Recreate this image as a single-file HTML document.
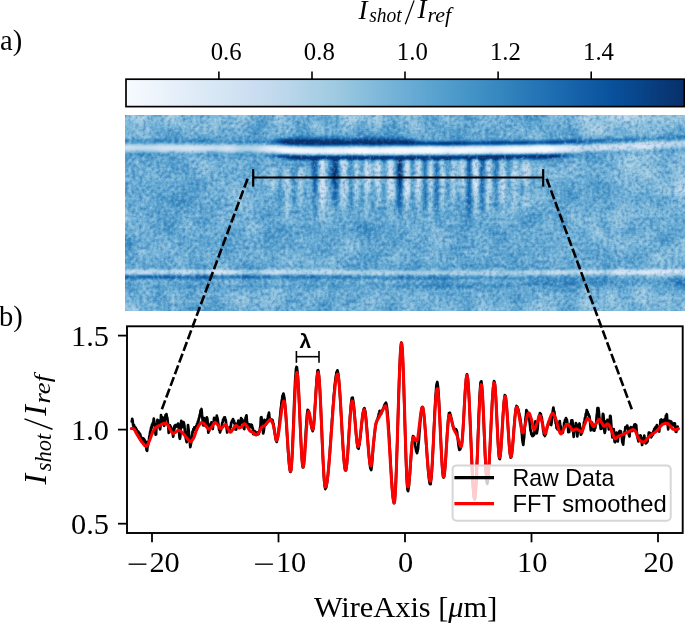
<!DOCTYPE html><html><head><meta charset="utf-8"><style>
html,body{margin:0;padding:0;background:#fff;width:685px;height:624px;overflow:hidden}
body{position:relative}
#hm{position:absolute;left:125px;top:0;width:560px;height:624px}
#hm div{position:absolute;left:0;width:560px}
#cb{position:absolute;left:125.8px;top:79.2px;width:558.5px;height:27.4px;background:linear-gradient(90deg,#f7fbff 0.0%,#eff6fc 4.2%,#e7f0fa 8.3%,#deebf7 12.5%,#d6e6f4 16.7%,#cee0f2 20.8%,#c7dbef 25.0%,#b9d6ea 29.2%,#abd0e6 33.3%,#9fcae1 37.5%,#8dc1dd 41.7%,#7cb7da 45.8%,#6caed6 50.0%,#5da5d1 54.2%,#4f9bcb 58.3%,#4292c6 62.5%,#3787c0 66.7%,#2c7cba 70.8%,#2171b5 75.0%,#1966ad 79.2%,#105ba4 83.3%,#08509b 87.5%,#08468b 91.7%,#083a7a 95.8%,#08306b 100.0%)}
</style></head><body>
<div id="hm"><div style="top:115px;height:3px;background:linear-gradient(90deg,#8abfdd 0.5px,#95c5df 6.5px,#add1e6 14.5px,#a0cbe2 19.5px,#7ab6d9 26.5px,#79b5d9 32.5px,#8dc1dd 38.5px,#a1cbe2 43.5px,#9dc9e1 48.5px,#79b6d9 57.5px,#7bb7d9 63.5px,#79b6d9 69.5px,#6baed6 76.5px,#7fb9da 88.5px,#81badb 96.5px,#6eb0d7 104.5px,#80badb 109.5px,#95c5df 114.5px,#95c5df 119.5px,#78b5d9 127.5px,#539dcd 134.5px,#519ccc 139.5px,#76b4d8 147.5px,#96c6df 153.5px,#98c6e0 157.5px,#71b1d7 165.5px,#68acd5 192.5px,#56a0ce 200.5px,#6fb0d7 213.5px,#96c6df 219.5px,#b0d2e7 224.5px,#abd0e6 228.5px,#84bcdb 236.5px,#81badb 242.5px,#a1cbe2 252.5px,#9ac8e0 256.5px,#6dafd6 263.5px,#68acd5 267.5px,#86bddc 281.5px,#84bcdb 290.5px,#6baed6 296.5px,#559fcd 302.5px,#5ba3d0 308.5px,#7eb9da 317.5px,#78b5d9 328.5px,#68acd5 335.5px,#4b98ca 342.5px,#4f9bcb 346.5px,#74b3d8 354.5px,#78b5d9 363.5px,#74b3d8 372.5px,#75b4d8 378.5px,#5fa6d1 386.5px,#56a0ce 397.5px,#4494c7 405.5px,#559fcd 414.5px,#85bcdc 430.5px,#79b6d9 437.5px,#71b1d7 445.5px,#83bbdb 452.5px,#a8cee5 459.5px,#aacfe5 463.5px,#85bcdc 471.5px,#8bbfdd 476.5px,#acd0e6 487.5px,#bfd8ec 499.5px,#b5d4e9 505.5px,#a1cbe2 512.5px,#a6cde4 520.5px,#90c2de 529.5px,#95c5df 544.5px,#9fcae1 551.5px,#8ec1de 559.5px)"></div><div style="top:118px;height:2px;background:linear-gradient(90deg,#82bbdb 0.5px,#8fc2de 6.5px,#a5cde3 12.5px,#a3cce3 17.5px,#79b5d9 26.5px,#76b4d8 32.5px,#90c2de 39.5px,#9dcae1 44.5px,#8ec1de 51.5px,#79b6d9 59.5px,#7eb9da 68.5px,#71b1d7 76.5px,#87bddc 91.5px,#81badb 97.5px,#71b2d7 103.5px,#7db8da 108.5px,#93c4df 114.5px,#8dc0dd 120.5px,#4d9aca 135.5px,#519ccc 139.5px,#7db8da 148.5px,#97c6df 154.5px,#95c5df 157.5px,#6eb0d7 165.5px,#6aadd5 180.5px,#73b2d8 191.5px,#5ba3d0 200.5px,#6eb0d7 213.5px,#a4cde3 222.5px,#a9cfe5 226.5px,#96c6df 231.5px,#81badb 236.5px,#80b9da 242.5px,#9ecae1 251.5px,#9ac8e0 255.5px,#69add5 263.5px,#65aad3 267.5px,#83bbdb 282.5px,#88bedc 291.5px,#72b2d8 296.5px,#58a1ce 302.5px,#59a2cf 307.5px,#7db8da 318.5px,#78b5d9 330.5px,#4f9bcb 343.5px,#57a0ce 347.5px,#77b5d9 356.5px,#79b5d9 364.5px,#72b2d8 371.5px,#77b5d9 377.5px,#61a7d2 386.5px,#5fa6d1 395.5px,#4896c8 405.5px,#58a1cf 414.5px,#81badb 429.5px,#79b5d9 435.5px,#6eb0d7 442.5px,#7db8da 451.5px,#a3cce3 459.5px,#a5cde3 463.5px,#88bedc 471.5px,#93c4df 478.5px,#aacfe5 490.5px,#b4d3e9 501.5px,#9dcae1 513.5px,#9fcbe2 520.5px,#8ec1de 527.5px,#96c6df 548.5px,#92c4de 557.5px,#91c3de 559.5px)"></div><div style="top:120px;height:1px;background:linear-gradient(90deg,#7cb7da 0.5px,#8abfdd 6.5px,#a1cbe2 13.5px,#9ac8e0 18.5px,#77b5d9 26.5px,#74b3d8 32.5px,#87bddc 38.5px,#99c7e0 44.5px,#7db8da 58.5px,#81badb 68.5px,#74b3d8 76.5px,#8cc0dd 91.5px,#7db8da 98.5px,#74b3d8 104.5px,#91c3de 114.5px,#82bbdb 121.5px,#4d99ca 134.5px,#519ccc 139.5px,#92c4de 153.5px,#92c4de 157.5px,#6dafd7 165.5px,#64a9d3 178.5px,#7ab6d9 190.5px,#71b1d7 194.5px,#5fa6d1 200.5px,#6dafd7 213.5px,#a0cbe2 222.5px,#a1cbe2 227.5px,#7db8da 236.5px,#7db8da 242.5px,#9ac8e0 251.5px,#95c5df 255.5px,#65aad4 263.5px,#61a7d2 267.5px,#8cc0dd 288.5px,#87bddc 293.5px,#5da5d1 301.5px,#58a1cf 306.5px,#79b5d9 318.5px,#79b5d9 330.5px,#549fcd 343.5px,#5da5d1 348.5px,#79b5d9 357.5px,#79b5d9 364.5px,#71b1d7 370.5px,#77b5d9 377.5px,#61a7d2 386.5px,#63a8d3 395.5px,#4b98ca 405.5px,#5da5d1 415.5px,#7fb9da 429.5px,#6aaed6 440.5px,#7cb7da 451.5px,#a1cbe2 460.5px,#9cc9e1 465.5px,#8abfdd 471.5px,#a1cbe2 489.5px,#abd0e6 502.5px,#99c7e0 514.5px,#99c7e0 520.5px,#8abfdd 527.5px,#94c4df 539.5px,#8fc2de 551.5px,#91c3de 559.5px)"></div><div style="top:121px;height:1px;background:linear-gradient(90deg,#79b5d9 0.5px,#85bcdc 6.5px,#9cc9e1 12.5px,#9cc9e1 16.5px,#72b2d8 28.5px,#75b4d8 34.5px,#92c4de 43.5px,#8abfdd 50.5px,#7fb9da 60.5px,#7fb9da 70.5px,#79b5d9 77.5px,#8dc1dd 90.5px,#84bcdb 96.5px,#74b3d8 103.5px,#82bbdb 109.5px,#8dc1dd 114.5px,#82bbdb 120.5px,#4d99ca 133.5px,#4e9acb 138.5px,#8dc1dd 152.5px,#91c3de 156.5px,#7ab6d9 162.5px,#69add5 167.5px,#61a7d2 178.5px,#7ab6d9 187.5px,#7fb9da 191.5px,#61a7d2 200.5px,#6aaed6 212.5px,#8abfdd 218.5px,#9dcae1 222.5px,#9dcae1 226.5px,#7ab6d9 236.5px,#7cb7da 242.5px,#99c7e0 251.5px,#92c4de 255.5px,#61a7d2 263.5px,#60a7d2 268.5px,#8fc2de 290.5px,#7fb9da 295.5px,#5fa6d1 301.5px,#58a1cf 306.5px,#75b4d8 318.5px,#7ab6d9 329.5px,#58a1cf 342.5px,#5fa6d1 348.5px,#7ab6d9 358.5px,#7ab6d9 363.5px,#71b1d7 370.5px,#77b5d9 377.5px,#63a8d3 385.5px,#66abd4 394.5px,#4e9acb 405.5px,#64a9d3 417.5px,#7cb7da 429.5px,#69add5 439.5px,#71b1d7 447.5px,#8fc2de 456.5px,#9fcae1 461.5px,#97c6df 466.5px,#8dc1dd 472.5px,#9ac8e0 483.5px,#a4cce3 504.5px,#95c5df 514.5px,#94c4df 520.5px,#89bedc 527.5px,#94c4df 539.5px,#8abfdd 551.5px,#8fc2de 559.5px)"></div><div style="top:122px;height:1px;background:linear-gradient(90deg,#75b4d8 0.5px,#7fb9da 5.5px,#99c7e0 13.5px,#8fc2de 19.5px,#71b1d7 29.5px,#72b2d8 34.5px,#8dc1dd 43.5px,#7fb9da 60.5px,#82bbdb 69.5px,#7ab6d9 77.5px,#91c3de 90.5px,#84bcdb 96.5px,#74b3d8 102.5px,#82bbdb 109.5px,#8abfdd 114.5px,#81badb 119.5px,#4b98ca 133.5px,#4b98ca 137.5px,#7fb9da 149.5px,#8dc1dd 154.5px,#87bddc 159.5px,#6caed6 166.5px,#5da5d1 177.5px,#6aaed6 183.5px,#84bcdb 190.5px,#7cb7da 194.5px,#64a9d3 200.5px,#6aaed6 212.5px,#9ac8e0 222.5px,#99c7e0 226.5px,#75b4d8 237.5px,#7cb7da 243.5px,#95c5df 250.5px,#92c4de 254.5px,#63a8d3 262.5px,#5ba3d0 267.5px,#91c3de 290.5px,#87bddc 294.5px,#60a7d2 301.5px,#5aa2cf 306.5px,#72b2d8 319.5px,#7ab6d9 328.5px,#5ba3d0 342.5px,#61a7d2 348.5px,#7cb7da 359.5px,#75b4d8 365.5px,#6fb0d7 370.5px,#75b4d8 377.5px,#63a8d3 385.5px,#6aaed6 394.5px,#529dcc 404.5px,#5ca4d0 413.5px,#79b5d9 429.5px,#66abd4 439.5px,#6dafd7 447.5px,#9dcae1 461.5px,#91c3de 471.5px,#99c7e0 481.5px,#95c5df 491.5px,#9dcae1 505.5px,#92c4de 515.5px,#8abfdd 522.5px,#8abfdd 529.5px,#92c4de 539.5px,#82bbdb 551.5px,#8cc0dd 559.5px)"></div><div style="top:123px;height:1px;background:linear-gradient(90deg,#74b3d8 0.5px,#81badb 6.5px,#94c4df 13.5px,#87bddc 21.5px,#6dafd7 30.5px,#79b5d9 37.5px,#87bddc 44.5px,#82bbdb 63.5px,#7fb9da 73.5px,#82bbdb 80.5px,#92c4de 89.5px,#85bcdc 95.5px,#74b3d8 102.5px,#89bedc 114.5px,#6caed6 123.5px,#4a98c9 133.5px,#4f9bcb 138.5px,#85bcdc 152.5px,#89bedc 157.5px,#64a9d3 170.5px,#5aa2cf 177.5px,#69add5 183.5px,#85bcdc 189.5px,#84bcdb 193.5px,#66abd4 200.5px,#6aaed6 212.5px,#94c4df 221.5px,#94c4df 225.5px,#74b3d8 236.5px,#74b3d8 241.5px,#94c4df 251.5px,#84bcdb 256.5px,#5fa6d1 262.5px,#57a0ce 267.5px,#7fb9da 283.5px,#92c4de 290.5px,#89bedc 294.5px,#63a8d3 301.5px,#5ba3d0 306.5px,#6dafd7 319.5px,#77b5d9 329.5px,#5da5d1 341.5px,#63a8d3 348.5px,#7cb7da 360.5px,#6dafd7 370.5px,#74b3d8 377.5px,#63a8d3 384.5px,#6fb0d7 393.5px,#56a0ce 404.5px,#61a7d2 415.5px,#75b4d8 429.5px,#64a9d3 441.5px,#71b1d7 449.5px,#9cc9e1 461.5px,#97c6df 473.5px,#97c6df 481.5px,#8dc1dd 491.5px,#97c6df 506.5px,#85bcdc 526.5px,#92c4de 538.5px,#81badb 547.5px,#7db8da 553.5px,#89bedc 559.5px)"></div><div style="top:124px;height:1px;background:linear-gradient(90deg,#72b2d8 0.5px,#85bcdc 8.5px,#91c3de 15.5px,#7ab6d9 25.5px,#6caed6 32.5px,#81badb 45.5px,#81badb 73.5px,#84bcdb 80.5px,#92c4de 89.5px,#84bcdb 95.5px,#74b3d8 101.5px,#7ab6d9 107.5px,#85bcdc 114.5px,#6fb0d7 121.5px,#4a98c9 132.5px,#4d99ca 137.5px,#82bbdb 152.5px,#82bbdb 159.5px,#57a0ce 176.5px,#5fa6d1 181.5px,#87bddc 189.5px,#87bddc 193.5px,#69add5 200.5px,#6aaed6 212.5px,#8fc2de 220.5px,#8fc2de 225.5px,#6fb0d7 236.5px,#6fb0d7 241.5px,#8dc1dd 249.5px,#8dc1dd 253.5px,#57a0ce 263.5px,#56a0ce 268.5px,#77b5d9 281.5px,#92c4de 290.5px,#8abfdd 294.5px,#64a9d3 301.5px,#5ba3d0 306.5px,#74b3d8 329.5px,#60a7d2 340.5px,#66abd4 349.5px,#7ab6d9 360.5px,#6aaed6 369.5px,#72b2d8 376.5px,#63a8d3 384.5px,#72b2d8 393.5px,#5aa2cf 404.5px,#64a9d3 416.5px,#72b2d8 430.5px,#61a7d2 441.5px,#6aaed6 448.5px,#9ac8e0 461.5px,#9ac8e0 479.5px,#87bddc 491.5px,#8cc0dd 501.5px,#92c4de 508.5px,#85bcdc 526.5px,#8fc2de 540.5px,#75b4d8 550.5px,#82bbdb 559.5px)"></div><div style="top:125px;height:2px;background:linear-gradient(90deg,#74b3d8 0.5px,#8cc0dd 15.5px,#7db8da 24.5px,#6aadd5 32.5px,#77b5d9 46.5px,#84bcdb 70.5px,#84bcdb 79.5px,#91c3de 89.5px,#71b2d7 100.5px,#7cb7da 109.5px,#80b9da 115.5px,#4f9bcb 129.5px,#4b98c9 135.5px,#7cb7da 152.5px,#7fb9da 161.5px,#539ecd 176.5px,#5ca3d0 181.5px,#89bedc 189.5px,#8cc0dd 192.5px,#6baed6 201.5px,#6aaed6 212.5px,#8abfdd 220.5px,#86bddc 225.5px,#6aadd5 235.5px,#6baed6 242.5px,#89bedc 249.5px,#86bddc 253.5px,#529dcc 263.5px,#519ccc 268.5px,#6dafd7 279.5px,#8fc2de 288.5px,#8dc0dd 293.5px,#63a9d3 302.5px,#5da4d0 307.5px,#6baed6 325.5px,#6dafd6 330.5px,#5fa6d1 339.5px,#75b3d8 361.5px,#68acd5 369.5px,#6fb0d7 376.5px,#61a7d2 384.5px,#75b3d8 393.5px,#5fa6d1 404.5px,#6eb0d7 431.5px,#5da5d1 443.5px,#6dafd7 450.5px,#9ac8e0 461.5px,#a1cbe2 476.5px,#80b9da 490.5px,#7db8da 498.5px,#8ec1de 508.5px,#85bcdc 525.5px,#8abfdd 539.5px,#7db8da 545.5px,#6dafd6 550.5px,#72b2d8 555.5px,#7ab6d9 559.5px)"></div><div style="top:127px;height:2px;background:linear-gradient(90deg,#76b4d8 0.5px,#88bedc 17.5px,#7fb9da 24.5px,#68acd5 32.5px,#6fb0d7 51.5px,#83bbdb 68.5px,#80b9da 78.5px,#8dc1dd 88.5px,#6dafd7 99.5px,#7bb7d9 115.5px,#4f9bcb 127.5px,#4d9aca 134.5px,#75b3d8 151.5px,#81badb 162.5px,#71b2d7 167.5px,#519ccc 175.5px,#549ecd 180.5px,#7db8da 187.5px,#8bc0dd 191.5px,#81badb 196.5px,#6dafd6 202.5px,#6aadd5 212.5px,#84bcdb 220.5px,#80b9da 224.5px,#64a9d3 233.5px,#5fa6d1 240.5px,#75b3d8 246.5px,#81badb 250.5px,#78b5d9 254.5px,#4f9bcb 262.5px,#4a98c9 267.5px,#5da5d1 276.5px,#8abfdd 287.5px,#89bedc 293.5px,#63a8d3 303.5px,#5ea5d1 313.5px,#62a8d2 324.5px,#60a7d2 332.5px,#5da4d0 339.5px,#6aaed6 350.5px,#6baed6 362.5px,#65aad3 370.5px,#6baed6 376.5px,#61a7d2 384.5px,#77b5d9 392.5px,#65aad4 403.5px,#66abd4 426.5px,#66abd4 435.5px,#58a1cf 444.5px,#6aadd5 451.5px,#9dc9e1 462.5px,#a6cde4 472.5px,#99c7e0 479.5px,#7bb7d9 489.5px,#71b2d7 497.5px,#8bc0dd 509.5px,#84bcdb 523.5px,#87bddc 532.5px,#7cb7da 543.5px,#65aad4 551.5px,#6dafd6 559.5px)"></div><div style="top:129px;height:2px;background:linear-gradient(90deg,#77b5d9 0.5px,#86bddc 20.5px,#79b5d9 26.5px,#66abd4 32.5px,#61a7d2 49.5px,#81badb 67.5px,#79b5d9 77.5px,#87bddc 87.5px,#75b4d8 93.5px,#6aadd5 98.5px,#78b5d9 113.5px,#73b2d8 117.5px,#509ccb 125.5px,#4f9bcb 132.5px,#71b1d7 149.5px,#82bbdb 161.5px,#7eb9da 165.5px,#509ccb 174.5px,#4f9bcb 179.5px,#71b2d7 186.5px,#85bcdc 190.5px,#85bcdc 194.5px,#6dafd7 203.5px,#67abd4 212.5px,#7db8da 220.5px,#79b5d9 224.5px,#5ca3d0 233.5px,#58a1ce 240.5px,#76b4d8 250.5px,#6eb0d7 254.5px,#4997c9 263.5px,#4a98c9 269.5px,#61a7d2 278.5px,#84bcdb 286.5px,#80b9da 293.5px,#5fa6d1 306.5px,#56a0ce 333.5px,#5aa2cf 339.5px,#69add5 347.5px,#63a8d3 363.5px,#61a7d2 370.5px,#69add5 377.5px,#63a9d3 384.5px,#76b4d8 393.5px,#68acd5 402.5px,#6dafd6 411.5px,#61a7d2 423.5px,#66abd4 435.5px,#529dcc 445.5px,#66aad4 452.5px,#9bc8e0 462.5px,#a7cee4 471.5px,#99c7e0 478.5px,#74b3d8 491.5px,#6dafd7 498.5px,#89bedc 510.5px,#82bbdb 522.5px,#89bedc 529.5px,#76b4d8 540.5px,#61a7d2 553.5px,#65aad4 559.5px)"></div><div style="top:131px;height:2px;background:linear-gradient(90deg,#77b5d9 0.5px,#84bcdb 16.5px,#85bcdc 22.5px,#66aad4 31.5px,#58a1ce 47.5px,#69add5 58.5px,#7db8da 65.5px,#6dafd6 76.5px,#7eb9da 87.5px,#67abd4 96.5px,#70b1d7 111.5px,#75b3d8 116.5px,#4f9bcb 125.5px,#519ccc 131.5px,#70b1d7 146.5px,#79b6d9 158.5px,#81badb 163.5px,#71b1d7 167.5px,#4c99ca 174.5px,#4c99ca 179.5px,#7ab6d9 190.5px,#7bb7d9 195.5px,#61a7d2 210.5px,#6caed6 216.5px,#78b5d9 221.5px,#66abd4 227.5px,#519ccc 235.5px,#549ecd 242.5px,#6baed6 250.5px,#62a8d2 255.5px,#4896c8 263.5px,#519ccc 273.5px,#65aad4 280.5px,#7cb7da 286.5px,#74b3d8 295.5px,#5fa6d1 309.5px,#549fcd 327.5px,#4e9acb 335.5px,#69add5 347.5px,#5ca4d0 369.5px,#68acd5 378.5px,#67abd4 386.5px,#71b1d7 393.5px,#6baed6 402.5px,#79b5d9 410.5px,#5fa6d1 421.5px,#65aad3 436.5px,#4d99ca 446.5px,#58a1cf 451.5px,#95c5df 462.5px,#a2cce2 469.5px,#9ac8e0 475.5px,#81badb 484.5px,#6eb0d7 497.5px,#86bddc 512.5px,#80b9da 521.5px,#87bddc 529.5px,#6dafd6 539.5px,#5fa6d1 555.5px,#5fa6d1 559.5px)"></div><div style="top:133px;height:1px;background:linear-gradient(90deg,#77b5d9 0.5px,#7db8da 13.5px,#89bedc 20.5px,#7cb7da 25.5px,#66abd4 30.5px,#539ecd 47.5px,#60a7d2 56.5px,#79b5d9 64.5px,#6fb0d7 70.5px,#65aad4 76.5px,#77b5d9 87.5px,#66abd4 96.5px,#6caed6 105.5px,#6caed6 111.5px,#72b2d8 116.5px,#519ccc 125.5px,#56a0ce 132.5px,#72b2d8 146.5px,#74b3d8 158.5px,#79b5d9 163.5px,#64a9d3 168.5px,#4a98c9 173.5px,#4695c8 177.5px,#5fa6d1 185.5px,#71b1d7 192.5px,#63a8d3 205.5px,#5ca4d0 212.5px,#71b1d7 221.5px,#5fa6d1 228.5px,#4b98ca 235.5px,#4d99ca 242.5px,#63a8d3 251.5px,#4f9bcb 259.5px,#4695c8 265.5px,#5ba3d0 278.5px,#75b4d8 286.5px,#65aad4 303.5px,#5aa2cf 322.5px,#4997c9 334.5px,#57a0ce 340.5px,#69add5 347.5px,#58a1cf 368.5px,#69add5 379.5px,#6aaed6 389.5px,#6aaed6 396.5px,#6caed6 401.5px,#81badb 408.5px,#7db8da 412.5px,#60a7d2 420.5px,#61a7d2 431.5px,#60a7d2 438.5px,#4997c9 446.5px,#529dcc 451.5px,#81badb 459.5px,#92c4de 463.5px,#9ac8e0 471.5px,#7db8da 483.5px,#71b1d7 498.5px,#84bcdb 513.5px,#7db8da 522.5px,#85bcdc 528.5px,#66abd4 538.5px,#56a0ce 559.5px)"></div><div style="top:134px;height:1px;background:linear-gradient(90deg,#77b5d9 0.5px,#7fb9da 14.5px,#89bedc 20.5px,#75b4d8 26.5px,#63a8d3 31.5px,#58a1cf 40.5px,#519ccc 47.5px,#60a7d2 57.5px,#77b5d9 64.5px,#6fb0d7 69.5px,#60a7d2 75.5px,#74b3d8 87.5px,#68acd5 96.5px,#6dafd7 104.5px,#6aaed6 111.5px,#6fb0d7 116.5px,#529dcc 125.5px,#5ca4d0 134.5px,#74b3d8 146.5px,#6caed6 158.5px,#6caed6 164.5px,#4292c6 174.5px,#4594c7 179.5px,#63a8d3 190.5px,#64a9d3 199.5px,#549fcd 211.5px,#6aaed6 222.5px,#529dcc 230.5px,#4493c7 237.5px,#4d99ca 245.5px,#5aa2cf 251.5px,#4896c8 260.5px,#4493c7 266.5px,#5aa2cf 279.5px,#71b1d7 287.5px,#63a8d3 310.5px,#5da5d1 320.5px,#4896c8 333.5px,#529dcc 339.5px,#68acd5 346.5px,#5da5d1 361.5px,#57a0ce 369.5px,#69add5 379.5px,#6aaed6 400.5px,#87bddc 409.5px,#7fb9da 413.5px,#64a9d3 419.5px,#5da5d1 427.5px,#63a8d3 437.5px,#4896c8 446.5px,#4e9acb 451.5px,#6fb0d7 457.5px,#87bddc 461.5px,#92c4de 468.5px,#8dc1dd 474.5px,#7ab6d9 482.5px,#75b4d8 493.5px,#75b4d8 507.5px,#7fb9da 514.5px,#79b5d9 522.5px,#7db8da 528.5px,#6dafd7 533.5px,#5ba3d0 539.5px,#4997c9 559.5px)"></div><div style="top:135px;height:1px;background:linear-gradient(90deg,#77b5d9 0.5px,#7db8da 14.5px,#87bddc 20.5px,#79b5d9 25.5px,#63a8d3 30.5px,#57a0ce 40.5px,#519ccc 47.5px,#5ba3d0 56.5px,#75b4d8 64.5px,#6aaed6 69.5px,#5ba3d0 75.5px,#69add5 83.5px,#6fb0d7 88.5px,#68acd5 96.5px,#6fb0d7 103.5px,#66abd4 110.5px,#6caed6 117.5px,#539ecd 126.5px,#63a8d3 137.5px,#72b2d8 145.5px,#60a7d2 159.5px,#5ba3d0 165.5px,#3d8dc4 172.5px,#3d8dc4 179.5px,#56a0ce 191.5px,#549fcd 202.5px,#4a98c9 211.5px,#60a7d2 222.5px,#4a98c9 230.5px,#3d8dc4 237.5px,#4191c6 245.5px,#4e9acb 252.5px,#3d8dc4 263.5px,#4f9bcb 278.5px,#6aaed6 287.5px,#69add5 301.5px,#65aad4 312.5px,#56a0ce 325.5px,#4695c8 333.5px,#529dcc 339.5px,#68acd5 346.5px,#5da5d1 361.5px,#56a0ce 369.5px,#69add5 379.5px,#69add5 399.5px,#8abfdd 409.5px,#82bbdb 413.5px,#63a8d3 420.5px,#5ca4d0 429.5px,#60a7d2 438.5px,#4594c7 447.5px,#4e9acb 452.5px,#82bbdb 461.5px,#8abfdd 471.5px,#74b3d8 483.5px,#74b3d8 492.5px,#6aaed6 507.5px,#74b3d8 515.5px,#6caed6 522.5px,#71b1d7 528.5px,#4b98ca 539.5px,#3b8bc2 559.5px)"></div><div style="top:136px;height:1px;background:linear-gradient(90deg,#74b3d8 0.5px,#79b5d9 14.5px,#82bbdb 21.5px,#60a7d2 30.5px,#4f9bcb 47.5px,#58a1cf 56.5px,#72b2d8 64.5px,#66abd4 69.5px,#56a0ce 75.5px,#5fa6d1 81.5px,#6aaed6 88.5px,#69add5 97.5px,#6fb0d7 102.5px,#64a9d3 111.5px,#68acd5 117.5px,#549fcd 126.5px,#60a7d2 136.5px,#71b1d7 145.5px,#56a0ce 155.5px,#3d8dc4 168.5px,#2f7fbc 174.5px,#4695c8 196.5px,#3b8bc2 211.5px,#519ccc 222.5px,#3282be 237.5px,#3686c0 246.5px,#3e8ec4 253.5px,#3383be 264.5px,#4695c8 279.5px,#64a9d3 288.5px,#6caed6 299.5px,#66abd4 311.5px,#5ca4d0 323.5px,#4695c8 333.5px,#4e9acb 338.5px,#69add5 346.5px,#5ca4d0 362.5px,#549fcd 369.5px,#68acd5 380.5px,#66abd4 398.5px,#7ab6d9 404.5px,#8cc0dd 409.5px,#85bcdc 413.5px,#64a9d3 420.5px,#5aa2cf 429.5px,#5fa6d1 438.5px,#4292c6 448.5px,#4a98c9 452.5px,#79b5d9 461.5px,#7db8da 468.5px,#7ab6d9 474.5px,#69add5 482.5px,#69add5 493.5px,#5ba3d0 508.5px,#63a8d3 515.5px,#5ba3d0 523.5px,#5ca4d0 529.5px,#3b8bc2 539.5px,#3282be 559.5px)"></div><div style="top:137px;height:1px;background:linear-gradient(90deg,#6dafd7 0.5px,#6fb0d7 14.5px,#7ab6d9 20.5px,#66abd4 26.5px,#58a1cf 32.5px,#529dcc 40.5px,#4b98ca 48.5px,#549fcd 56.5px,#6caed6 64.5px,#60a7d2 69.5px,#4e9acb 75.5px,#5ba3d0 82.5px,#64a9d3 89.5px,#68acd5 97.5px,#6aaed6 103.5px,#5fa6d1 111.5px,#60a7d2 119.5px,#539ecd 128.5px,#63a8d3 139.5px,#69add5 145.5px,#56a0ce 151.5px,#3888c1 158.5px,#206fb4 174.5px,#3282be 200.5px,#2a7ab9 211.5px,#3d8dc4 222.5px,#2272b6 238.5px,#2575b7 247.5px,#2c7cba 254.5px,#2474b7 264.5px,#3a8ac2 280.5px,#61a7d2 291.5px,#6caed6 299.5px,#66abd4 311.5px,#5ba3d0 324.5px,#4695c8 333.5px,#4d99ca 338.5px,#69add5 346.5px,#5da5d1 361.5px,#529dcc 369.5px,#64a9d3 379.5px,#63a8d3 398.5px,#7cb7da 405.5px,#8abfdd 410.5px,#7fb9da 414.5px,#63a8d3 420.5px,#549fcd 430.5px,#58a1cf 438.5px,#3d8dc4 448.5px,#4292c6 452.5px,#68acd5 460.5px,#6caed6 465.5px,#65aad4 475.5px,#58a1cf 482.5px,#549fcd 496.5px,#4493c7 507.5px,#4f9bcb 515.5px,#4a98c9 523.5px,#4b98ca 530.5px,#3282be 539.5px,#3585bf 559.5px)"></div><div style="top:138px;height:1px;background:linear-gradient(90deg,#64a9d3 0.5px,#63a8d3 14.5px,#69add5 21.5px,#4e9acb 31.5px,#4a98c9 40.5px,#4594c7 48.5px,#4b98ca 56.5px,#63a8d3 64.5px,#529dcc 70.5px,#4493c7 75.5px,#4a98c9 80.5px,#5aa2cf 87.5px,#63a8d3 102.5px,#549fcd 111.5px,#56a0ce 120.5px,#4d99ca 131.5px,#5fa6d1 143.5px,#529dcc 148.5px,#2373b6 157.5px,#1562a9 167.5px,#115ca5 175.5px,#1b69af 202.5px,#1663aa 211.5px,#2676b8 222.5px,#115ca5 243.5px,#1865ac 255.5px,#1562a9 264.5px,#2575b7 280.5px,#539ecd 291.5px,#66abd4 298.5px,#5fa6d1 319.5px,#4b98ca 329.5px,#4292c6 335.5px,#65aad4 346.5px,#5aa2cf 361.5px,#4b98ca 369.5px,#5ca4d0 381.5px,#5aa2cf 398.5px,#71b1d7 405.5px,#7db8da 409.5px,#77b5d9 413.5px,#56a0ce 422.5px,#4896c8 430.5px,#4a98c9 439.5px,#3181bd 449.5px,#3c8cc3 454.5px,#56a0ce 461.5px,#4d99ca 475.5px,#3f8fc5 483.5px,#3d8dc4 498.5px,#3282be 507.5px,#4191c6 516.5px,#4292c6 524.5px,#4896c8 530.5px,#3585bf 540.5px,#4594c7 559.5px)"></div><div style="top:139px;height:1px;background:linear-gradient(90deg,#57a0ce 0.5px,#549fcd 9.5px,#56a0ce 16.5px,#57a0ce 22.5px,#4292c6 30.5px,#3e8ec4 42.5px,#3e8ec4 55.5px,#56a0ce 64.5px,#4594c7 70.5px,#3888c1 76.5px,#4d99ca 88.5px,#57a0ce 102.5px,#4695c8 111.5px,#4896c8 121.5px,#4292c6 134.5px,#4f9bcb 142.5px,#4292c6 147.5px,#135fa7 156.5px,#08509b 161.5px,#084488 173.5px,#084b93 186.5px,#08509b 198.5px,#084e98 205.5px,#084b93 211.5px,#125ea6 221.5px,#09529d 233.5px,#08468b 244.5px,#084e98 255.5px,#084c95 263.5px,#0e58a2 272.5px,#1460a8 281.5px,#4695c8 293.5px,#5ba3d0 299.5px,#529dcc 321.5px,#3a8ac2 334.5px,#4695c8 340.5px,#5aa2cf 346.5px,#4e9acb 360.5px,#3d8dc4 369.5px,#4997c9 381.5px,#4594c7 393.5px,#4997c9 400.5px,#63a8d3 409.5px,#5ca4d0 414.5px,#3a8ac2 425.5px,#3282be 432.5px,#3383be 440.5px,#1e6db2 449.5px,#2979b9 454.5px,#3b8bc2 461.5px,#3383be 476.5px,#2c7cba 485.5px,#3181bd 500.5px,#2c7cba 507.5px,#4493c7 516.5px,#4997c9 523.5px,#56a0ce 530.5px,#4695c8 540.5px,#61a7d2 559.5px)"></div><div style="top:140px;height:1px;background:linear-gradient(90deg,#4f9bcb 0.5px,#4a98c9 9.5px,#4997c9 16.5px,#4a98c9 22.5px,#3b8bc2 30.5px,#3989c1 42.5px,#3989c1 56.5px,#4b98ca 64.5px,#3c8cc3 70.5px,#3181bd 75.5px,#4191c6 89.5px,#4d99ca 101.5px,#3b8bc2 112.5px,#3888c1 129.5px,#3a8ac2 136.5px,#4090c5 142.5px,#2d7dbb 148.5px,#08509b 155.5px,#083b7c 160.5px,#08316d 168.5px,#083370 178.5px,#083471 194.5px,#083877 202.5px,#083370 210.5px,#08478d 221.5px,#084184 232.5px,#08306b 243.5px,#083674 251.5px,#083877 263.5px,#08458a 272.5px,#08458a 280.5px,#0c56a0 285.5px,#3585bf 295.5px,#4493c7 302.5px,#3484bf 327.5px,#2979b9 335.5px,#4191c6 346.5px,#3383be 362.5px,#2676b8 370.5px,#2f7fbc 385.5px,#2a7ab9 399.5px,#3f8fc5 410.5px,#3181bd 418.5px,#1966ad 429.5px,#1a68ae 441.5px,#0e59a2 449.5px,#1c6bb0 456.5px,#2676b8 461.5px,#2272b6 479.5px,#2a7ab9 488.5px,#3686c0 500.5px,#3686c0 507.5px,#57a0ce 515.5px,#63a8d3 524.5px,#71b1d7 530.5px,#65aad4 540.5px,#85bcdc 559.5px)"></div><div style="top:141px;height:1px;background:linear-gradient(90deg,#539ecd 0.5px,#4d99ca 8.5px,#4896c8 15.5px,#4997c9 22.5px,#3d8dc4 30.5px,#3d8dc4 42.5px,#3b8bc2 56.5px,#4b98ca 64.5px,#3282be 75.5px,#4b98ca 100.5px,#3787c0 113.5px,#3484bf 129.5px,#3787c0 137.5px,#3787c0 143.5px,#1d6cb1 149.5px,#084c95 154.5px,#083573 158.5px,#08306b 160.5px,#08316d 218.5px,#083573 224.5px,#08306b 242.5px,#08316d 267.5px,#083674 272.5px,#08316d 280.5px,#083c7d 285.5px,#0b559f 291.5px,#2171b5 299.5px,#2070b4 311.5px,#1561a9 330.5px,#125ea6 337.5px,#2474b7 346.5px,#1865ac 362.5px,#0e59a2 370.5px,#1561a9 389.5px,#105ba4 399.5px,#2070b4 410.5px,#1966ad 418.5px,#084e98 429.5px,#0e58a2 442.5px,#08509b 449.5px,#206fb4 461.5px,#3080bd 485.5px,#4d99ca 498.5px,#4e9acb 506.5px,#6caed6 512.5px,#7db8da 516.5px,#85bcdc 523.5px,#99c7e0 530.5px,#8abfdd 539.5px,#a4cce3 559.5px)"></div><div style="top:142px;height:1px;background:linear-gradient(90deg,#65aad4 0.5px,#5ca4d0 8.5px,#56a0ce 15.5px,#56a0ce 22.5px,#4d99ca 30.5px,#539ecd 39.5px,#4997c9 53.5px,#57a0ce 61.5px,#58a1cf 66.5px,#3f8fc5 74.5px,#4b98ca 89.5px,#57a0ce 101.5px,#3e8ec4 113.5px,#3d8dc4 136.5px,#3e8ec4 142.5px,#2777b8 148.5px,#08509b 154.5px,#083471 159.5px,#08306b 163.5px,#08326e 269.5px,#08316d 286.5px,#08509b 297.5px,#0a549e 304.5px,#084990 321.5px,#08468b 329.5px,#084285 335.5px,#084c95 340.5px,#0f5aa3 346.5px,#08509b 361.5px,#08458a 369.5px,#08509b 390.5px,#084a91 398.5px,#115ca5 406.5px,#1764ab 413.5px,#084d96 427.5px,#084e98 432.5px,#1460a8 441.5px,#125ea6 450.5px,#2b7bba 460.5px,#4493c7 480.5px,#5ca4d0 490.5px,#74b3d8 499.5px,#75b4d8 506.5px,#8abfdd 510.5px,#a3cce3 514.5px,#a8cee4 520.5px,#b5d4e9 530.5px,#a9cfe5 541.5px,#b5d4e9 559.5px)"></div><div style="top:143px;height:1px;background:linear-gradient(90deg,#85bcdc 0.5px,#79b5d9 8.5px,#6fb0d7 14.5px,#72b2d8 21.5px,#69add5 29.5px,#74b3d8 39.5px,#66abd4 53.5px,#71b1d7 59.5px,#7ab6d9 64.5px,#5ca4d0 75.5px,#65aad4 88.5px,#71b1d7 98.5px,#6fb0d7 103.5px,#539ecd 113.5px,#519ccc 134.5px,#58a1cf 141.5px,#4997c9 146.5px,#1967ad 154.5px,#084c95 159.5px,#083674 166.5px,#08306b 172.5px,#08316d 216.5px,#083979 224.5px,#083c7d 234.5px,#08306b 241.5px,#08326e 260.5px,#084184 271.5px,#08326e 281.5px,#083c7d 289.5px,#084b93 299.5px,#084184 313.5px,#083b7c 320.5px,#083d7f 336.5px,#0c56a0 345.5px,#0a539e 361.5px,#084a91 368.5px,#115ca5 386.5px,#115ca5 393.5px,#125da6 400.5px,#2777b8 411.5px,#2575b7 420.5px,#1c6ab0 429.5px,#2777b8 436.5px,#3383be 442.5px,#3181bd 450.5px,#4997c9 460.5px,#5aa2cf 469.5px,#6fb0d7 479.5px,#7cb7da 486.5px,#a0cbe2 498.5px,#a0cbe2 506.5px,#c4daee 515.5px,#c7dbef 532.5px,#b9d6ea 541.5px,#bad6eb 559.5px)"></div><div style="top:144px;height:1px;background:linear-gradient(90deg,#a8cee4 0.5px,#9fcae1 7.5px,#92c4de 13.5px,#92c4de 23.5px,#92c4de 30.5px,#9fcae1 38.5px,#91c3de 53.5px,#a1cbe2 64.5px,#84bcdb 75.5px,#8cc0dd 85.5px,#8cc0dd 93.5px,#99c7e0 101.5px,#89bedc 107.5px,#6fb0d7 115.5px,#71b1d7 133.5px,#82bbdb 141.5px,#7ab6d9 145.5px,#4997c9 153.5px,#1f6eb3 161.5px,#0b559f 170.5px,#084d96 176.5px,#084a91 184.5px,#084387 194.5px,#084b93 205.5px,#08478d 211.5px,#0b559f 221.5px,#125ea6 234.5px,#084b93 243.5px,#084b93 248.5px,#0d57a1 263.5px,#1561a9 272.5px,#0a539e 283.5px,#1966ad 300.5px,#0a549e 321.5px,#1460a8 338.5px,#2676b8 347.5px,#2676b8 362.5px,#2373b6 370.5px,#3e8ec4 390.5px,#3c8cc3 399.5px,#64a9d3 412.5px,#66abd4 420.5px,#56a0ce 428.5px,#5ca4d0 434.5px,#6dafd7 441.5px,#65aad4 450.5px,#75b4d8 461.5px,#84bcdb 468.5px,#9fcae1 476.5px,#abd0e6 489.5px,#bed8ec 499.5px,#bcd7eb 506.5px,#d2e3f3 515.5px,#caddf0 533.5px,#bad6eb 546.5px,#b7d4ea 559.5px)"></div><div style="top:145px;height:1px;background:linear-gradient(90deg,#bed8ec 0.5px,#b2d2e8 9.5px,#aed1e7 16.5px,#afd1e7 29.5px,#bdd7ec 39.5px,#b3d3e8 52.5px,#bed8ec 65.5px,#aacfe5 75.5px,#abd0e6 86.5px,#aacfe5 93.5px,#b8d5ea 101.5px,#a8cee4 108.5px,#8fc2de 116.5px,#94c4df 132.5px,#aed1e7 141.5px,#add0e6 146.5px,#9ac8e0 151.5px,#60a7d2 160.5px,#4090c5 167.5px,#2f7fbc 176.5px,#2474b7 190.5px,#2676b8 199.5px,#2b7bba 206.5px,#2b7bba 214.5px,#4191c6 234.5px,#2c7cba 245.5px,#3a8ac2 263.5px,#4493c7 272.5px,#3888c1 283.5px,#4997c9 294.5px,#539ecd 301.5px,#4695c8 312.5px,#3b8bc2 320.5px,#4b98ca 337.5px,#68acd5 347.5px,#6dafd7 359.5px,#65aad4 367.5px,#95c5df 389.5px,#8dc1dd 398.5px,#b9d6ea 412.5px,#bfd8ed 420.5px,#a8cee4 430.5px,#b2d2e8 441.5px,#a1cbe2 450.5px,#a3cce3 465.5px,#bed8ec 476.5px,#c3daee 489.5px,#ccdff1 500.5px,#ccdff1 508.5px,#d8e7f5 516.5px,#c7dbef 534.5px,#b4d3e9 545.5px,#aacfe5 559.5px)"></div><div style="top:146px;height:1px;background:linear-gradient(90deg,#cadef0 0.5px,#c1d9ed 9.5px,#bdd7ec 16.5px,#c2d9ee 29.5px,#cde0f1 39.5px,#c9ddf0 55.5px,#cde0f1 66.5px,#c3daee 77.5px,#c3daee 84.5px,#bcd7eb 92.5px,#cbdef1 102.5px,#bed8ec 108.5px,#a8cee4 115.5px,#add0e6 131.5px,#cadef0 141.5px,#cddff1 149.5px,#bfd8ed 155.5px,#75b4d8 174.5px,#6dafd7 185.5px,#61a7d2 196.5px,#6fb0d7 205.5px,#68acd5 212.5px,#92c4de 233.5px,#82bbdb 239.5px,#72b2d8 244.5px,#7fb9da 260.5px,#97c6df 271.5px,#85bcdc 282.5px,#9cc9e1 292.5px,#b0d2e7 300.5px,#abd0e6 309.5px,#94c4df 319.5px,#9ac8e0 327.5px,#afd1e7 341.5px,#bdd7ec 349.5px,#bed8ec 360.5px,#b7d4ea 367.5px,#cde0f1 383.5px,#d0e2f2 393.5px,#d0e1f2 401.5px,#e7f1fa 418.5px,#d1e2f3 433.5px,#d0e2f2 443.5px,#b5d4e9 463.5px,#ccdff1 475.5px,#cde0f1 493.5px,#cddff1 503.5px,#d3e4f3 511.5px,#d6e5f4 518.5px,#c1d9ed 532.5px,#a9cfe5 542.5px,#97c6df 559.5px)"></div><div style="top:147px;height:1px;background:linear-gradient(90deg,#cde0f1 0.5px,#c2d9ee 16.5px,#caddf0 30.5px,#d3e3f3 41.5px,#d0e1f2 54.5px,#d4e4f4 66.5px,#cde0f1 78.5px,#c6dbef 92.5px,#d2e3f3 103.5px,#bed8ec 111.5px,#b0d2e7 117.5px,#b8d5ea 130.5px,#d8e7f5 142.5px,#ddeaf7 152.5px,#c1d9ed 172.5px,#aed1e7 191.5px,#add0e6 198.5px,#b8d5ea 205.5px,#b2d2e8 214.5px,#cee0f2 233.5px,#c2d9ee 241.5px,#bcd7eb 247.5px,#c4daee 260.5px,#d0e2f2 273.5px,#cadef0 284.5px,#e1edf8 303.5px,#cee0f2 322.5px,#e1edf8 356.5px,#d9e8f5 368.5px,#ecf4fb 390.5px,#e6f0f9 400.5px,#f7fbff 415.5px,#f4f9fe 424.5px,#e0ecf8 433.5px,#dceaf6 443.5px,#bed8ec 464.5px,#cfe1f2 475.5px,#ccdff1 493.5px,#cbdef1 502.5px,#ccdff1 510.5px,#cee0f2 518.5px,#b4d3e9 530.5px,#92c4de 541.5px,#7db8da 559.5px)"></div><div style="top:148px;height:1px;background:linear-gradient(90deg,#cadef0 0.5px,#c2d9ee 10.5px,#c1d9ed 18.5px,#caddf0 30.5px,#d3e4f3 40.5px,#d0e2f2 52.5px,#d6e6f4 66.5px,#d0e1f2 78.5px,#c3daee 91.5px,#d4e4f4 103.5px,#c1d9ed 111.5px,#b3d3e8 117.5px,#b7d4ea 127.5px,#e2edf8 145.5px,#e9f2fa 159.5px,#d9e8f5 177.5px,#d1e2f3 198.5px,#d8e7f5 207.5px,#d6e5f4 217.5px,#e9f2fa 235.5px,#dbe9f6 247.5px,#e3eef9 263.5px,#ebf3fb 274.5px,#e5eff9 285.5px,#f7fbff 304.5px,#e9f2fa 315.5px,#e3eef9 323.5px,#ebf3fb 336.5px,#eef5fc 358.5px,#e6f0f9 368.5px,#f7fbff 390.5px,#f0f6fd 401.5px,#f7fbff 410.5px,#f5f9fe 426.5px,#e5eff9 433.5px,#dfebf7 444.5px,#c4daee 459.5px,#bdd7ec 464.5px,#ccdff1 475.5px,#c3daee 492.5px,#c3daee 500.5px,#bad6eb 508.5px,#c3daee 516.5px,#9dcae1 530.5px,#7cb7da 538.5px,#6dafd7 550.5px,#69add5 559.5px)"></div><div style="top:149px;height:1px;background:linear-gradient(90deg,#c1d9ed 0.5px,#bad6eb 8.5px,#b2d2e8 15.5px,#bed8ec 29.5px,#cee0f2 38.5px,#cadef0 51.5px,#d2e3f3 66.5px,#c6dbef 84.5px,#bad6eb 90.5px,#c3daee 95.5px,#d1e2f3 102.5px,#c4daee 109.5px,#afd1e7 115.5px,#aed1e7 124.5px,#c1d9ed 132.5px,#e0ecf8 144.5px,#f2f7fd 159.5px,#e9f2fa 180.5px,#e0ecf8 198.5px,#e8f1fa 207.5px,#e3eef8 215.5px,#f7fbff 233.5px,#f2f7fd 240.5px,#eaf2fb 254.5px,#f7fbff 271.5px,#f3f8fe 292.5px,#f7fbff 312.5px,#eaf3fb 322.5px,#f4f9fe 335.5px,#f2f7fd 358.5px,#e9f2fa 368.5px,#f7fbff 387.5px,#f3f8fe 402.5px,#f7fbff 425.5px,#e4eff9 433.5px,#deebf7 444.5px,#c4daee 457.5px,#b2d2e8 462.5px,#b9d6ea 469.5px,#bfd8ed 476.5px,#aed1e7 491.5px,#b0d2e7 499.5px,#a4cce3 507.5px,#abd0e6 516.5px,#97c6df 525.5px,#69add5 536.5px,#5da5d1 547.5px,#60a7d2 559.5px)"></div><div style="top:150px;height:1px;background:linear-gradient(90deg,#abd0e6 0.5px,#a5cde3 9.5px,#9dcae1 16.5px,#abd0e6 29.5px,#c1d9ed 38.5px,#b9d6ea 49.5px,#c9ddf0 62.5px,#b9d6ea 82.5px,#a8cee4 90.5px,#b5d4e9 96.5px,#c7dbef 101.5px,#c2d9ee 106.5px,#a3cce3 114.5px,#9fcae1 123.5px,#b0d2e7 131.5px,#cddff1 138.5px,#f5fafe 159.5px,#eff6fc 180.5px,#e8f1fa 198.5px,#f1f7fd 207.5px,#eaf2fb 216.5px,#f7fbff 229.5px,#f2f7fd 250.5px,#f6faff 261.5px,#f5f9fe 314.5px,#ebf3fb 322.5px,#f6faff 334.5px,#f2f8fd 344.5px,#f2f7fd 357.5px,#e7f0fa 367.5px,#f7fbff 389.5px,#f2f8fd 402.5px,#f7fbff 424.5px,#deebf7 433.5px,#d6e6f4 444.5px,#c2d9ee 454.5px,#a0cbe2 461.5px,#9cc9e1 465.5px,#a8cee4 475.5px,#94c4df 490.5px,#99c7e0 499.5px,#8abfdd 507.5px,#95c5df 516.5px,#7fb9da 526.5px,#5da5d1 535.5px,#549fcd 545.5px,#60a7d2 558.5px,#60a7d2 559.5px)"></div><div style="top:151px;height:1px;background:linear-gradient(90deg,#8dc1dd 0.5px,#8cc0dd 7.5px,#7cb7da 15.5px,#89bedc 27.5px,#a6cee4 37.5px,#a5cde3 42.5px,#9fcae1 49.5px,#b3d3e8 62.5px,#a3cce3 81.5px,#8abfdd 89.5px,#92c4de 94.5px,#b0d2e7 101.5px,#aed1e7 105.5px,#89bedc 114.5px,#84bcdb 122.5px,#91c3de 128.5px,#c6dbef 142.5px,#f0f6fd 160.5px,#eef5fc 190.5px,#eaf2fb 198.5px,#f3f8fe 206.5px,#ebf3fb 216.5px,#f7fbff 228.5px,#f2f8fd 250.5px,#f5f9fe 260.5px,#f4f9fe 285.5px,#f5f9fe 296.5px,#f5f9fe 313.5px,#e8f1fa 322.5px,#f5f9fe 334.5px,#edf4fc 343.5px,#eef5fc 354.5px,#dfecf7 367.5px,#f0f6fd 389.5px,#e9f2fa 402.5px,#eaf3fb 415.5px,#eef5fc 422.5px,#cde0f1 433.5px,#c3daee 444.5px,#a8cee4 454.5px,#7fb9da 461.5px,#79b5d9 465.5px,#85bcdc 474.5px,#77b5d9 489.5px,#81badb 499.5px,#75b4d8 506.5px,#84bcdb 517.5px,#72b2d8 527.5px,#57a0ce 536.5px,#57a0ce 547.5px,#69add5 557.5px,#69add5 559.5px)"></div><div style="top:152px;height:1px;background:linear-gradient(90deg,#6dafd7 0.5px,#6caed6 8.5px,#5da5d1 17.5px,#6aaed6 28.5px,#89bedc 38.5px,#7fb9da 44.5px,#7ab6d9 48.5px,#94c4df 59.5px,#97c6df 67.5px,#7fb9da 82.5px,#6aaed6 88.5px,#6caed6 93.5px,#94c4df 101.5px,#91c3de 105.5px,#6aaed6 114.5px,#69add5 124.5px,#7ab6d9 130.5px,#9ac8e0 139.5px,#b5d4e9 149.5px,#d6e6f4 158.5px,#e7f1fa 183.5px,#dfecf7 198.5px,#eaf2fb 207.5px,#e1edf8 216.5px,#f5fafe 235.5px,#e6f0f9 256.5px,#f6faff 274.5px,#e6f0f9 287.5px,#eaf2fb 298.5px,#eef5fc 310.5px,#dce9f6 321.5px,#e9f2fa 333.5px,#deebf7 343.5px,#deebf7 354.5px,#cddff1 366.5px,#d9e7f5 390.5px,#cbdef1 414.5px,#cfe1f2 422.5px,#c1d9ed 426.5px,#a5cde3 431.5px,#89bedc 452.5px,#5fa6d1 461.5px,#5ca4d0 467.5px,#65aad4 476.5px,#65aad4 490.5px,#72b2d8 499.5px,#6fb0d7 508.5px,#7fb9da 518.5px,#79b5d9 526.5px,#5ca4d0 536.5px,#5da5d1 546.5px,#75b4d8 557.5px,#77b5d9 559.5px)"></div><div style="top:153px;height:1px;background:linear-gradient(90deg,#5aa2cf 0.5px,#57a0ce 9.5px,#4896c8 18.5px,#57a0ce 29.5px,#6dafd7 38.5px,#61a7d2 45.5px,#61a7d2 50.5px,#79b5d9 59.5px,#7cb7da 67.5px,#61a7d2 83.5px,#519ccc 90.5px,#57a0ce 94.5px,#77b5d9 102.5px,#6aaed6 107.5px,#549fcd 115.5px,#57a0ce 126.5px,#6dafd7 136.5px,#6dafd7 147.5px,#84bcdb 153.5px,#a6cee4 159.5px,#c8dcf0 176.5px,#ccdff1 189.5px,#c7dcef 199.5px,#d0e1f2 207.5px,#c8dcf0 217.5px,#d9e7f5 237.5px,#caddf0 256.5px,#dae8f6 274.5px,#caddf0 286.5px,#d3e3f3 311.5px,#bed8ec 321.5px,#cee0f2 332.5px,#bdd7ec 343.5px,#bed8ec 352.5px,#95c5df 365.5px,#a6cee4 389.5px,#95c5df 401.5px,#87bddc 407.5px,#7ab6d9 412.5px,#85bcdc 421.5px,#72b2d8 425.5px,#56a0ce 430.5px,#519ccc 435.5px,#60a7d2 452.5px,#4594c7 463.5px,#57a0ce 481.5px,#64a9d3 492.5px,#72b2d8 501.5px,#75b4d8 509.5px,#85bcdc 521.5px,#7db8da 528.5px,#66abd4 535.5px,#63a8d3 545.5px,#7fb9da 555.5px,#81badb 559.5px)"></div><div style="top:154px;height:1px;background:linear-gradient(90deg,#529dcc 0.5px,#519ccc 9.5px,#3f8fc5 18.5px,#4a98c9 28.5px,#63a8d3 38.5px,#519ccc 48.5px,#6aaed6 60.5px,#6aaed6 69.5px,#57a0ce 82.5px,#4493c7 90.5px,#4997c9 94.5px,#65aad4 101.5px,#63a8d3 105.5px,#4b98ca 113.5px,#4b98ca 127.5px,#5ba3d0 134.5px,#4a98c9 141.5px,#3989c1 149.5px,#4292c6 156.5px,#57a0ce 165.5px,#6fb0d7 173.5px,#84bcdb 182.5px,#84bcdb 190.5px,#77b5d9 197.5px,#8fc2de 206.5px,#7cb7da 215.5px,#94c4df 228.5px,#9ac8e0 237.5px,#7db8da 255.5px,#8fc2de 266.5px,#9dcae1 273.5px,#8abfdd 279.5px,#7cb7da 284.5px,#84bcdb 296.5px,#95c5df 310.5px,#85bcdc 315.5px,#6fb0d7 320.5px,#74b3d8 324.5px,#89bedc 330.5px,#84bcdb 334.5px,#68acd5 341.5px,#6aaed6 351.5px,#4090c5 362.5px,#4090c5 370.5px,#4594c7 382.5px,#4997c9 389.5px,#3686c0 405.5px,#2474b7 413.5px,#2b7bba 422.5px,#1764ab 431.5px,#2a7ab9 440.5px,#4a98c9 452.5px,#3c8cc3 465.5px,#68acd5 492.5px,#7cb7da 499.5px,#84bcdb 511.5px,#8dc1dd 525.5px,#6aaed6 537.5px,#69add5 546.5px,#84bcdb 555.5px,#85bcdc 559.5px)"></div><div style="top:155px;height:1px;background:linear-gradient(90deg,#539ecd 0.5px,#539ecd 10.5px,#4090c5 19.5px,#4d99ca 29.5px,#61a7d2 38.5px,#519ccc 45.5px,#4e9acb 49.5px,#68acd5 59.5px,#66abd4 72.5px,#4f9bcb 85.5px,#4292c6 92.5px,#61a7d2 101.5px,#5ca4d0 106.5px,#4d99ca 113.5px,#4a98c9 127.5px,#57a0ce 134.5px,#4896c8 139.5px,#1d6cb1 149.5px,#1460a8 156.5px,#1865ac 169.5px,#2e7ebc 181.5px,#3080bd 190.5px,#2979b9 198.5px,#3686c0 207.5px,#2c7cba 216.5px,#3989c1 231.5px,#3787c0 242.5px,#2b7bba 257.5px,#3a8ac2 270.5px,#3888c1 276.5px,#2676b8 284.5px,#3c8cc3 311.5px,#2171b5 321.5px,#3484bf 331.5px,#2777b8 337.5px,#1f6eb3 343.5px,#2171b5 351.5px,#08509b 362.5px,#08509b 368.5px,#0e58a2 383.5px,#0f5aa3 391.5px,#09529d 404.5px,#083d7f 411.5px,#083d7f 415.5px,#08458a 421.5px,#083b7c 429.5px,#084184 432.5px,#0e58a2 437.5px,#3585bf 447.5px,#4896c8 453.5px,#4090c5 460.5px,#3d8dc4 466.5px,#6dafd7 491.5px,#87bddc 499.5px,#91c3de 526.5px,#6caed6 538.5px,#6aaed6 546.5px,#87bddc 555.5px,#87bddc 559.5px)"></div><div style="top:156px;height:1px;background:linear-gradient(90deg,#5aa2cf 0.5px,#5ba3d0 10.5px,#4695c8 20.5px,#539ecd 29.5px,#66abd4 38.5px,#519ccc 47.5px,#56a0ce 51.5px,#6caed6 59.5px,#6caed6 73.5px,#549fcd 86.5px,#4a98c9 92.5px,#549fcd 96.5px,#68acd5 102.5px,#549fcd 113.5px,#529dcc 128.5px,#5ca4d0 135.5px,#4090c5 142.5px,#135fa7 151.5px,#084d96 156.5px,#083674 166.5px,#083776 172.5px,#084b93 184.5px,#084387 198.5px,#084f99 206.5px,#08478d 214.5px,#084e98 224.5px,#084f99 243.5px,#084387 257.5px,#08509b 272.5px,#083c7d 284.5px,#084285 289.5px,#084a91 295.5px,#084c95 302.5px,#0b559f 310.5px,#084e98 315.5px,#083b7c 320.5px,#083b7c 323.5px,#08509b 330.5px,#084c95 335.5px,#083b7c 342.5px,#084488 347.5px,#08478d 350.5px,#083b7c 354.5px,#08306b 357.5px,#08316d 382.5px,#083c7d 388.5px,#083c7d 398.5px,#083c7d 403.5px,#08306b 407.5px,#08316d 429.5px,#084990 434.5px,#1561a9 438.5px,#4493c7 448.5px,#539ecd 453.5px,#4191c6 465.5px,#75b4d8 491.5px,#91c3de 500.5px,#92c4de 522.5px,#8dc1dd 528.5px,#6caed6 538.5px,#6caed6 546.5px,#85bcdc 554.5px,#87bddc 559.5px)"></div><div style="top:157px;height:1px;background:linear-gradient(90deg,#5da5d1 0.5px,#61a7d2 11.5px,#4d99ca 21.5px,#5ba3d0 30.5px,#6aaed6 37.5px,#5aa2cf 44.5px,#539ecd 49.5px,#71b1d7 60.5px,#74b3d8 73.5px,#5ba3d0 87.5px,#529dcc 92.5px,#64a9d3 98.5px,#6caed6 103.5px,#5da5d1 113.5px,#58a1cf 123.5px,#5aa2cf 129.5px,#63a8d3 136.5px,#529dcc 142.5px,#3282be 148.5px,#115ca5 155.5px,#084c95 159.5px,#08306b 166.5px,#08326e 201.5px,#083573 204.5px,#08306b 207.5px,#08306b 215.5px,#083979 219.5px,#08306b 224.5px,#08316d 229.5px,#083471 232.5px,#08306b 236.5px,#083370 240.5px,#083674 243.5px,#08306b 246.5px,#08316d 264.5px,#083573 268.5px,#08306b 271.5px,#08316d 292.5px,#083471 294.5px,#08306b 298.5px,#08306b 303.5px,#083877 306.5px,#08306b 310.5px,#08326e 327.5px,#083877 330.5px,#083573 337.5px,#08306b 340.5px,#08306b 347.5px,#083c7d 350.5px,#08306b 353.5px,#08326e 385.5px,#084082 388.5px,#084184 391.5px,#083979 395.5px,#084990 400.5px,#08478d 403.5px,#08326e 409.5px,#08326e 415.5px,#083c7d 423.5px,#084285 428.5px,#0a539e 432.5px,#2d7dbb 439.5px,#58a1cf 448.5px,#61a7d2 453.5px,#4896c8 465.5px,#75b4d8 490.5px,#95c5df 500.5px,#94c4df 510.5px,#8fc2de 519.5px,#8fc2de 527.5px,#6caed6 538.5px,#6caed6 545.5px,#85bcdc 554.5px,#85bcdc 559.5px)"></div><div style="top:158px;height:1px;background:linear-gradient(90deg,#5fa6d1 0.5px,#65aad4 12.5px,#519ccc 22.5px,#60a7d2 31.5px,#6caed6 37.5px,#5da5d1 43.5px,#539ecd 48.5px,#72b2d8 61.5px,#79b5d9 74.5px,#68acd5 85.5px,#57a0ce 92.5px,#71b1d7 101.5px,#64a9d3 112.5px,#61a7d2 121.5px,#5ba3d0 128.5px,#69add5 138.5px,#58a1cf 145.5px,#1d6cb1 158.5px,#084f99 164.5px,#083979 170.5px,#083370 175.5px,#083e81 182.5px,#083979 184.5px,#08306b 186.5px,#08306b 193.5px,#08468b 195.5px,#084e98 197.5px,#084184 204.5px,#08316d 206.5px,#08306b 213.5px,#084285 215.5px,#0a539e 217.5px,#0a539e 220.5px,#084285 222.5px,#08306b 224.5px,#083370 228.5px,#084488 230.5px,#08458a 232.5px,#08306b 235.5px,#08306b 238.5px,#084a91 241.5px,#084a91 243.5px,#08326e 246.5px,#08316d 249.5px,#084387 252.5px,#083c7d 254.5px,#08306b 256.5px,#08316d 261.5px,#084a91 264.5px,#084d96 267.5px,#084184 269.5px,#08306b 271.5px,#08316d 279.5px,#084184 281.5px,#083776 283.5px,#08306b 285.5px,#08306b 289.5px,#084082 291.5px,#084d96 293.5px,#084387 295.5px,#08306b 297.5px,#08306b 302.5px,#084488 304.5px,#084c95 306.5px,#083877 308.5px,#08306b 310.5px,#08326e 314.5px,#08458a 316.5px,#083b7c 318.5px,#08306b 320.5px,#08306b 325.5px,#08478d 327.5px,#084d96 329.5px,#08458a 333.5px,#08509b 337.5px,#084488 339.5px,#08306b 341.5px,#08306b 346.5px,#084e98 348.5px,#1460a8 350.5px,#0a539e 352.5px,#08306b 354.5px,#08306b 360.5px,#084184 362.5px,#084990 364.5px,#083e81 366.5px,#08306b 368.5px,#08306b 372.5px,#084184 374.5px,#08519c 376.5px,#09529d 378.5px,#083a7a 382.5px,#083e81 384.5px,#08519c 386.5px,#1865ac 389.5px,#115ca5 392.5px,#09529d 395.5px,#2070b4 401.5px,#09529d 408.5px,#1562a9 428.5px,#2d7dbb 434.5px,#4e9acb 441.5px,#6aaed6 449.5px,#6caed6 453.5px,#4d99ca 464.5px,#539ecd 471.5px,#79b5d9 491.5px,#99c7e0 501.5px,#99c7e0 508.5px,#8cc0dd 517.5px,#8dc1dd 527.5px,#6caed6 538.5px,#6caed6 545.5px,#85bcdc 553.5px,#84bcdb 559.5px)"></div><div style="top:159px;height:1px;background:linear-gradient(90deg,#5fa6d1 0.5px,#68acd5 12.5px,#539ecd 22.5px,#5fa6d1 30.5px,#6aaed6 36.5px,#63a8d3 41.5px,#529dcc 47.5px,#5aa2cf 52.5px,#71b1d7 61.5px,#7ab6d9 75.5px,#6dafd7 85.5px,#5ba3d0 92.5px,#72b2d8 101.5px,#68acd5 111.5px,#68acd5 120.5px,#5aa2cf 127.5px,#6dafd7 140.5px,#61a7d2 147.5px,#3383be 160.5px,#1460a8 168.5px,#0a549e 175.5px,#125da6 183.5px,#084c95 185.5px,#08306b 187.5px,#08306b 191.5px,#09529d 193.5px,#2a7ab9 195.5px,#3888c1 197.5px,#2c7cba 200.5px,#0d57a1 205.5px,#083573 207.5px,#08306b 209.5px,#08306b 212.5px,#0e58a2 214.5px,#2e7ebc 216.5px,#3e8ec4 218.5px,#3888c1 220.5px,#1c6bb0 222.5px,#08488e 224.5px,#083d7f 226.5px,#0b559f 228.5px,#2070b4 230.5px,#2272b6 232.5px,#084e98 235.5px,#08478d 237.5px,#135fa7 239.5px,#2a7ab9 241.5px,#2979b9 243.5px,#0b559f 246.5px,#084d96 248.5px,#1561a9 250.5px,#2373b6 252.5px,#1c6ab0 254.5px,#084c95 256.5px,#083877 258.5px,#08478d 260.5px,#1967ad 262.5px,#2f7fbc 264.5px,#3484bf 266.5px,#2575b7 268.5px,#0a539e 270.5px,#08306b 272.5px,#08306b 277.5px,#125ea6 279.5px,#2a7ab9 281.5px,#1c6bb0 283.5px,#084990 285.5px,#083573 287.5px,#084990 289.5px,#1f6eb3 291.5px,#3282be 293.5px,#2070b4 295.5px,#084387 297.5px,#08306b 299.5px,#08306b 301.5px,#125da6 303.5px,#2d7dbb 305.5px,#2070b4 307.5px,#08458a 309.5px,#08306b 311.5px,#083e81 313.5px,#1b69af 315.5px,#2575b7 317.5px,#0f5aa3 319.5px,#083573 321.5px,#08326e 323.5px,#0a549e 325.5px,#2474b7 327.5px,#2b7bba 329.5px,#1c6bb0 332.5px,#2171b5 334.5px,#3181bd 336.5px,#2f7fbc 338.5px,#125da6 340.5px,#08306b 342.5px,#08306b 345.5px,#1663aa 347.5px,#4695c8 349.5px,#4b98ca 351.5px,#1e6db2 353.5px,#08306b 355.5px,#083370 359.5px,#1865ac 361.5px,#3181bd 363.5px,#2b7bba 365.5px,#125da6 367.5px,#083b7c 369.5px,#083776 371.5px,#0d57a1 373.5px,#2b7bba 375.5px,#3888c1 377.5px,#2c7cba 379.5px,#0f5aa3 382.5px,#125da6 384.5px,#3e8ec4 388.5px,#4292c6 390.5px,#2474b7 394.5px,#2676b8 396.5px,#4e9acb 400.5px,#4d99ca 402.5px,#2676b8 407.5px,#3181bd 429.5px,#5ba3d0 440.5px,#74b3d8 449.5px,#6fb0d7 454.5px,#4f9bcb 464.5px,#549fcd 471.5px,#72b2d8 489.5px,#9cc9e1 501.5px,#9cc9e1 507.5px,#8abfdd 518.5px,#8abfdd 527.5px,#6aaed6 538.5px,#71b1d7 546.5px,#85bcdc 553.5px,#81badb 559.5px)"></div><div style="top:160px;height:1px;background:linear-gradient(90deg,#5da5d1 0.5px,#69add5 10.5px,#66abd4 15.5px,#549fcd 23.5px,#5fa6d1 30.5px,#69add5 37.5px,#4f9bcb 48.5px,#60a7d2 55.5px,#6fb0d7 63.5px,#7db8da 76.5px,#72b2d8 85.5px,#5fa6d1 91.5px,#66abd4 96.5px,#72b2d8 101.5px,#6aaed6 111.5px,#6dafd7 118.5px,#58a1cf 127.5px,#71b1d7 142.5px,#4e9acb 159.5px,#2676b8 171.5px,#2575b7 176.5px,#3080bd 182.5px,#2777b8 184.5px,#105ba4 186.5px,#083674 188.5px,#08326e 190.5px,#1561a9 192.5px,#4f9bcb 194.5px,#7db8da 196.5px,#7fb9da 198.5px,#3383be 204.5px,#1967ad 206.5px,#084082 208.5px,#08306b 210.5px,#084a91 212.5px,#3383be 214.5px,#6aaed6 216.5px,#8cc0dd 218.5px,#7fb9da 220.5px,#4d99ca 222.5px,#2070b4 224.5px,#1865ac 226.5px,#3080bd 228.5px,#56a0ce 230.5px,#5ba3d0 232.5px,#3a8ac2 234.5px,#2171b5 236.5px,#2e7ebc 238.5px,#56a0ce 240.5px,#6caed6 242.5px,#56a0ce 244.5px,#3282be 246.5px,#2b7bba 248.5px,#4493c7 250.5px,#60a7d2 252.5px,#539ecd 254.5px,#1c6bb0 257.5px,#1966ad 259.5px,#3484bf 261.5px,#5fa6d1 263.5px,#79b5d9 265.5px,#6caed6 267.5px,#4493c7 269.5px,#105ba4 271.5px,#08306b 273.5px,#08306b 276.5px,#2171b5 278.5px,#64a9d3 280.5px,#6dafd7 282.5px,#4191c6 284.5px,#1a68ae 286.5px,#1966ad 288.5px,#3d8dc4 290.5px,#6caed6 292.5px,#6fb0d7 294.5px,#3c8cc3 296.5px,#0c56a0 298.5px,#08488e 300.5px,#2272b6 302.5px,#5ca4d0 304.5px,#6caed6 306.5px,#3e8ec4 308.5px,#115ca5 310.5px,#0d57a1 312.5px,#3585bf 314.5px,#61a7d2 316.5px,#57a0ce 318.5px,#2676b8 320.5px,#0f5aa3 322.5px,#1f6eb3 324.5px,#4a98c9 326.5px,#65aad4 328.5px,#5aa2cf 330.5px,#4a98c9 332.5px,#549fcd 334.5px,#6dafd7 336.5px,#6caed6 338.5px,#3c8cc3 340.5px,#09529d 342.5px,#084082 344.5px,#2070b4 346.5px,#74b3d8 348.5px,#a6cee4 350.5px,#82bbdb 352.5px,#2b7bba 354.5px,#084082 356.5px,#084488 358.5px,#2c7cba 360.5px,#63a8d3 362.5px,#72b2d8 364.5px,#4f9bcb 366.5px,#2070b4 368.5px,#0b559f 370.5px,#1a68ae 372.5px,#5da5d1 375.5px,#72b2d8 377.5px,#5ca4d0 379.5px,#3888c1 381.5px,#2777b8 383.5px,#3a8ac2 385.5px,#6fb0d7 388.5px,#75b4d8 390.5px,#4695c8 394.5px,#4997c9 396.5px,#81badb 400.5px,#7db8da 402.5px,#4a98c9 406.5px,#4191c6 408.5px,#4b98ca 414.5px,#4191c6 428.5px,#79b5d9 449.5px,#72b2d8 454.5px,#519ccc 464.5px,#549fcd 471.5px,#71b1d7 489.5px,#9dcae1 501.5px,#9fcae1 507.5px,#89bedc 517.5px,#87bddc 527.5px,#6aaed6 537.5px,#71b1d7 545.5px,#85bcdc 552.5px,#7fb9da 559.5px)"></div><div style="top:161px;height:1px;background:linear-gradient(90deg,#5ba3d0 0.5px,#64a9d3 8.5px,#6dafd7 13.5px,#56a0ce 23.5px,#60a7d2 30.5px,#68acd5 37.5px,#4e9acb 47.5px,#57a0ce 53.5px,#69add5 61.5px,#81badb 77.5px,#79b5d9 84.5px,#61a7d2 91.5px,#68acd5 96.5px,#72b2d8 101.5px,#6dafd7 110.5px,#71b1d7 118.5px,#57a0ce 127.5px,#61a7d2 133.5px,#72b2d8 142.5px,#56a0ce 161.5px,#3b8bc2 170.5px,#3c8cc3 176.5px,#4695c8 182.5px,#3d8dc4 184.5px,#2171b5 186.5px,#084d96 188.5px,#084c95 190.5px,#2e7ebc 192.5px,#7fb9da 194.5px,#b4d3e9 196.5px,#b4d3e9 198.5px,#95c5df 200.5px,#6aaed6 202.5px,#3c8cc3 205.5px,#0a539e 208.5px,#084285 210.5px,#1561a9 212.5px,#539ecd 214.5px,#9fcae1 216.5px,#bed8ec 218.5px,#b3d3e8 220.5px,#79b5d9 222.5px,#3d8dc4 224.5px,#3181bd 226.5px,#529dcc 228.5px,#85bcdc 230.5px,#8dc1dd 232.5px,#4d99ca 235.5px,#4292c6 237.5px,#69add5 239.5px,#9dcae1 241.5px,#9cc9e1 243.5px,#57a0ce 246.5px,#4e9acb 248.5px,#72b2d8 250.5px,#9ac8e0 252.5px,#89bedc 254.5px,#519ccc 256.5px,#3282be 258.5px,#4191c6 260.5px,#94c4df 263.5px,#aed1e7 265.5px,#a1cbe2 267.5px,#68acd5 269.5px,#2272b6 271.5px,#083471 273.5px,#08306b 275.5px,#1b69af 277.5px,#77b5d9 279.5px,#aed1e7 281.5px,#95c5df 283.5px,#519ccc 285.5px,#3181bd 287.5px,#4997c9 289.5px,#8abfdd 291.5px,#add0e6 293.5px,#8fc2de 295.5px,#4090c5 297.5px,#1865ac 299.5px,#2676b8 301.5px,#6aaed6 303.5px,#a5cde3 305.5px,#8fc2de 307.5px,#4292c6 309.5px,#1f6eb3 311.5px,#3989c1 313.5px,#7fb9da 315.5px,#9dcae1 317.5px,#6aaed6 319.5px,#3484bf 321.5px,#2e7ebc 323.5px,#58a1cf 325.5px,#8dc1dd 327.5px,#94c4df 329.5px,#72b2d8 332.5px,#81badb 334.5px,#a1cbe2 336.5px,#a1cbe2 338.5px,#63a8d3 340.5px,#1f6eb3 342.5px,#0f5aa3 344.5px,#3e8ec4 346.5px,#a9cfe5 348.5px,#d0e1f2 350.5px,#b4d3e9 352.5px,#4b98ca 354.5px,#0f5aa3 356.5px,#135fa7 358.5px,#4d99ca 360.5px,#97c6df 362.5px,#a5cde3 364.5px,#77b5d9 366.5px,#3989c1 368.5px,#1c6bb0 370.5px,#2f7fbc 372.5px,#66abd4 374.5px,#99c7e0 376.5px,#95c5df 378.5px,#66abd4 380.5px,#4090c5 382.5px,#4090c5 384.5px,#66abd4 386.5px,#92c4de 388.5px,#97c6df 390.5px,#7ab6d9 392.5px,#5fa6d1 394.5px,#61a7d2 396.5px,#97c6df 399.5px,#a4cce3 401.5px,#91c3de 403.5px,#6caed6 405.5px,#5aa2cf 407.5px,#5ba3d0 410.5px,#61a7d2 413.5px,#4d99ca 428.5px,#72b2d8 445.5px,#7ab6d9 451.5px,#549fcd 464.5px,#56a0ce 471.5px,#72b2d8 490.5px,#9cc9e1 500.5px,#a0cbe2 506.5px,#89bedc 517.5px,#82bbdb 528.5px,#6aaed6 537.5px,#71b1d7 544.5px,#87bddc 553.5px,#7fb9da 559.5px)"></div><div style="top:162px;height:1px;background:linear-gradient(90deg,#5ba3d0 0.5px,#60a7d2 7.5px,#6fb0d7 14.5px,#57a0ce 24.5px,#66abd4 35.5px,#5ba3d0 41.5px,#4b98ca 48.5px,#69add5 63.5px,#77b5d9 70.5px,#84bcdb 76.5px,#7db8da 84.5px,#64a9d3 91.5px,#72b2d8 101.5px,#6fb0d7 110.5px,#72b2d8 118.5px,#549fcd 127.5px,#5fa6d1 133.5px,#72b2d8 141.5px,#6aaed6 148.5px,#5ba3d0 161.5px,#4493c7 171.5px,#4e9acb 178.5px,#549fcd 182.5px,#4a98c9 184.5px,#2c7cba 186.5px,#0e58a2 188.5px,#0d57a1 190.5px,#3a8ac2 192.5px,#92c4de 194.5px,#c3daee 196.5px,#c3daee 198.5px,#a4cce3 200.5px,#65aad4 203.5px,#4594c7 205.5px,#105ba4 208.5px,#084a91 210.5px,#1c6ab0 212.5px,#60a7d2 214.5px,#aed1e7 216.5px,#cadef0 218.5px,#c2d9ee 220.5px,#8cc0dd 222.5px,#4b98ca 224.5px,#3c8cc3 226.5px,#61a7d2 228.5px,#99c7e0 230.5px,#a0cbe2 232.5px,#72b2d8 234.5px,#4f9bcb 236.5px,#61a7d2 238.5px,#9cc9e1 240.5px,#b4d3e9 242.5px,#9dcae1 244.5px,#6aaed6 246.5px,#63a8d3 248.5px,#8cc0dd 250.5px,#afd1e7 252.5px,#a3cce3 254.5px,#65aad4 256.5px,#4191c6 258.5px,#539ecd 260.5px,#8dc1dd 262.5px,#b8d5ea 264.5px,#bcd7eb 266.5px,#9cc9e1 268.5px,#529dcc 270.5px,#0f5aa3 272.5px,#08306b 274.5px,#084d96 276.5px,#539ecd 278.5px,#b0d2e7 280.5px,#bdd7ec 282.5px,#87bddc 284.5px,#4896c8 286.5px,#4493c7 288.5px,#7ab6d9 290.5px,#b5d4e9 292.5px,#b8d5ea 294.5px,#7ab6d9 296.5px,#3282be 298.5px,#2272b6 300.5px,#549fcd 302.5px,#a5cde3 304.5px,#b4d3e9 306.5px,#79b5d9 308.5px,#3484bf 310.5px,#2f7fbc 312.5px,#68acd5 314.5px,#a8cee4 316.5px,#9fcae1 318.5px,#5ba3d0 320.5px,#3686c0 322.5px,#4b98ca 324.5px,#87bddc 326.5px,#a6cee4 328.5px,#99c7e0 330.5px,#82bbdb 332.5px,#92c4de 334.5px,#b0d2e7 336.5px,#afd1e7 338.5px,#72b2d8 340.5px,#2979b9 342.5px,#1764ab 344.5px,#4a98c9 346.5px,#b5d4e9 348.5px,#d8e7f5 350.5px,#c2d9ee 352.5px,#58a1cf 354.5px,#1663aa 356.5px,#1b69af 358.5px,#5ba3d0 360.5px,#a8cee4 362.5px,#b4d3e9 364.5px,#89bedc 366.5px,#4191c6 368.5px,#2272b6 370.5px,#3686c0 372.5px,#71b1d7 374.5px,#a4cce3 376.5px,#a1cbe2 378.5px,#71b1d7 380.5px,#4896c8 382.5px,#4896c8 384.5px,#6fb0d7 386.5px,#9cc9e1 388.5px,#a1cbe2 390.5px,#85bcdc 392.5px,#68acd5 394.5px,#6caed6 396.5px,#a4cce3 399.5px,#aed1e7 401.5px,#9dcae1 403.5px,#6aaed6 406.5px,#61a7d2 408.5px,#6aaed6 414.5px,#529dcc 428.5px,#6dafd7 443.5px,#7cb7da 449.5px,#72b2d8 455.5px,#57a0ce 464.5px,#5ca4d0 474.5px,#6dafd7 489.5px,#9dcae1 501.5px,#9fcae1 507.5px,#89bedc 517.5px,#7fb9da 528.5px,#69add5 537.5px,#75b4d8 545.5px,#87bddc 552.5px,#7db8da 559.5px)"></div><div style="top:163px;height:1px;background:linear-gradient(90deg,#5ba3d0 0.5px,#5da5d1 6.5px,#71b1d7 14.5px,#5aa2cf 24.5px,#66abd4 35.5px,#4b98ca 47.5px,#56a0ce 54.5px,#6fb0d7 68.5px,#87bddc 76.5px,#82bbdb 83.5px,#66abd4 91.5px,#71b1d7 101.5px,#71b1d7 109.5px,#74b3d8 117.5px,#60a7d2 123.5px,#529dcc 128.5px,#72b2d8 141.5px,#6caed6 147.5px,#5aa2cf 162.5px,#4896c8 171.5px,#5aa2cf 182.5px,#4f9bcb 184.5px,#3080bd 186.5px,#115ca5 188.5px,#0f5aa3 190.5px,#3d8dc4 192.5px,#97c6df 194.5px,#c7dbef 196.5px,#c6dbef 198.5px,#a6cee4 200.5px,#66abd4 203.5px,#4594c7 205.5px,#105ba4 208.5px,#084a91 210.5px,#1c6bb0 212.5px,#61a7d2 214.5px,#b0d2e7 216.5px,#cddff1 218.5px,#c6dbef 220.5px,#91c3de 222.5px,#4f9bcb 224.5px,#4090c5 226.5px,#66abd4 228.5px,#9fcae1 230.5px,#a4cce3 232.5px,#77b5d9 234.5px,#539ecd 236.5px,#65aad4 238.5px,#a1cbe2 240.5px,#b9d6ea 242.5px,#a4cce3 244.5px,#74b3d8 246.5px,#6caed6 248.5px,#99c7e0 250.5px,#b9d6ea 252.5px,#add0e6 254.5px,#6fb0d7 256.5px,#4a98c9 258.5px,#5ba3d0 260.5px,#95c5df 262.5px,#bed8ec 264.5px,#c2d9ee 266.5px,#a0cbe2 268.5px,#549fcd 270.5px,#115ca5 272.5px,#08306b 274.5px,#084f99 276.5px,#58a1cf 278.5px,#b5d4e9 280.5px,#c3daee 282.5px,#8fc2de 284.5px,#4e9acb 286.5px,#4997c9 288.5px,#81badb 290.5px,#bad6eb 292.5px,#bdd7ec 294.5px,#82bbdb 296.5px,#3787c0 298.5px,#2777b8 300.5px,#5aa2cf 302.5px,#a9cfe5 304.5px,#b8d5ea 306.5px,#7ab6d9 308.5px,#3585bf 310.5px,#2f7fbc 312.5px,#68acd5 314.5px,#aacfe5 316.5px,#a3cce3 318.5px,#5fa6d1 320.5px,#3a8ac2 322.5px,#4f9bcb 324.5px,#8cc0dd 326.5px,#a9cfe5 328.5px,#9cc9e1 330.5px,#85bcdc 332.5px,#97c6df 334.5px,#b4d3e9 336.5px,#b4d3e9 338.5px,#77b5d9 340.5px,#2c7cba 342.5px,#1967ad 344.5px,#4e9acb 346.5px,#b8d5ea 348.5px,#d9e8f5 350.5px,#c4daee 352.5px,#5ca4d0 354.5px,#1966ad 356.5px,#1d6cb1 358.5px,#60a7d2 360.5px,#add0e6 362.5px,#b9d6ea 364.5px,#8dc1dd 366.5px,#4594c7 368.5px,#2575b7 370.5px,#3888c1 372.5px,#74b3d8 374.5px,#a6cee4 376.5px,#a4cce3 378.5px,#5ba3d0 381.5px,#4292c6 383.5px,#58a1cf 385.5px,#8abfdd 387.5px,#a5cde3 389.5px,#9ac8e0 391.5px,#6caed6 394.5px,#72b2d8 396.5px,#a9cfe5 399.5px,#b4d3e9 401.5px,#a4cce3 403.5px,#72b2d8 406.5px,#66abd4 408.5px,#72b2d8 413.5px,#57a0ce 428.5px,#6caed6 442.5px,#7fb9da 449.5px,#71b1d7 456.5px,#5ba3d0 465.5px,#65aad4 484.5px,#74b3d8 491.5px,#9dcae1 501.5px,#9fcae1 507.5px,#8abfdd 517.5px,#7ab6d9 529.5px,#69add5 537.5px,#77b5d9 545.5px,#89bedc 552.5px,#7db8da 559.5px)"></div><div style="top:164px;height:2px;background:linear-gradient(90deg,#5ca3d0 0.5px,#5fa6d1 7.5px,#73b2d8 14.5px,#5ea5d1 24.5px,#66abd4 35.5px,#4d99ca 47.5px,#5ca4d0 59.5px,#6dafd7 68.5px,#8abfdd 76.5px,#89bedc 82.5px,#6aaed6 91.5px,#6eb0d7 103.5px,#73b2d8 109.5px,#77b5d9 116.5px,#64a9d3 122.5px,#519ccc 127.5px,#58a1cf 132.5px,#73b2d8 141.5px,#63a8d3 155.5px,#58a1cf 163.5px,#4b98ca 170.5px,#5ca3d0 182.5px,#509ccb 184.5px,#3181bd 186.5px,#115ca5 188.5px,#0f5aa3 190.5px,#3d8dc3 192.5px,#96c6df 194.5px,#c6dbef 196.5px,#c5dbef 198.5px,#a4cce3 200.5px,#62a8d2 203.5px,#3f8fc5 205.5px,#0b559f 208.5px,#084488 210.5px,#1966ad 212.5px,#5ca4d0 214.5px,#acd0e6 216.5px,#cbdef1 218.5px,#c4daee 220.5px,#90c2de 222.5px,#509ccb 224.5px,#4191c5 226.5px,#68acd5 228.5px,#a0cbe2 230.5px,#a6cde4 232.5px,#79b6d9 234.5px,#559fcd 236.5px,#67abd4 238.5px,#a3cce3 240.5px,#bed7ec 242.5px,#a9cfe5 244.5px,#7db8da 246.5px,#75b4d8 248.5px,#a2cce2 250.5px,#c2d9ee 252.5px,#b5d4e9 254.5px,#79b6d9 256.5px,#519ccc 258.5px,#60a7d2 260.5px,#9bc8e0 262.5px,#c1d9ed 264.5px,#c4daee 266.5px,#a1cbe2 268.5px,#549fcd 270.5px,#105ba4 272.5px,#08306b 274.5px,#084f98 276.5px,#58a1cf 278.5px,#b9d5ea 280.5px,#c6dbef 282.5px,#95c5df 284.5px,#539dcc 286.5px,#4c99ca 288.5px,#83bbdb 290.5px,#bbd6eb 292.5px,#bed8ec 294.5px,#83bbdb 296.5px,#3888c1 298.5px,#2979b9 300.5px,#5ba3d0 302.5px,#aacfe5 304.5px,#b7d5ea 306.5px,#78b5d9 308.5px,#3181bd 310.5px,#2b7bba 312.5px,#63a9d3 314.5px,#a6cee4 316.5px,#a1cbe2 318.5px,#60a7d2 320.5px,#3b8bc2 322.5px,#519ccc 324.5px,#8bc0dd 326.5px,#a7cee4 328.5px,#99c7e0 330.5px,#85bcdc 332.5px,#96c6df 334.5px,#b5d4e9 336.5px,#b5d4e9 338.5px,#79b5d9 340.5px,#2c7cbb 342.5px,#1967ad 344.5px,#4b98ca 346.5px,#b5d4e9 348.5px,#d8e7f5 350.5px,#c3daee 352.5px,#5ca3d0 354.5px,#1967ad 356.5px,#1e6eb2 358.5px,#62a8d2 360.5px,#aed1e7 362.5px,#bbd6eb 364.5px,#90c2de 366.5px,#4695c8 368.5px,#2575b7 370.5px,#3888c1 372.5px,#73b2d8 374.5px,#a6cde4 376.5px,#a3cce3 378.5px,#72b2d8 380.5px,#4896c8 382.5px,#4896c8 384.5px,#6fb0d7 386.5px,#9dcae1 388.5px,#a4cde3 390.5px,#8dc1dd 392.5px,#72b2d8 394.5px,#79b6d9 396.5px,#aed1e7 399.5px,#b9d6ea 401.5px,#a9cfe5 403.5px,#79b6d9 406.5px,#6dafd6 408.5px,#79b6d9 413.5px,#5da5d1 429.5px,#6caed6 441.5px,#82bbdb 448.5px,#76b4d8 455.5px,#61a7d2 465.5px,#6aadd5 487.5px,#9dc9e1 502.5px,#9dc9e1 508.5px,#8dc0dd 518.5px,#6aaed6 538.5px,#82bbdb 548.5px,#89bfdd 553.5px,#80b9da 559.5px)"></div><div style="top:166px;height:1px;background:linear-gradient(90deg,#5da5d1 0.5px,#5fa6d1 7.5px,#74b3d8 14.5px,#63a8d3 25.5px,#68acd5 34.5px,#4f9bcb 46.5px,#5aa2cf 59.5px,#68acd5 67.5px,#8cc0dd 76.5px,#8dc1dd 81.5px,#6dafd7 91.5px,#6dafd7 106.5px,#79b5d9 114.5px,#6caed6 120.5px,#519ccc 127.5px,#58a1cf 132.5px,#74b3d8 141.5px,#6dafd7 149.5px,#65aad4 156.5px,#69add5 162.5px,#529dcc 168.5px,#5da5d1 173.5px,#65aad4 178.5px,#61a7d2 183.5px,#4a98c9 185.5px,#2070b4 187.5px,#0b559f 189.5px,#1e6db2 191.5px,#65aad4 193.5px,#b3d3e8 195.5px,#c7dcef 197.5px,#b4d3e9 199.5px,#87bddc 201.5px,#5ba3d0 203.5px,#3989c1 205.5px,#1562a9 207.5px,#084082 209.5px,#08488e 211.5px,#2f7fbc 213.5px,#81badb 215.5px,#bdd7ec 217.5px,#c9ddf0 219.5px,#abd0e6 221.5px,#68acd5 223.5px,#3f8fc5 225.5px,#4e9acb 227.5px,#87bddc 229.5px,#aacfe5 231.5px,#95c5df 233.5px,#63a8d3 235.5px,#58a1cf 237.5px,#87bddc 239.5px,#b8d5ea 241.5px,#bcd7eb 243.5px,#9ac8e0 245.5px,#79b5d9 247.5px,#8fc2de 249.5px,#bcd7eb 251.5px,#c7dbef 253.5px,#a1cbe2 255.5px,#63a8d3 257.5px,#56a0ce 259.5px,#7fb9da 261.5px,#b4d3e9 263.5px,#c7dcef 265.5px,#b8d5ea 267.5px,#7db8da 269.5px,#2d7dbb 271.5px,#083c7d 273.5px,#08326e 275.5px,#2575b7 277.5px,#92c4de 279.5px,#c9ddf0 281.5px,#b7d4ea 283.5px,#71b1d7 285.5px,#4997c9 287.5px,#61a7d2 289.5px,#a5cde3 291.5px,#c2d9ee 293.5px,#a8cee4 295.5px,#56a0ce 297.5px,#2777b8 299.5px,#3a8ac2 301.5px,#87bddc 303.5px,#b9d6ea 305.5px,#a0cbe2 307.5px,#4997c9 309.5px,#2070b4 311.5px,#3a8ac2 313.5px,#85bcdc 315.5px,#a9cfe5 317.5px,#82bbdb 319.5px,#4695c8 321.5px,#3f8fc5 323.5px,#6caed6 325.5px,#a0cbe2 327.5px,#a3cce3 329.5px,#89bedc 331.5px,#85bcdc 333.5px,#b4d3e9 336.5px,#b4d3e9 338.5px,#77b5d9 340.5px,#2b7bba 342.5px,#1764ab 344.5px,#4896c8 346.5px,#b2d2e8 348.5px,#d6e5f4 350.5px,#bfd8ed 352.5px,#5aa2cf 354.5px,#1966ad 356.5px,#1e6db2 358.5px,#63a8d3 360.5px,#afd1e7 362.5px,#bcd7eb 364.5px,#8fc2de 366.5px,#4695c8 368.5px,#2474b7 370.5px,#3787c0 372.5px,#72b2d8 374.5px,#a5cde3 376.5px,#a3cce3 378.5px,#72b2d8 380.5px,#4896c8 382.5px,#4695c8 384.5px,#6fb0d7 386.5px,#9fcae1 388.5px,#a6cee4 390.5px,#92c4de 392.5px,#77b5d9 394.5px,#7fb9da 396.5px,#b3d3e8 399.5px,#bed8ec 401.5px,#aed1e7 403.5px,#81badb 406.5px,#74b3d8 408.5px,#81badb 414.5px,#6aaed6 425.5px,#65aad4 431.5px,#6dafd7 440.5px,#84bcdb 447.5px,#82bbdb 451.5px,#69add5 463.5px,#66abd4 481.5px,#72b2d8 490.5px,#9ac8e0 503.5px,#9ac8e0 509.5px,#89bedc 523.5px,#6caed6 538.5px,#7cb7da 546.5px,#8cc0dd 552.5px,#82bbdb 559.5px)"></div><div style="top:167px;height:1px;background:linear-gradient(90deg,#60a7d2 0.5px,#60a7d2 7.5px,#74b3d8 15.5px,#66abd4 24.5px,#68acd5 34.5px,#529dcc 46.5px,#5ba3d0 62.5px,#6aaed6 68.5px,#8abfdd 75.5px,#8dc1dd 81.5px,#6fb0d7 92.5px,#6caed6 105.5px,#79b5d9 113.5px,#6fb0d7 119.5px,#529dcc 127.5px,#58a1cf 132.5px,#75b4d8 141.5px,#79b5d9 148.5px,#60a7d2 155.5px,#6fb0d7 158.5px,#7fb9da 161.5px,#79b5d9 163.5px,#4a98c9 168.5px,#4e9acb 170.5px,#75b4d8 174.5px,#7ab6d9 176.5px,#69add5 180.5px,#69add5 183.5px,#539ecd 185.5px,#2676b8 187.5px,#0e58a2 189.5px,#1e6db2 191.5px,#64a9d3 193.5px,#b2d2e8 195.5px,#c7dbef 197.5px,#b2d2e8 199.5px,#84bcdb 201.5px,#57a0ce 203.5px,#3585bf 205.5px,#125da6 207.5px,#083a7a 209.5px,#084488 211.5px,#2c7cba 213.5px,#7ab6d9 215.5px,#b9d6ea 217.5px,#c7dbef 219.5px,#a9cfe5 221.5px,#65aad4 223.5px,#3e8ec4 225.5px,#4e9acb 227.5px,#87bddc 229.5px,#aacfe5 231.5px,#95c5df 233.5px,#63a8d3 235.5px,#5aa2cf 237.5px,#89bedc 239.5px,#bad6eb 241.5px,#bed8ec 243.5px,#9dcae1 245.5px,#7db8da 247.5px,#94c4df 249.5px,#bfd8ed 251.5px,#c9ddf0 253.5px,#a4cce3 255.5px,#64a9d3 257.5px,#57a0ce 259.5px,#81badb 261.5px,#b5d4e9 263.5px,#c8dcf0 265.5px,#b8d5ea 267.5px,#7db8da 269.5px,#2d7dbb 271.5px,#083b7c 273.5px,#08316d 275.5px,#2474b7 277.5px,#92c4de 279.5px,#caddf0 281.5px,#b8d5ea 283.5px,#72b2d8 285.5px,#4a98c9 287.5px,#61a7d2 289.5px,#a5cde3 291.5px,#c2d9ee 293.5px,#a6cee4 295.5px,#549fcd 297.5px,#2676b8 299.5px,#3a8ac2 301.5px,#89bedc 303.5px,#bad6eb 305.5px,#a0cbe2 307.5px,#4896c8 309.5px,#1e6db2 311.5px,#3888c1 313.5px,#82bbdb 315.5px,#a8cee4 317.5px,#82bbdb 319.5px,#4997c9 321.5px,#4090c5 323.5px,#6caed6 325.5px,#a0cbe2 327.5px,#a1cbe2 329.5px,#87bddc 331.5px,#84bcdb 333.5px,#b3d3e8 336.5px,#b4d3e9 338.5px,#75b4d8 340.5px,#2a7ab9 342.5px,#1562a9 344.5px,#4594c7 346.5px,#aed1e7 348.5px,#d3e4f3 350.5px,#bdd7ec 352.5px,#57a0ce 354.5px,#1865ac 356.5px,#1e6db2 358.5px,#63a8d3 360.5px,#afd1e7 362.5px,#bad6eb 364.5px,#8fc2de 366.5px,#4594c7 368.5px,#2373b6 370.5px,#3686c0 372.5px,#72b2d8 374.5px,#a5cde3 376.5px,#a3cce3 378.5px,#74b3d8 380.5px,#4997c9 382.5px,#4896c8 384.5px,#6fb0d7 386.5px,#a0cbe2 388.5px,#a9cfe5 390.5px,#95c5df 392.5px,#7cb7da 394.5px,#84bcdb 396.5px,#b5d4e9 399.5px,#c1d9ed 401.5px,#b0d2e7 403.5px,#84bcdb 406.5px,#77b5d9 408.5px,#84bcdb 413.5px,#77b5d9 423.5px,#69add5 429.5px,#71b1d7 440.5px,#87bddc 447.5px,#7fb9da 452.5px,#6aaed6 465.5px,#6caed6 486.5px,#8dc1dd 499.5px,#9ac8e0 507.5px,#91c3de 521.5px,#6caed6 539.5px,#7fb9da 547.5px,#8cc0dd 552.5px,#84bcdb 559.5px)"></div><div style="top:168px;height:1px;background:linear-gradient(90deg,#61a7d2 0.5px,#63a8d3 8.5px,#72b2d8 16.5px,#6caed6 26.5px,#69add5 34.5px,#56a0ce 45.5px,#58a1cf 62.5px,#6dafd7 69.5px,#8cc0dd 76.5px,#89bedc 83.5px,#71b1d7 92.5px,#68acd5 103.5px,#77b5d9 113.5px,#6aaed6 120.5px,#539ecd 127.5px,#5aa2cf 132.5px,#79b5d9 142.5px,#82bbdb 148.5px,#7ab6d9 150.5px,#5aa2cf 154.5px,#5da5d1 156.5px,#8dc1dd 160.5px,#94c4df 162.5px,#7db8da 164.5px,#4695c8 167.5px,#3d8dc4 169.5px,#549fcd 171.5px,#7db8da 173.5px,#92c4de 175.5px,#87bddc 177.5px,#6fb0d7 179.5px,#6aaed6 181.5px,#6fb0d7 183.5px,#5ca4d0 185.5px,#2d7dbb 187.5px,#105ba4 189.5px,#1f6eb3 191.5px,#64a9d3 193.5px,#b2d2e8 195.5px,#c7dbef 197.5px,#b0d2e7 199.5px,#81badb 201.5px,#539ecd 203.5px,#3181bd 205.5px,#0e59a2 207.5px,#083674 209.5px,#084082 211.5px,#2777b8 213.5px,#75b4d8 215.5px,#b5d4e9 217.5px,#c3daee 219.5px,#a6cee4 221.5px,#63a8d3 223.5px,#3d8dc4 225.5px,#4d99ca 227.5px,#85bcdc 229.5px,#aacfe5 231.5px,#97c6df 233.5px,#64a9d3 235.5px,#5ba3d0 237.5px,#8abfdd 239.5px,#bdd7ec 241.5px,#c1d9ed 243.5px,#a0cbe2 245.5px,#81badb 247.5px,#97c6df 249.5px,#c1d9ed 251.5px,#caddf0 253.5px,#a5cde3 255.5px,#65aad4 257.5px,#57a0ce 259.5px,#81badb 261.5px,#b5d4e9 263.5px,#c9ddf0 265.5px,#b9d6ea 267.5px,#7db8da 269.5px,#2d7dbb 271.5px,#083b7c 273.5px,#08316d 275.5px,#2474b7 277.5px,#92c4de 279.5px,#caddf0 281.5px,#b9d6ea 283.5px,#74b3d8 285.5px,#4b98ca 287.5px,#63a8d3 289.5px,#a4cce3 291.5px,#c1d9ed 293.5px,#a5cde3 295.5px,#539ecd 297.5px,#2676b8 299.5px,#3a8ac2 301.5px,#8abfdd 303.5px,#bcd7eb 305.5px,#a0cbe2 307.5px,#4695c8 309.5px,#1d6cb1 311.5px,#3686c0 313.5px,#81badb 315.5px,#a9cfe5 317.5px,#84bcdb 319.5px,#4a98c9 321.5px,#4292c6 323.5px,#6fb0d7 325.5px,#a0cbe2 327.5px,#a0cbe2 329.5px,#85bcdc 331.5px,#82bbdb 333.5px,#b2d2e8 336.5px,#b3d3e8 338.5px,#75b4d8 340.5px,#2979b9 342.5px,#1561a9 344.5px,#4292c6 346.5px,#abd0e6 348.5px,#d2e3f3 350.5px,#bad6eb 352.5px,#56a0ce 354.5px,#1865ac 356.5px,#1e6db2 358.5px,#61a7d2 360.5px,#aed1e7 362.5px,#b9d6ea 364.5px,#8dc1dd 366.5px,#4493c7 368.5px,#2373b6 370.5px,#3686c0 372.5px,#72b2d8 374.5px,#a6cee4 376.5px,#a4cce3 378.5px,#75b4d8 380.5px,#4a98c9 382.5px,#4997c9 384.5px,#72b2d8 386.5px,#a1cbe2 388.5px,#abd0e6 390.5px,#99c7e0 392.5px,#81badb 394.5px,#87bddc 396.5px,#b8d5ea 399.5px,#c2d9ee 401.5px,#b2d2e8 403.5px,#85bcdc 406.5px,#7ab6d9 408.5px,#87bddc 414.5px,#7cb7da 423.5px,#6fb0d7 429.5px,#74b3d8 440.5px,#89bedc 447.5px,#71b1d7 459.5px,#6aaed6 481.5px,#81badb 495.5px,#99c7e0 506.5px,#94c4df 521.5px,#6dafd7 539.5px,#75b4d8 544.5px,#8cc0dd 551.5px,#85bcdc 559.5px)"></div><div style="top:169px;height:2px;background:linear-gradient(90deg,#65aad3 0.5px,#65aad4 9.5px,#6fb0d7 18.5px,#71b2d7 31.5px,#5ba3d0 43.5px,#56a0ce 55.5px,#56a0ce 62.5px,#75b3d8 71.5px,#87bddc 76.5px,#88bedc 82.5px,#66abd4 99.5px,#69add5 105.5px,#75b4d8 112.5px,#63a8d3 122.5px,#56a0ce 128.5px,#85bcdc 145.5px,#8cc0dd 148.5px,#80b9da 150.5px,#5ca3d0 153.5px,#539ecd 155.5px,#66aad4 157.5px,#9bc8e0 160.5px,#a4cce3 162.5px,#89bedc 164.5px,#559fcd 166.5px,#3686c0 168.5px,#3f8fc5 170.5px,#6eb0d7 172.5px,#9ecae1 174.5px,#a1cbe2 176.5px,#74b3d8 179.5px,#6baed6 181.5px,#75b3d8 183.5px,#63a9d3 185.5px,#3080bd 187.5px,#115ca5 189.5px,#1f6eb3 191.5px,#64a9d3 193.5px,#b2d2e8 195.5px,#c7dbef 197.5px,#b0d2e7 199.5px,#7eb9da 201.5px,#4f9bcb 203.5px,#1b69af 206.5px,#083f81 208.5px,#08306b 210.5px,#0a539e 212.5px,#4695c8 214.5px,#98c7e0 216.5px,#bdd7ec 218.5px,#b5d4e9 220.5px,#81badb 222.5px,#4695c8 224.5px,#3c8cc3 226.5px,#65aad3 228.5px,#9fcbe1 230.5px,#a8cee4 232.5px,#7eb9da 234.5px,#5ba3d0 236.5px,#6fb0d7 238.5px,#acd0e6 240.5px,#c7dcef 242.5px,#b7d4ea 244.5px,#90c2de 246.5px,#88bedc 248.5px,#c2d9ee 251.5px,#caddf0 253.5px,#a5cde3 255.5px,#65aad4 257.5px,#58a1ce 259.5px,#81badb 261.5px,#b7d4ea 263.5px,#c9ddf0 265.5px,#bad6eb 267.5px,#80b9da 269.5px,#2d7dbb 271.5px,#083b7c 273.5px,#08316d 275.5px,#2373b6 277.5px,#92c4de 279.5px,#cadef0 281.5px,#bbd6eb 283.5px,#76b4d8 285.5px,#4c99ca 287.5px,#63a9d3 289.5px,#a4cce3 291.5px,#bfd8ec 293.5px,#a3cce3 295.5px,#529dcc 297.5px,#2676b8 299.5px,#3c8cc3 301.5px,#8dc1dd 303.5px,#bed8ec 305.5px,#a3cce3 307.5px,#4896c8 309.5px,#1d6cb1 311.5px,#3585c0 313.5px,#81badb 315.5px,#aacfe5 317.5px,#89bedc 319.5px,#4f9bcb 321.5px,#4795c8 323.5px,#72b2d8 325.5px,#a2cce2 327.5px,#a1cbe2 329.5px,#84bcdb 331.5px,#80b9da 333.5px,#b0d2e7 336.5px,#b1d2e8 338.5px,#73b2d8 340.5px,#2777b8 342.5px,#135fa7 344.5px,#3f8fc5 346.5px,#a8cee4 348.5px,#d0e2f2 350.5px,#b9d5ea 352.5px,#549fcd 354.5px,#1765ab 356.5px,#1e6db2 358.5px,#61a7d2 360.5px,#acd0e6 362.5px,#b7d5ea 364.5px,#8bc0dd 366.5px,#4393c6 368.5px,#2373b6 370.5px,#3686c0 372.5px,#73b2d8 374.5px,#a8cee5 376.5px,#a6cee4 378.5px,#79b5d9 380.5px,#4d9aca 382.5px,#4d99ca 384.5px,#77b5d9 386.5px,#a6cee4 388.5px,#b0d2e7 390.5px,#9fcae1 392.5px,#85bcdc 394.5px,#8cc0dd 396.5px,#bad6eb 399.5px,#c3daee 401.5px,#b3d3e8 403.5px,#87bddc 406.5px,#7cb7da 408.5px,#89bedc 414.5px,#7fb9da 424.5px,#76b4d8 431.5px,#79b5d9 440.5px,#88bedc 446.5px,#7eb9da 451.5px,#70b1d7 458.5px,#6fb0d7 483.5px,#88bedc 499.5px,#99c7e0 509.5px,#99c7e0 521.5px,#75b3d8 536.5px,#6dafd7 541.5px,#8dc1dd 552.5px,#89bedc 559.5px)"></div><div style="top:171px;height:2px;background:linear-gradient(90deg,#67abd4 0.5px,#68acd5 13.5px,#79b6d9 28.5px,#5fa6d1 41.5px,#61a7d2 52.5px,#539ecd 60.5px,#66abd4 68.5px,#81badb 77.5px,#7ab6d9 89.5px,#63a8d3 101.5px,#73b2d8 111.5px,#5ca4d0 128.5px,#80b9da 143.5px,#91c3de 148.5px,#85bcdc 150.5px,#56a0ce 154.5px,#5aa3cf 156.5px,#79b6d9 158.5px,#9dcae1 160.5px,#a6cde4 162.5px,#8dc0dd 164.5px,#4393c6 167.5px,#3989c1 169.5px,#59a2cf 171.5px,#92c4de 173.5px,#aacfe5 175.5px,#9ac8e0 177.5px,#79b5d9 179.5px,#6fb0d7 181.5px,#78b5d9 183.5px,#64a9d3 185.5px,#3181bd 187.5px,#115ca5 189.5px,#1f6eb3 191.5px,#64a9d3 193.5px,#b2d3e8 195.5px,#c7dcef 197.5px,#b0d2e7 199.5px,#7cb7da 201.5px,#4b98c9 203.5px,#1764ab 206.5px,#083a7a 208.5px,#08306b 210.5px,#08509a 212.5px,#4292c6 214.5px,#92c4de 216.5px,#b9d5ea 218.5px,#b0d2e7 220.5px,#7bb7d9 222.5px,#4392c6 224.5px,#3a8ac2 226.5px,#62a8d2 228.5px,#9fcae1 230.5px,#a8cee5 232.5px,#81badb 234.5px,#5ea5d1 236.5px,#74b3d8 238.5px,#b0d2e7 240.5px,#c9ddf0 242.5px,#b9d6ea 244.5px,#91c3de 246.5px,#89bedc 248.5px,#c1d9ed 251.5px,#c9ddf0 253.5px,#a3cce3 255.5px,#63a9d3 257.5px,#56a0ce 259.5px,#81badb 261.5px,#b7d4ea 263.5px,#caddf0 265.5px,#bcd7ec 267.5px,#82bbdb 269.5px,#2f7fbc 271.5px,#083c7d 273.5px,#08316d 275.5px,#2373b6 277.5px,#91c3de 279.5px,#cadef0 281.5px,#bcd7eb 283.5px,#79b5d9 285.5px,#4e9acb 287.5px,#65aad3 289.5px,#a4cce3 291.5px,#bed8ec 293.5px,#a1cbe2 295.5px,#529dcc 297.5px,#2676b8 299.5px,#3e8ec4 301.5px,#93c4df 303.5px,#c3daee 305.5px,#a8cee4 307.5px,#4b98ca 309.5px,#1f6eb3 311.5px,#3888c1 313.5px,#85bcdc 315.5px,#afd1e7 317.5px,#91c3de 319.5px,#56a0ce 321.5px,#4e9acb 323.5px,#7ab6d9 325.5px,#a5cde3 327.5px,#a1cbe2 329.5px,#82bbdb 331.5px,#7bb7d9 333.5px,#acd0e6 336.5px,#aed1e7 338.5px,#70b1d7 340.5px,#2575b7 342.5px,#125da6 344.5px,#3d8dc4 346.5px,#a5cde3 348.5px,#cfe1f2 350.5px,#b7d5ea 352.5px,#559fcd 354.5px,#1865ac 356.5px,#1e6db2 358.5px,#60a7d2 360.5px,#aacfe5 362.5px,#b5d4e9 364.5px,#88bedc 366.5px,#4191c6 368.5px,#2373b6 370.5px,#3989c1 372.5px,#79b5d9 374.5px,#add0e6 376.5px,#acd0e6 378.5px,#80b9da 380.5px,#549ecd 382.5px,#549ecd 384.5px,#80b9da 386.5px,#add0e6 388.5px,#b7d4ea 390.5px,#8bc0dd 394.5px,#8fc2de 396.5px,#bad6eb 399.5px,#c2d9ee 401.5px,#b0d2e7 403.5px,#85bcdc 406.5px,#79b6d9 408.5px,#88bedc 413.5px,#7ab6d9 439.5px,#85bcdc 446.5px,#6dafd6 456.5px,#73b2d8 483.5px,#91c3de 505.5px,#9dc9e1 522.5px,#7bb7d9 535.5px,#6caed6 541.5px,#7fb9da 547.5px,#8fc2de 552.5px,#8dc0dd 559.5px)"></div><div style="top:173px;height:2px;background:linear-gradient(90deg,#6aadd5 0.5px,#66aad4 16.5px,#7cb7da 27.5px,#6dafd6 34.5px,#62a8d2 42.5px,#66abd4 52.5px,#559fcd 61.5px,#76b4d8 76.5px,#79b5d9 90.5px,#65aad3 100.5px,#6eb0d7 111.5px,#61a7d2 125.5px,#75b4d8 139.5px,#95c5df 148.5px,#8abfdd 150.5px,#61a7d2 153.5px,#56a0ce 155.5px,#68acd5 157.5px,#9ecae1 160.5px,#a6cee4 162.5px,#8dc1dd 164.5px,#4695c7 167.5px,#3b8bc2 169.5px,#5da4d0 171.5px,#96c6df 173.5px,#add0e6 175.5px,#9fcae1 177.5px,#7db8da 179.5px,#72b2d8 181.5px,#7ab6d9 183.5px,#65aad4 185.5px,#3181bd 187.5px,#115ca5 189.5px,#1f6eb3 191.5px,#65aad3 193.5px,#b3d3e9 195.5px,#c8dcf0 197.5px,#b1d2e8 199.5px,#7cb7da 201.5px,#4a98c9 203.5px,#2676b8 205.5px,#084d96 207.5px,#08306b 209.5px,#083573 211.5px,#1f6eb3 213.5px,#68acd5 215.5px,#a9cfe5 217.5px,#b7d5ea 219.5px,#99c7e0 221.5px,#58a1ce 223.5px,#3686c0 225.5px,#4695c8 227.5px,#9fcae1 230.5px,#a9cfe5 232.5px,#82bbdb 234.5px,#60a7d2 236.5px,#77b5d9 238.5px,#b3d3e8 240.5px,#cbdef1 242.5px,#bad6eb 244.5px,#90c2de 246.5px,#85bcdc 248.5px,#bed7ec 251.5px,#c7dbef 253.5px,#a0cbe2 255.5px,#61a7d2 257.5px,#549fcd 259.5px,#7fb9da 261.5px,#b7d4ea 263.5px,#cadef0 265.5px,#bdd7ec 267.5px,#85bcdc 269.5px,#3080bd 271.5px,#083d7e 273.5px,#08316d 275.5px,#2272b6 277.5px,#91c3de 279.5px,#caddf0 281.5px,#bcd7eb 283.5px,#7ab6d9 285.5px,#509ccb 287.5px,#66aad4 289.5px,#a6cde4 291.5px,#bfd8ec 293.5px,#a2cce2 295.5px,#529dcc 297.5px,#2878b9 299.5px,#4090c5 301.5px,#98c7e0 303.5px,#c7dcef 305.5px,#abd0e6 307.5px,#509ccb 309.5px,#2272b6 311.5px,#3c8cc3 313.5px,#8dc0dd 315.5px,#b4d3e9 317.5px,#97c6df 319.5px,#5ca3d0 321.5px,#539ecd 323.5px,#7fb9da 325.5px,#a8cee5 327.5px,#a3cce3 329.5px,#81badb 331.5px,#78b5d9 333.5px,#99c7e0 335.5px,#b0d2e7 337.5px,#97c6df 339.5px,#4594c7 341.5px,#1461a8 343.5px,#1e6eb2 345.5px,#6fb0d7 347.5px,#c7dbef 349.5px,#cddff1 351.5px,#8ec1de 353.5px,#2f7fbc 355.5px,#1461a8 357.5px,#3989c1 359.5px,#8bc0dd 361.5px,#b5d4e9 363.5px,#a4cce3 365.5px,#61a7d2 367.5px,#2e7ebc 369.5px,#2a7aba 371.5px,#59a2cf 373.5px,#a1cbe2 375.5px,#b9d5ea 377.5px,#a3cce3 379.5px,#6dafd6 381.5px,#559fcd 383.5px,#6caed6 385.5px,#a1cbe2 387.5px,#bad6eb 389.5px,#b3d3e8 391.5px,#8cc0dd 394.5px,#8ec1de 396.5px,#b7d4ea 399.5px,#bed7ec 401.5px,#abd0e6 403.5px,#7eb9da 406.5px,#74b3d8 408.5px,#84bcdb 413.5px,#7fb9da 434.5px,#7bb7d9 441.5px,#7db8da 447.5px,#6aaed6 455.5px,#6fb0d7 479.5px,#93c4df 513.5px,#9ecae1 522.5px,#80b9da 534.5px,#6caed6 540.5px,#73b2d8 544.5px,#91c3de 552.5px,#90c2de 559.5px)"></div><div style="top:175px;height:2px;background:linear-gradient(90deg,#6baed6 0.5px,#64a9d3 16.5px,#79b6d9 26.5px,#75b3d8 31.5px,#63a9d3 40.5px,#6baed6 52.5px,#58a1ce 61.5px,#6dafd6 75.5px,#71b2d7 82.5px,#79b5d9 89.5px,#68acd5 102.5px,#6dafd6 111.5px,#63a8d3 121.5px,#79b5d9 140.5px,#9ac8e0 147.5px,#97c6df 149.5px,#81badb 151.5px,#63a9d3 153.5px,#58a1ce 155.5px,#68acd5 157.5px,#9fcae1 160.5px,#a7cee4 162.5px,#8ec1de 164.5px,#4795c8 167.5px,#3d8dc3 169.5px,#5fa6d1 171.5px,#99c7e0 173.5px,#afd1e7 175.5px,#9fcbe1 177.5px,#7db8da 179.5px,#72b2d8 181.5px,#7ab6d9 183.5px,#66abd4 185.5px,#3282be 187.5px,#125da6 189.5px,#206fb4 191.5px,#65aad4 193.5px,#b4d3e9 195.5px,#c8ddf0 197.5px,#b2d3e8 199.5px,#7eb9da 201.5px,#4d99ca 203.5px,#1764ab 206.5px,#083b7c 208.5px,#08306b 210.5px,#08509b 212.5px,#4292c6 214.5px,#8fc2de 216.5px,#b5d4e9 218.5px,#add0e6 220.5px,#76b4d8 222.5px,#4090c5 224.5px,#3989c1 226.5px,#62a8d2 228.5px,#9fcbe1 230.5px,#a9cfe5 232.5px,#84bcdb 234.5px,#61a7d2 236.5px,#79b5d9 238.5px,#b4d3e9 240.5px,#cbdef1 242.5px,#b9d5ea 244.5px,#8cc0dd 246.5px,#7fb9da 248.5px,#a6cee4 250.5px,#c4daee 252.5px,#b5d4e9 254.5px,#79b6d9 256.5px,#519ccc 258.5px,#62a8d2 260.5px,#9fcae1 262.5px,#c6dbef 264.5px,#c9ddf0 266.5px,#a9cfe5 268.5px,#5aa2cf 270.5px,#115ca5 272.5px,#08306b 274.5px,#084b93 276.5px,#559fcd 278.5px,#b9d6ea 280.5px,#cadef0 282.5px,#a2cce2 284.5px,#5ea5d1 286.5px,#56a0ce 288.5px,#89bfdd 290.5px,#bbd6eb 292.5px,#bad6eb 294.5px,#7db8da 296.5px,#3686c0 298.5px,#2d7dbb 300.5px,#68acd5 302.5px,#bad6eb 304.5px,#c4daee 306.5px,#82bbdb 308.5px,#3383be 310.5px,#2a7aba 312.5px,#65aad3 314.5px,#aed1e7 316.5px,#b0d2e7 318.5px,#79b5d9 320.5px,#529dcc 322.5px,#66aad4 324.5px,#9cc9e1 326.5px,#abd0e6 328.5px,#92c4de 330.5px,#75b3d8 332.5px,#82bbdb 334.5px,#a6cee4 336.5px,#aacfe5 338.5px,#6eb0d7 340.5px,#2676b8 342.5px,#1460a8 344.5px,#4191c6 346.5px,#abcfe5 348.5px,#d3e3f3 350.5px,#bdd7ec 352.5px,#5ba3d0 354.5px,#1b69af 356.5px,#2070b4 358.5px,#61a7d2 360.5px,#a9cfe5 362.5px,#b2d3e8 364.5px,#85bcdc 366.5px,#4292c6 368.5px,#2777b8 370.5px,#3e8ec4 372.5px,#85bcdc 374.5px,#b8d5ea 376.5px,#b8d5ea 378.5px,#91c3de 380.5px,#61a7d2 382.5px,#5fa6d1 384.5px,#8cc0dd 386.5px,#b3d3e9 388.5px,#bad6eb 390.5px,#a5cde3 392.5px,#89bedc 394.5px,#89bedc 396.5px,#b2d2e8 399.5px,#b8d5ea 401.5px,#a6cde4 403.5px,#77b5d9 406.5px,#6dafd7 408.5px,#7db8da 413.5px,#7bb7d9 420.5px,#84bcdb 430.5px,#75b4d8 440.5px,#75b4d8 448.5px,#6aaed6 456.5px,#65aad4 472.5px,#85bcdc 497.5px,#90c2de 517.5px,#9ac8e0 523.5px,#82bbdb 533.5px,#6aaed6 540.5px,#79b6d9 545.5px,#91c3de 551.5px,#93c4df 559.5px)"></div><div style="top:177px;height:2px;background:linear-gradient(90deg,#6eb0d7 0.5px,#64a9d3 16.5px,#76b4d8 26.5px,#63a8d3 43.5px,#6baed6 53.5px,#5ca3d0 63.5px,#64a9d3 75.5px,#6aaed6 82.5px,#76b4d8 89.5px,#6dafd7 104.5px,#68acd5 114.5px,#65aad3 121.5px,#73b2d8 130.5px,#74b3d8 138.5px,#87bddc 143.5px,#9ecae1 147.5px,#9bc8e0 149.5px,#85bcdc 151.5px,#66aad4 153.5px,#5aa3cf 155.5px,#6aaed6 157.5px,#9fcbe1 160.5px,#a8cee5 162.5px,#90c2de 164.5px,#5da4d0 166.5px,#3e8ec4 168.5px,#4a98c9 170.5px,#7db8da 172.5px,#a9cfe5 174.5px,#a9cfe5 176.5px,#8bc0dd 178.5px,#71b2d7 180.5px,#79b6d9 183.5px,#66abd4 185.5px,#3383be 187.5px,#125ea6 189.5px,#2070b4 191.5px,#66abd4 193.5px,#b5d4e9 195.5px,#c9ddf0 197.5px,#b5d4e9 199.5px,#82bbdb 201.5px,#529dcc 203.5px,#1c6ab0 206.5px,#084285 208.5px,#08326d 210.5px,#0a549e 212.5px,#4594c7 214.5px,#91c3de 216.5px,#b6d4e9 218.5px,#aed1e7 220.5px,#79b6d9 222.5px,#4392c6 224.5px,#3b8bc2 226.5px,#65aad3 228.5px,#a1cbe2 230.5px,#aacfe5 232.5px,#84bcdb 234.5px,#61a7d2 236.5px,#78b5d9 238.5px,#b3d3e8 240.5px,#cadef0 242.5px,#b5d4e9 244.5px,#87bddc 246.5px,#79b5d9 248.5px,#a1cbe2 250.5px,#bfd8ed 252.5px,#b1d2e8 254.5px,#76b4d8 256.5px,#4f9bcb 258.5px,#61a7d2 260.5px,#9ecae1 262.5px,#c6dbef 264.5px,#c8ddf0 266.5px,#a9cfe5 268.5px,#5aa2cf 270.5px,#125da6 272.5px,#08306b 274.5px,#084c95 276.5px,#56a0ce 278.5px,#bbd6eb 280.5px,#ccdff1 282.5px,#a5cde3 284.5px,#62a8d2 286.5px,#5aa2cf 288.5px,#8ec1de 290.5px,#bed8ec 292.5px,#bcd7ec 294.5px,#7fb9da 296.5px,#3787c0 298.5px,#2c7cbb 300.5px,#66aad4 302.5px,#b7d5ea 304.5px,#c3daee 306.5px,#81badb 308.5px,#3383be 310.5px,#2b7bba 312.5px,#66abd4 314.5px,#afd1e7 316.5px,#b0d2e7 318.5px,#77b5d9 320.5px,#509ccb 322.5px,#65aad3 324.5px,#9bc8e0 326.5px,#abcfe5 328.5px,#91c3de 330.5px,#73b2d8 332.5px,#81badb 334.5px,#a5cde3 336.5px,#a9cfe5 338.5px,#6fb0d7 340.5px,#2878b9 342.5px,#1663aa 344.5px,#4896c8 346.5px,#b1d2e8 348.5px,#d6e6f4 350.5px,#c3daee 352.5px,#5fa6d1 354.5px,#1d6cb1 356.5px,#2272b5 358.5px,#63a9d3 360.5px,#abcfe5 362.5px,#b3d3e9 364.5px,#88bedc 366.5px,#4493c7 368.5px,#2979b9 370.5px,#4191c5 372.5px,#89bfdd 374.5px,#bcd7ec 376.5px,#bcd7ec 378.5px,#95c5df 380.5px,#64a9d3 382.5px,#61a7d2 384.5px,#8bc0dd 386.5px,#b0d2e7 388.5px,#b5d4e9 390.5px,#9fcbe2 392.5px,#80b9da 394.5px,#80b9da 396.5px,#abcfe5 399.5px,#b1d2e8 401.5px,#9fcbe2 403.5px,#71b1d7 406.5px,#68acd5 408.5px,#78b5d9 413.5px,#72b2d8 419.5px,#83bbdb 428.5px,#6eb0d7 441.5px,#69add5 461.5px,#5da4d0 470.5px,#7bb7d9 489.5px,#87bddc 496.5px,#82bbdb 507.5px,#84bcdb 516.5px,#93c4df 523.5px,#7db8da 534.5px,#6caed6 539.5px,#71b2d7 543.5px,#95c5df 551.5px,#97c6df 559.5px)"></div><div style="top:179px;height:1px;background:linear-gradient(90deg,#6fb0d7 0.5px,#64a9d3 16.5px,#72b2d8 26.5px,#63a8d3 45.5px,#6aaed6 54.5px,#5ca4d0 64.5px,#61a7d2 80.5px,#74b3d8 88.5px,#6caed6 112.5px,#65aad4 120.5px,#75b4d8 130.5px,#72b2d8 138.5px,#87bddc 143.5px,#9fcae1 147.5px,#9dcae1 149.5px,#89bedc 151.5px,#68acd5 153.5px,#5ca4d0 155.5px,#6dafd7 157.5px,#a1cbe2 160.5px,#aacfe5 162.5px,#92c4de 164.5px,#5fa6d1 166.5px,#3f8fc5 168.5px,#4b98ca 170.5px,#7db8da 172.5px,#a8cee4 174.5px,#a8cee4 176.5px,#77b5d9 179.5px,#6dafd7 181.5px,#79b5d9 183.5px,#66abd4 185.5px,#3484bf 187.5px,#135fa7 189.5px,#2171b5 191.5px,#68acd5 193.5px,#b7d4ea 195.5px,#caddf0 197.5px,#b7d4ea 199.5px,#87bddc 201.5px,#57a0ce 203.5px,#2070b4 206.5px,#08488e 208.5px,#083674 210.5px,#0e59a2 212.5px,#4997c9 214.5px,#95c5df 216.5px,#b8d5ea 218.5px,#b0d2e7 220.5px,#7db8da 222.5px,#4695c8 224.5px,#3d8dc4 226.5px,#68acd5 228.5px,#a3cce3 230.5px,#abd0e6 232.5px,#84bcdb 234.5px,#60a7d2 236.5px,#77b5d9 238.5px,#b2d2e8 240.5px,#c8dcf0 242.5px,#b3d3e8 244.5px,#82bbdb 246.5px,#74b3d8 248.5px,#9dcae1 250.5px,#bcd7eb 252.5px,#afd1e7 254.5px,#74b3d8 256.5px,#4e9acb 258.5px,#60a7d2 260.5px,#9dcae1 262.5px,#c4daee 264.5px,#c8dcf0 266.5px,#a8cee4 268.5px,#5aa2cf 270.5px,#125ea6 272.5px,#08306b 274.5px,#084e98 276.5px,#5aa2cf 278.5px,#bed8ec 280.5px,#cde0f1 282.5px,#a9cfe5 284.5px,#65aad4 286.5px,#5da5d1 288.5px,#92c4de 290.5px,#c1d9ed 292.5px,#bfd8ed 294.5px,#81badb 296.5px,#3787c0 298.5px,#2c7cba 300.5px,#63a8d3 302.5px,#b4d3e9 304.5px,#bed8ec 306.5px,#7db8da 308.5px,#3282be 310.5px,#2b7bba 312.5px,#65aad4 314.5px,#aed1e7 316.5px,#aed1e7 318.5px,#74b3d8 320.5px,#4d99ca 322.5px,#63a8d3 324.5px,#99c7e0 326.5px,#a9cfe5 328.5px,#8fc2de 330.5px,#72b2d8 332.5px,#7fb9da 334.5px,#a5cde3 336.5px,#aacfe5 338.5px,#71b1d7 340.5px,#2b7bba 342.5px,#1966ad 344.5px,#4b98ca 346.5px,#b5d4e9 348.5px,#d9e7f5 350.5px,#c6dbef 352.5px,#61a7d2 354.5px,#1e6db2 356.5px,#2373b6 358.5px,#65aad4 360.5px,#add0e6 362.5px,#b5d4e9 364.5px,#8abfdd 366.5px,#4695c8 368.5px,#2a7ab9 370.5px,#4292c6 372.5px,#8cc0dd 374.5px,#bdd7ec 376.5px,#bdd7ec 378.5px,#95c5df 380.5px,#64a9d3 382.5px,#60a7d2 384.5px,#87bddc 386.5px,#add0e6 388.5px,#afd1e7 390.5px,#97c6df 392.5px,#77b5d9 394.5px,#77b5d9 396.5px,#a4cce3 399.5px,#abd0e6 401.5px,#9ac8e0 403.5px,#79b5d9 405.5px,#66abd4 407.5px,#74b3d8 413.5px,#6caed6 418.5px,#7fb9da 427.5px,#74b3d8 434.5px,#68acd5 441.5px,#6caed6 459.5px,#58a1cf 470.5px,#6fb0d7 486.5px,#87bddc 495.5px,#7db8da 506.5px,#7fb9da 517.5px,#8cc0dd 525.5px,#7ab6d9 535.5px,#6dafd7 540.5px,#77b5d9 544.5px,#99c7e0 551.5px,#9cc9e1 558.5px,#9cc9e1 559.5px)"></div><div style="top:180px;height:1px;background:linear-gradient(90deg,#6fb0d7 0.5px,#65aad4 17.5px,#6fb0d7 26.5px,#61a7d2 46.5px,#69add5 55.5px,#5aa2cf 68.5px,#5fa6d1 80.5px,#74b3d8 89.5px,#6dafd7 112.5px,#68acd5 121.5px,#77b5d9 129.5px,#6fb0d7 137.5px,#81badb 142.5px,#a0cbe2 147.5px,#9fcae1 149.5px,#89bedc 151.5px,#69add5 153.5px,#5da5d1 155.5px,#6fb0d7 157.5px,#a3cce3 160.5px,#abd0e6 162.5px,#94c4df 164.5px,#4d99ca 167.5px,#4191c6 169.5px,#61a7d2 171.5px,#99c7e0 173.5px,#abd0e6 175.5px,#99c7e0 177.5px,#75b4d8 179.5px,#6caed6 181.5px,#77b5d9 183.5px,#66abd4 185.5px,#3484bf 187.5px,#1460a8 189.5px,#2272b6 191.5px,#69add5 193.5px,#b7d4ea 195.5px,#cadef0 197.5px,#b8d5ea 199.5px,#8abfdd 201.5px,#5ba3d0 203.5px,#2575b7 206.5px,#084d96 208.5px,#083b7c 210.5px,#115ca5 212.5px,#4b98ca 214.5px,#97c6df 216.5px,#bad6eb 218.5px,#b3d3e8 220.5px,#81badb 222.5px,#4997c9 224.5px,#4090c5 226.5px,#6aaed6 228.5px,#a4cce3 230.5px,#abd0e6 232.5px,#84bcdb 234.5px,#60a7d2 236.5px,#75b4d8 238.5px,#b0d2e7 240.5px,#c7dcef 242.5px,#b0d2e7 244.5px,#81badb 246.5px,#72b2d8 248.5px,#9ac8e0 250.5px,#bad6eb 252.5px,#aed1e7 254.5px,#74b3d8 256.5px,#4e9acb 258.5px,#60a7d2 260.5px,#9dcae1 262.5px,#c4daee 264.5px,#c7dcef 266.5px,#a8cee4 268.5px,#5ba3d0 270.5px,#135fa7 272.5px,#08326e 274.5px,#08519c 276.5px,#5da5d1 278.5px,#c2d9ee 280.5px,#d0e1f2 282.5px,#abd0e6 284.5px,#69add5 286.5px,#60a7d2 288.5px,#95c5df 290.5px,#c3daee 292.5px,#c1d9ed 294.5px,#82bbdb 296.5px,#3787c0 298.5px,#2b7bba 300.5px,#61a7d2 302.5px,#b0d2e7 304.5px,#bcd7eb 306.5px,#79b5d9 308.5px,#3080bd 310.5px,#2979b9 312.5px,#64a9d3 314.5px,#add0e6 316.5px,#abd0e6 318.5px,#71b1d7 320.5px,#4b98ca 322.5px,#60a7d2 324.5px,#95c5df 326.5px,#a8cee4 328.5px,#8fc2de 330.5px,#72b2d8 332.5px,#7fb9da 334.5px,#a4cce3 336.5px,#aacfe5 338.5px,#72b2d8 340.5px,#2c7cba 342.5px,#1a68ae 344.5px,#4e9acb 346.5px,#b8d5ea 348.5px,#d9e8f5 350.5px,#c7dbef 352.5px,#63a8d3 354.5px,#1f6eb3 356.5px,#2474b7 358.5px,#66abd4 360.5px,#afd1e7 362.5px,#b8d5ea 364.5px,#8cc0dd 366.5px,#4896c8 368.5px,#2c7cba 370.5px,#4493c7 372.5px,#8cc0dd 374.5px,#bdd7ec 376.5px,#bdd7ec 378.5px,#95c5df 380.5px,#64a9d3 382.5px,#5fa6d1 384.5px,#84bcdb 386.5px,#a9cfe5 388.5px,#abd0e6 390.5px,#91c3de 392.5px,#71b1d7 394.5px,#71b1d7 396.5px,#9fcae1 399.5px,#a8cee4 401.5px,#97c6df 403.5px,#6aaed6 406.5px,#65aad4 408.5px,#72b2d8 412.5px,#69add5 418.5px,#7db8da 428.5px,#65aad4 439.5px,#6dafd7 459.5px,#549fcd 470.5px,#71b1d7 488.5px,#85bcdc 495.5px,#7cb7da 506.5px,#7cb7da 518.5px,#87bddc 525.5px,#7db8da 534.5px,#6fb0d7 540.5px,#79b5d9 544.5px,#9dcae1 552.5px,#a0cbe2 559.5px)"></div><div style="top:181px;height:1px;background:linear-gradient(90deg,#6fb0d7 0.5px,#68acd5 11.5px,#69add5 20.5px,#6caed6 29.5px,#64a9d3 41.5px,#65aad4 50.5px,#66abd4 57.5px,#56a0ce 69.5px,#5ba3d0 79.5px,#72b2d8 88.5px,#71b1d7 112.5px,#68acd5 120.5px,#75b4d8 129.5px,#6caed6 136.5px,#7fb9da 142.5px,#9fcae1 147.5px,#9fcae1 149.5px,#8abfdd 151.5px,#6aaed6 153.5px,#5fa6d1 155.5px,#71b1d7 157.5px,#97c6df 159.5px,#abd0e6 161.5px,#a6cee4 163.5px,#7db8da 165.5px,#4f9bcb 167.5px,#4292c6 169.5px,#63a8d3 171.5px,#99c7e0 173.5px,#aacfe5 175.5px,#95c5df 177.5px,#72b2d8 179.5px,#6aaed6 181.5px,#77b5d9 183.5px,#66abd4 185.5px,#3585bf 187.5px,#1562a9 189.5px,#2474b7 191.5px,#6aaed6 193.5px,#b8d5ea 195.5px,#cbdef1 197.5px,#bad6eb 199.5px,#60a7d2 203.5px,#2b7bba 206.5px,#09529d 208.5px,#084184 210.5px,#1460a8 212.5px,#4f9bcb 214.5px,#9cc9e1 216.5px,#bdd7ec 218.5px,#b5d4e9 220.5px,#84bcdb 222.5px,#4d99ca 224.5px,#4292c6 226.5px,#6dafd7 228.5px,#a6cee4 230.5px,#add0e6 232.5px,#84bcdb 234.5px,#5fa6d1 236.5px,#74b3d8 238.5px,#afd1e7 240.5px,#c7dbef 242.5px,#afd1e7 244.5px,#7db8da 246.5px,#6fb0d7 248.5px,#99c7e0 250.5px,#b9d6ea 252.5px,#add0e6 254.5px,#74b3d8 256.5px,#4f9bcb 258.5px,#61a7d2 260.5px,#9dcae1 262.5px,#c3daee 264.5px,#c7dbef 266.5px,#a8cee4 268.5px,#5ba3d0 270.5px,#1460a8 272.5px,#083471 274.5px,#0a539e 276.5px,#60a7d2 278.5px,#c4daee 280.5px,#d1e2f3 282.5px,#aed1e7 284.5px,#6caed6 286.5px,#63a8d3 288.5px,#99c7e0 290.5px,#c4daee 292.5px,#c2d9ee 294.5px,#82bbdb 296.5px,#3888c1 298.5px,#2a7ab9 300.5px,#5fa6d1 302.5px,#add0e6 304.5px,#b8d5ea 306.5px,#75b4d8 308.5px,#2e7ebc 310.5px,#2777b8 312.5px,#63a8d3 314.5px,#aacfe5 316.5px,#aacfe5 318.5px,#6dafd7 320.5px,#4997c9 322.5px,#5da5d1 324.5px,#94c4df 326.5px,#a6cee4 328.5px,#8dc1dd 330.5px,#71b1d7 332.5px,#7fb9da 334.5px,#a4cce3 336.5px,#aacfe5 338.5px,#72b2d8 340.5px,#2d7dbb 342.5px,#1c6ab0 344.5px,#519ccc 346.5px,#b9d6ea 348.5px,#dae8f6 350.5px,#c7dbef 352.5px,#63a8d3 354.5px,#1f6eb3 356.5px,#2575b7 358.5px,#68acd5 360.5px,#b0d2e7 362.5px,#b9d6ea 364.5px,#8dc1dd 366.5px,#4997c9 368.5px,#2d7dbb 370.5px,#4493c7 372.5px,#8cc0dd 374.5px,#bdd7ec 376.5px,#bdd7ec 378.5px,#95c5df 380.5px,#63a8d3 382.5px,#5ca4d0 384.5px,#81badb 386.5px,#a5cde3 388.5px,#a6cee4 390.5px,#8abfdd 392.5px,#6aaed6 394.5px,#6aaed6 396.5px,#9ac8e0 399.5px,#a4cce3 401.5px,#92c4de 403.5px,#69add5 406.5px,#68acd5 409.5px,#72b2d8 412.5px,#68acd5 419.5px,#7ab6d9 427.5px,#6dafd7 433.5px,#61a7d2 441.5px,#6dafd7 458.5px,#529dcc 470.5px,#6aaed6 487.5px,#82bbdb 495.5px,#7cb7da 507.5px,#79b5d9 518.5px,#84bcdb 525.5px,#7cb7da 536.5px,#72b2d8 541.5px,#82bbdb 546.5px,#a1cbe2 553.5px,#a4cce3 559.5px)"></div><div style="top:182px;height:1px;background:linear-gradient(90deg,#6dafd7 0.5px,#66abd4 18.5px,#6aaed6 28.5px,#66abd4 40.5px,#63a8d3 49.5px,#64a9d3 58.5px,#519ccc 70.5px,#58a1cf 79.5px,#71b1d7 88.5px,#74b3d8 112.5px,#6aaed6 121.5px,#74b3d8 129.5px,#6aaed6 136.5px,#79b5d9 141.5px,#9fcae1 147.5px,#9dcae1 149.5px,#89bedc 151.5px,#6aaed6 153.5px,#60a7d2 155.5px,#72b2d8 157.5px,#99c7e0 159.5px,#add0e6 161.5px,#a8cee4 163.5px,#81badb 165.5px,#519ccc 167.5px,#4493c7 169.5px,#64a9d3 171.5px,#97c6df 173.5px,#a9cfe5 175.5px,#94c4df 177.5px,#71b1d7 179.5px,#69add5 181.5px,#75b4d8 183.5px,#66abd4 185.5px,#3686c0 187.5px,#1663aa 189.5px,#2676b8 191.5px,#6dafd7 193.5px,#bad6eb 195.5px,#ccdff1 197.5px,#bdd7ec 199.5px,#65aad4 203.5px,#4191c6 205.5px,#0d57a1 208.5px,#08468b 210.5px,#1764ab 212.5px,#539ecd 214.5px,#9fcae1 216.5px,#bfd8ed 218.5px,#b8d5ea 220.5px,#89bedc 222.5px,#4f9bcb 224.5px,#4695c8 226.5px,#71b1d7 228.5px,#a8cee4 230.5px,#add0e6 232.5px,#84bcdb 234.5px,#5fa6d1 236.5px,#74b3d8 238.5px,#aed1e7 240.5px,#c4daee 242.5px,#add0e6 244.5px,#7cb7da 246.5px,#6dafd7 248.5px,#95c5df 250.5px,#b8d5ea 252.5px,#add0e6 254.5px,#74b3d8 256.5px,#4f9bcb 258.5px,#61a7d2 260.5px,#9dcae1 262.5px,#c3daee 264.5px,#c7dbef 266.5px,#a8cee4 268.5px,#5ca4d0 270.5px,#1663aa 272.5px,#083776 274.5px,#0d57a1 276.5px,#64a9d3 278.5px,#c7dcef 280.5px,#d3e4f3 282.5px,#b2d2e8 284.5px,#71b1d7 286.5px,#65aad4 288.5px,#9ac8e0 290.5px,#c6dbef 292.5px,#c2d9ee 294.5px,#84bcdb 296.5px,#3888c1 298.5px,#2a7ab9 300.5px,#5ca4d0 302.5px,#aacfe5 304.5px,#b4d3e9 306.5px,#71b1d7 308.5px,#2c7cba 310.5px,#2676b8 312.5px,#61a7d2 314.5px,#a9cfe5 316.5px,#a8cee4 318.5px,#6aaed6 320.5px,#4695c8 322.5px,#5ba3d0 324.5px,#91c3de 326.5px,#a5cde3 328.5px,#8cc0dd 330.5px,#71b1d7 332.5px,#7fb9da 334.5px,#a4cce3 336.5px,#aacfe5 338.5px,#74b3d8 340.5px,#2f7fbc 342.5px,#1c6bb0 344.5px,#529dcc 346.5px,#bad6eb 348.5px,#dae8f6 350.5px,#c7dbef 352.5px,#63a8d3 354.5px,#206fb4 356.5px,#2575b7 358.5px,#69add5 360.5px,#b2d2e8 362.5px,#bad6eb 364.5px,#91c3de 366.5px,#4b98ca 368.5px,#2e7ebc 370.5px,#4594c7 372.5px,#8dc1dd 374.5px,#bdd7ec 376.5px,#bcd7eb 378.5px,#94c4df 380.5px,#61a7d2 382.5px,#5ba3d0 384.5px,#7db8da 386.5px,#a1cbe2 388.5px,#a3cce3 390.5px,#85bcdc 392.5px,#65aad4 394.5px,#65aad4 396.5px,#94c4df 399.5px,#a0cbe2 401.5px,#8fc2de 403.5px,#68acd5 406.5px,#64a9d3 408.5px,#72b2d8 412.5px,#65aad4 418.5px,#77b5d9 426.5px,#6dafd7 432.5px,#5fa6d1 440.5px,#68acd5 452.5px,#6dafd7 458.5px,#519ccc 470.5px,#60a7d2 484.5px,#81badb 496.5px,#7cb7da 505.5px,#7ab6d9 512.5px,#75b4d8 518.5px,#81badb 527.5px,#7fb9da 536.5px,#77b5d9 542.5px,#89bedc 547.5px,#a4cce3 553.5px,#a9cfe5 559.5px)"></div><div style="top:183px;height:1px;background:linear-gradient(90deg,#6caed6 0.5px,#66abd4 19.5px,#69add5 39.5px,#61a7d2 49.5px,#64a9d3 58.5px,#4d99ca 69.5px,#5aa2cf 80.5px,#71b1d7 88.5px,#77b5d9 113.5px,#6aaed6 122.5px,#71b1d7 129.5px,#68acd5 136.5px,#77b5d9 141.5px,#9dcae1 147.5px,#9cc9e1 149.5px,#89bedc 151.5px,#6aaed6 153.5px,#60a7d2 155.5px,#74b3d8 157.5px,#a6cee4 160.5px,#afd1e7 162.5px,#9ac8e0 164.5px,#539ecd 167.5px,#4695c8 169.5px,#64a9d3 171.5px,#97c6df 173.5px,#a8cee4 175.5px,#91c3de 177.5px,#6fb0d7 179.5px,#68acd5 181.5px,#75b4d8 183.5px,#68acd5 185.5px,#3888c1 187.5px,#1865ac 189.5px,#2979b9 191.5px,#6fb0d7 193.5px,#bcd7eb 195.5px,#cde0f1 197.5px,#bed8ec 199.5px,#7fb9da 202.5px,#4896c8 205.5px,#125da6 208.5px,#084b93 210.5px,#1a68ae 212.5px,#58a1cf 214.5px,#a1cbe2 216.5px,#c2d9ee 218.5px,#bad6eb 220.5px,#8cc0dd 222.5px,#539ecd 224.5px,#4997c9 226.5px,#72b2d8 228.5px,#a9cfe5 230.5px,#aed1e7 232.5px,#84bcdb 234.5px,#5fa6d1 236.5px,#72b2d8 238.5px,#abd0e6 240.5px,#c3daee 242.5px,#abd0e6 244.5px,#79b5d9 246.5px,#6aaed6 248.5px,#94c4df 250.5px,#b5d4e9 252.5px,#abd0e6 254.5px,#74b3d8 256.5px,#519ccc 258.5px,#61a7d2 260.5px,#9dcae1 262.5px,#c2d9ee 264.5px,#c6dbef 266.5px,#a8cee4 268.5px,#5fa6d1 270.5px,#1865ac 272.5px,#083a7a 274.5px,#0f5aa3 276.5px,#69add5 278.5px,#caddf0 280.5px,#d5e5f4 282.5px,#b4d3e9 284.5px,#74b3d8 286.5px,#68acd5 288.5px,#9cc9e1 290.5px,#c6dbef 292.5px,#c2d9ee 294.5px,#84bcdb 296.5px,#3888c1 298.5px,#2979b9 300.5px,#5ba3d0 302.5px,#a6cee4 304.5px,#b0d2e7 306.5px,#6dafd7 308.5px,#2a7ab9 310.5px,#2474b7 312.5px,#5fa6d1 314.5px,#a6cee4 316.5px,#a5cde3 318.5px,#69add5 320.5px,#4493c7 322.5px,#5aa2cf 324.5px,#8fc2de 326.5px,#a3cce3 328.5px,#8abfdd 330.5px,#6fb0d7 332.5px,#7db8da 334.5px,#a4cce3 336.5px,#aacfe5 338.5px,#74b3d8 340.5px,#2f7fbc 342.5px,#1d6cb1 344.5px,#539ecd 346.5px,#bad6eb 348.5px,#d9e8f5 350.5px,#c6dbef 352.5px,#63a8d3 354.5px,#206fb4 356.5px,#2575b7 358.5px,#69add5 360.5px,#b2d2e8 362.5px,#bcd7eb 364.5px,#92c4de 366.5px,#4d99ca 368.5px,#3080bd 370.5px,#4896c8 372.5px,#8dc1dd 374.5px,#bdd7ec 376.5px,#bcd7eb 378.5px,#94c4df 380.5px,#60a7d2 382.5px,#5aa2cf 384.5px,#7ab6d9 386.5px,#9fcae1 388.5px,#9fcae1 390.5px,#7fb9da 392.5px,#61a7d2 394.5px,#61a7d2 396.5px,#7db8da 398.5px,#99c7e0 400.5px,#95c5df 402.5px,#66abd4 406.5px,#64a9d3 408.5px,#72b2d8 412.5px,#64a9d3 419.5px,#75b4d8 427.5px,#5ca4d0 439.5px,#61a7d2 449.5px,#6caed6 458.5px,#4e9acb 471.5px,#63a8d3 487.5px,#7db8da 496.5px,#7db8da 507.5px,#7cb7da 512.5px,#74b3d8 519.5px,#85bcdc 534.5px,#7ab6d9 542.5px,#8abfdd 547.5px,#a6cee4 553.5px,#add0e6 559.5px)"></div><div style="top:184px;height:2px;background:linear-gradient(90deg,#68acd5 0.5px,#68acd5 21.5px,#66aad4 43.5px,#5ea5d1 60.5px,#4997c9 69.5px,#56a0ce 79.5px,#71b1d7 88.5px,#7ab6d9 106.5px,#7ab6d9 114.5px,#6aaed6 122.5px,#6aadd5 130.5px,#66aad4 136.5px,#76b4d8 141.5px,#99c7e0 147.5px,#99c7e0 149.5px,#85bcdc 151.5px,#68acd5 153.5px,#5fa6d1 155.5px,#73b2d8 157.5px,#9ac8e0 159.5px,#afd1e7 161.5px,#abcfe5 163.5px,#85bcdc 165.5px,#559fcd 167.5px,#4896c8 169.5px,#65aad4 171.5px,#95c5df 173.5px,#a4cde3 175.5px,#8ec1de 177.5px,#6dafd6 179.5px,#67abd4 181.5px,#75b3d8 183.5px,#68acd5 185.5px,#3a8ac2 187.5px,#1a68ae 189.5px,#2c7cba 191.5px,#74b3d8 193.5px,#bed8ec 195.5px,#cee1f2 197.5px,#c2d9ee 199.5px,#86bddc 202.5px,#3d8dc3 206.5px,#1765ab 208.5px,#09529d 210.5px,#206fb4 212.5px,#5ea5d1 214.5px,#a6cee4 216.5px,#c5dbef 218.5px,#bed7ec 220.5px,#90c2de 222.5px,#56a0ce 224.5px,#4c99ca 226.5px,#75b4d8 228.5px,#aacfe5 230.5px,#aed1e7 232.5px,#84bcdb 234.5px,#5fa6d1 236.5px,#71b2d7 238.5px,#a9cfe5 240.5px,#bfd8ed 242.5px,#a8cee4 244.5px,#74b3d8 246.5px,#68acd5 248.5px,#8fc2de 250.5px,#b3d3e8 252.5px,#a9cfe5 254.5px,#5ca4d0 257.5px,#549ecd 259.5px,#7db8da 261.5px,#b3d3e8 263.5px,#c7dcef 265.5px,#bad6eb 267.5px,#89bfdd 269.5px,#3b8bc2 271.5px,#084f99 273.5px,#08478d 275.5px,#3989c1 277.5px,#acd0e6 279.5px,#d7e6f5 281.5px,#cde0f1 283.5px,#96c6df 285.5px,#67abd4 287.5px,#7eb9da 289.5px,#b5d4e9 291.5px,#c9ddf0 293.5px,#abd0e6 295.5px,#58a1cf 297.5px,#2979b9 299.5px,#3989c1 301.5px,#81badb 303.5px,#b0d2e7 305.5px,#94c4df 307.5px,#4191c6 309.5px,#1e6db2 311.5px,#3a8ac2 313.5px,#87bddc 315.5px,#acd0e6 317.5px,#89bfdd 319.5px,#4f9bcb 321.5px,#4695c8 323.5px,#71b1d7 325.5px,#9ecae1 327.5px,#99c7e0 329.5px,#79b5d9 331.5px,#70b1d7 333.5px,#91c3de 335.5px,#abd0e6 337.5px,#99c7e0 339.5px,#4e9acb 341.5px,#1f6eb3 343.5px,#2f7fbc 345.5px,#88bedc 347.5px,#d0e1f2 349.5px,#d3e4f3 351.5px,#9ac8e0 353.5px,#3686c0 355.5px,#1b69af 357.5px,#4191c6 359.5px,#97c6df 361.5px,#bed8ec 363.5px,#aed1e7 365.5px,#6fb0d7 367.5px,#3a8ac2 369.5px,#3787c0 371.5px,#68acd5 373.5px,#add0e6 375.5px,#c2d9ee 377.5px,#abcfe5 379.5px,#75b3d8 381.5px,#57a0ce 383.5px,#65aad4 385.5px,#8dc0dd 387.5px,#9fcbe1 389.5px,#8dc1dd 391.5px,#68acd5 393.5px,#58a1cf 395.5px,#66abd4 397.5px,#91c3de 400.5px,#8fc2de 402.5px,#65aad3 406.5px,#64a9d3 408.5px,#75b3d8 412.5px,#64a9d3 419.5px,#73b2d8 427.5px,#59a2cf 439.5px,#5da5d1 449.5px,#6aadd5 457.5px,#59a2cf 465.5px,#4c99ca 472.5px,#61a7d2 488.5px,#79b5d9 497.5px,#80b9da 511.5px,#71b2d7 518.5px,#85bcdc 532.5px,#89bfdd 537.5px,#81badb 544.5px,#96c6df 549.5px,#afd1e7 555.5px,#b3d3e9 559.5px)"></div><div style="top:186px;height:2px;background:linear-gradient(90deg,#63a8d3 0.5px,#67abd4 27.5px,#67abd4 38.5px,#62a8d2 49.5px,#56a0ce 62.5px,#4695c7 69.5px,#58a1cf 79.5px,#71b2d7 87.5px,#72b2d8 99.5px,#84bcdb 112.5px,#68acd5 123.5px,#64a9d3 136.5px,#7ab6d9 142.5px,#93c4df 147.5px,#91c3de 149.5px,#7eb9da 151.5px,#63a9d3 153.5px,#5ba3d0 155.5px,#6fb0d7 157.5px,#97c6df 159.5px,#add0e6 161.5px,#aacfe5 163.5px,#87bddc 165.5px,#57a0ce 167.5px,#4997c9 169.5px,#65aad3 171.5px,#93c4df 173.5px,#a2cce2 175.5px,#8bc0dd 177.5px,#6aaed6 179.5px,#66aad4 181.5px,#74b3d8 183.5px,#69add5 185.5px,#3c8cc3 187.5px,#1d6cb1 189.5px,#3080bd 191.5px,#79b6d9 193.5px,#c1d9ed 195.5px,#d0e2f2 197.5px,#c5dbef 199.5px,#7cb7da 203.5px,#4594c7 206.5px,#1e6db2 208.5px,#0f5aa3 210.5px,#2676b8 212.5px,#65aad4 214.5px,#abcfe5 216.5px,#c7dcef 218.5px,#bfd8ed 220.5px,#92c4de 222.5px,#58a1cf 224.5px,#4d9aca 226.5px,#75b4d8 228.5px,#a8cee5 230.5px,#add0e6 232.5px,#83bbdb 234.5px,#5da5d1 236.5px,#6eb0d7 238.5px,#a5cde3 240.5px,#bad6eb 242.5px,#a1cbe2 244.5px,#6dafd7 246.5px,#63a8d3 248.5px,#89bedc 250.5px,#aed1e7 252.5px,#a5cde3 254.5px,#5ca3d0 257.5px,#549fcd 259.5px,#7fb9da 261.5px,#b2d3e8 263.5px,#c7dbef 265.5px,#bad6eb 267.5px,#8dc0dd 269.5px,#4090c5 271.5px,#0c57a0 273.5px,#084f99 275.5px,#4090c5 277.5px,#b2d2e8 279.5px,#d8e7f5 281.5px,#cde0f1 283.5px,#97c6df 285.5px,#66abd4 287.5px,#7db8da 289.5px,#b2d2e8 291.5px,#c7dcef 293.5px,#a9cfe5 295.5px,#5aa2cf 297.5px,#2979b9 299.5px,#3989c1 301.5px,#7db8da 303.5px,#abd0e6 305.5px,#8ec1de 307.5px,#3f8fc5 309.5px,#1c6bb0 311.5px,#3989c1 313.5px,#85bcdc 315.5px,#abd0e6 317.5px,#89bedc 319.5px,#509ccb 321.5px,#4795c8 323.5px,#71b1d7 325.5px,#9dc9e1 327.5px,#98c7e0 329.5px,#77b5d9 331.5px,#6eb0d7 333.5px,#8ec1de 335.5px,#a9cfe5 337.5px,#96c6df 339.5px,#4d9aca 341.5px,#1e6db2 343.5px,#2d7dbb 345.5px,#82bbdb 347.5px,#cbdff1 349.5px,#cfe1f2 351.5px,#94c4df 353.5px,#3484bf 355.5px,#1a68ae 357.5px,#4191c5 359.5px,#96c6df 361.5px,#bdd7ec 363.5px,#aed1e7 365.5px,#73b2d8 367.5px,#3e8ec4 369.5px,#3c8cc3 371.5px,#6dafd7 373.5px,#aed1e7 375.5px,#c2d9ee 377.5px,#abcfe5 379.5px,#75b4d8 381.5px,#58a1ce 383.5px,#66aad4 385.5px,#8dc0dd 387.5px,#9fcae1 389.5px,#8bc0dd 391.5px,#66aad4 393.5px,#549fcd 395.5px,#61a7d2 397.5px,#89bedc 400.5px,#87bddc 402.5px,#63a8d3 406.5px,#69add5 409.5px,#78b5d9 412.5px,#65aad3 418.5px,#71b1d7 427.5px,#56a0ce 440.5px,#57a0ce 448.5px,#67abd4 457.5px,#4a98c9 474.5px,#5aa3cf 487.5px,#76b4d8 499.5px,#85bcdc 510.5px,#6eb0d7 519.5px,#80b9da 530.5px,#91c3de 536.5px,#86bddc 545.5px,#97c6df 549.5px,#b3d3e8 555.5px,#b9d6ea 559.5px)"></div><div style="top:188px;height:2px;background:linear-gradient(90deg,#5ea5d1 0.5px,#66abd4 19.5px,#66aad4 27.5px,#60a7d2 35.5px,#68acd5 46.5px,#58a1cf 56.5px,#529dcc 63.5px,#4795c8 69.5px,#6aaed6 83.5px,#74b3d8 88.5px,#71b1d7 99.5px,#89bedc 110.5px,#83bbdb 115.5px,#68acd5 123.5px,#63a9d3 135.5px,#7db8da 143.5px,#8bc0dd 148.5px,#7fb9da 150.5px,#5ba3d0 153.5px,#549ecd 155.5px,#68acd5 157.5px,#a1cbe2 160.5px,#abd0e6 162.5px,#9bc8e0 164.5px,#57a0ce 167.5px,#4896c8 169.5px,#62a8d2 171.5px,#8fc2de 173.5px,#9ecae1 175.5px,#88bedc 177.5px,#68acd5 179.5px,#65aad3 181.5px,#73b2d8 183.5px,#69add5 185.5px,#3e8ec4 187.5px,#1f6fb3 189.5px,#3383be 191.5px,#7db8da 193.5px,#c3daee 195.5px,#d1e2f3 197.5px,#c7dbef 199.5px,#6fb0d7 204.5px,#4b98c9 206.5px,#2272b6 208.5px,#135fa7 210.5px,#2b7bba 212.5px,#68acd5 214.5px,#abd0e6 216.5px,#c6dbef 218.5px,#bdd7ec 220.5px,#8fc2de 222.5px,#56a0ce 224.5px,#4b98ca 226.5px,#72b2d8 228.5px,#a5cde3 230.5px,#a9cfe5 232.5px,#80b9da 234.5px,#5ca3d0 236.5px,#6aaed6 238.5px,#a0cbe2 240.5px,#b3d3e9 242.5px,#99c7e0 244.5px,#66abd4 246.5px,#5ca4d0 248.5px,#81badb 250.5px,#a7cee4 252.5px,#a0cbe2 254.5px,#6dafd7 256.5px,#519ccc 258.5px,#64a9d3 260.5px,#9dcae1 262.5px,#bfd8ed 264.5px,#c4daee 266.5px,#aacfe5 268.5px,#6aaed6 270.5px,#2777b8 272.5px,#09529c 274.5px,#2070b4 276.5px,#80b9da 278.5px,#cee1f2 280.5px,#d6e6f4 282.5px,#b4d3e9 284.5px,#72b2d8 286.5px,#64a9d3 288.5px,#93c4df 290.5px,#bcd7ec 292.5px,#bbd6eb 294.5px,#81badb 296.5px,#3a8ac2 298.5px,#2a7ab9 300.5px,#56a0ce 302.5px,#9bc8e0 304.5px,#a3cce3 306.5px,#63a8d3 308.5px,#2676b8 310.5px,#2373b6 312.5px,#5ca4d0 314.5px,#a3cce3 316.5px,#a3cce3 318.5px,#6aadd5 320.5px,#4795c8 322.5px,#5ba3d0 324.5px,#8dc0dd 326.5px,#9fcae1 328.5px,#86bddc 330.5px,#6baed6 332.5px,#78b5d9 334.5px,#9dcae1 336.5px,#a3cce3 338.5px,#6eb0d7 340.5px,#2d7dbb 342.5px,#1b69af 344.5px,#4a97c9 346.5px,#aacfe5 348.5px,#cde0f1 350.5px,#b5d4e9 352.5px,#59a2cf 354.5px,#1d6cb1 356.5px,#2676b8 358.5px,#68acd5 360.5px,#aed1e7 362.5px,#bad6eb 364.5px,#96c6df 366.5px,#58a1ce 368.5px,#3b8bc2 370.5px,#549fcd 372.5px,#98c7e0 374.5px,#bfd8ed 376.5px,#bcd7eb 378.5px,#95c5df 380.5px,#63a9d3 382.5px,#5da4d0 384.5px,#7db8da 386.5px,#9dc9e1 388.5px,#9ac8e0 390.5px,#79b6d9 392.5px,#5aa2cf 394.5px,#57a0ce 396.5px,#85bcdc 400.5px,#83bbdb 402.5px,#66abd4 405.5px,#61a7d2 407.5px,#7cb7da 412.5px,#66aad4 419.5px,#71b1d7 427.5px,#509ccb 445.5px,#65aad3 457.5px,#4a98c9 477.5px,#65aad4 492.5px,#85bcdc 509.5px,#79b5d9 514.5px,#6baed6 519.5px,#7bb7d9 529.5px,#93c4df 536.5px,#8bc0dd 542.5px,#89bfdd 546.5px,#b6d4e9 556.5px,#bad6eb 559.5px)"></div><div style="top:190px;height:2px;background:linear-gradient(90deg,#5ca4d0 0.5px,#61a7d2 14.5px,#69add5 24.5px,#59a2cf 34.5px,#67abd4 46.5px,#549fcd 56.5px,#4f9bcb 65.5px,#4d99ca 70.5px,#76b4d8 86.5px,#6fb0d7 98.5px,#8cc0dd 110.5px,#85bcdc 116.5px,#6aadd5 123.5px,#65aad4 134.5px,#81badb 147.5px,#7bb7d9 149.5px,#4b98ca 154.5px,#539dcc 156.5px,#71b2d7 158.5px,#98c7e0 160.5px,#a6cde4 162.5px,#95c5df 164.5px,#549fcd 167.5px,#4695c7 169.5px,#5fa6d1 171.5px,#8abfdd 173.5px,#99c7e0 175.5px,#85bcdc 177.5px,#67abd4 179.5px,#64a9d3 181.5px,#72b2d8 183.5px,#6aadd5 185.5px,#4090c5 187.5px,#2272b5 189.5px,#3585c0 191.5px,#7fb9da 193.5px,#c2d9ee 195.5px,#cfe1f2 197.5px,#c5dbef 199.5px,#70b1d7 204.5px,#4c99ca 206.5px,#2474b7 208.5px,#1561a9 210.5px,#2c7cba 212.5px,#68acd5 214.5px,#a9cfe5 216.5px,#c2d9ee 218.5px,#b7d5ea 220.5px,#89bedc 222.5px,#529dcc 224.5px,#4695c8 226.5px,#6baed6 228.5px,#9ecae1 230.5px,#a3cce3 232.5px,#7ab6d9 234.5px,#58a1cf 236.5px,#66abd4 238.5px,#99c7e0 240.5px,#acd0e6 242.5px,#91c3de 244.5px,#61a7d2 246.5px,#57a0ce 248.5px,#7ab6d9 250.5px,#a1cbe2 252.5px,#9ac8e0 254.5px,#6aadd5 256.5px,#509ccb 258.5px,#64a9d3 260.5px,#9cc9e1 262.5px,#bfd8ec 264.5px,#c3daee 266.5px,#aacfe5 268.5px,#6eb0d7 270.5px,#2c7cba 272.5px,#0d57a1 274.5px,#2474b6 276.5px,#82bbdb 278.5px,#cddff1 280.5px,#d2e3f3 282.5px,#add0e6 284.5px,#6aadd5 286.5px,#5da5d1 288.5px,#89bfdd 290.5px,#b5d4e9 292.5px,#b5d4e9 294.5px,#7db8da 296.5px,#3989c1 298.5px,#2b7bba 300.5px,#559fcd 302.5px,#98c7e0 304.5px,#a1cbe2 306.5px,#61a7d2 308.5px,#2676b8 310.5px,#2474b6 312.5px,#5ca4d0 314.5px,#a2cce2 316.5px,#a3cce3 318.5px,#6dafd6 320.5px,#4b98c9 322.5px,#5ea5d1 324.5px,#8ec1de 326.5px,#9fcae1 328.5px,#85bcdc 330.5px,#68acd5 332.5px,#74b3d8 334.5px,#97c6df 336.5px,#9cc9e1 338.5px,#68acd5 340.5px,#2a7ab9 342.5px,#1865ac 344.5px,#4393c6 346.5px,#a1cbe2 348.5px,#c8dcf0 350.5px,#aed1e7 352.5px,#56a0ce 354.5px,#1e6eb2 356.5px,#2878b9 358.5px,#69add5 360.5px,#add0e6 362.5px,#b7d4ea 364.5px,#95c5df 366.5px,#5aa2cf 368.5px,#3f8fc4 370.5px,#59a2cf 372.5px,#9cc9e1 374.5px,#c1d9ed 376.5px,#bdd7ec 378.5px,#98c7e0 380.5px,#68acd5 382.5px,#61a7d2 384.5px,#81badb 386.5px,#9fcbe1 388.5px,#9dc9e1 390.5px,#68acd5 393.5px,#56a0ce 395.5px,#61a7d2 397.5px,#84bcdb 400.5px,#83bbdb 402.5px,#64a9d3 406.5px,#67abd4 408.5px,#80b9da 412.5px,#73b2d8 416.5px,#68acd5 420.5px,#6dafd7 429.5px,#4d9aca 446.5px,#5ca3d0 452.5px,#64a9d3 458.5px,#4b98c9 478.5px,#7db8da 505.5px,#7fb9da 511.5px,#67abd4 519.5px,#78b5d9 529.5px,#91c3de 537.5px,#87bddc 546.5px,#9cc9e1 551.5px,#b4d3e9 557.5px,#b7d4ea 559.5px)"></div><div style="top:192px;height:2px;background:linear-gradient(90deg,#5fa6d1 0.5px,#61a7d2 13.5px,#6aaed6 22.5px,#539ecd 34.5px,#63a8d3 46.5px,#4f9bcb 56.5px,#519ccc 65.5px,#539ecd 71.5px,#76b4d8 83.5px,#70b1d7 91.5px,#6fb0d7 99.5px,#8fc2de 111.5px,#89bedc 116.5px,#6caed6 124.5px,#6caed6 135.5px,#79b5d9 146.5px,#70b1d7 149.5px,#4393c6 154.5px,#4b98c9 156.5px,#68acd5 158.5px,#8ec1de 160.5px,#9dc9e1 162.5px,#8dc0dd 164.5px,#519ccc 167.5px,#4493c7 169.5px,#5da4d0 171.5px,#85bcdc 173.5px,#95c5df 175.5px,#81badb 177.5px,#65aad3 179.5px,#62a8d2 181.5px,#71b2d7 183.5px,#6aaed6 185.5px,#3080bd 188.5px,#2979b9 190.5px,#57a0ce 192.5px,#a7cee4 194.5px,#cbdef1 196.5px,#cadef0 198.5px,#b1d2e8 200.5px,#4b98ca 206.5px,#2474b7 208.5px,#1562a9 210.5px,#2c7cba 212.5px,#66aad4 214.5px,#a4cce3 216.5px,#bbd6eb 218.5px,#b1d2e8 220.5px,#81badb 222.5px,#4d99ca 224.5px,#4292c6 226.5px,#64a9d3 228.5px,#95c5df 230.5px,#9cc9e1 232.5px,#74b3d8 234.5px,#549fcd 236.5px,#63a8d3 238.5px,#92c4de 240.5px,#a4cde3 242.5px,#89bedc 244.5px,#5ca4d0 246.5px,#549ecd 248.5px,#75b3d8 250.5px,#9dc9e1 252.5px,#95c5df 254.5px,#68acd5 256.5px,#509ccb 258.5px,#64a9d3 260.5px,#9cc9e1 262.5px,#bed7ec 264.5px,#c1d9ed 266.5px,#a9cfe5 268.5px,#6fb0d7 270.5px,#2f7fbc 272.5px,#105ba4 274.5px,#2575b7 276.5px,#7fb9da 278.5px,#c8ddf0 280.5px,#cde0f1 282.5px,#a5cde3 284.5px,#62a8d2 286.5px,#56a0ce 288.5px,#80b9da 290.5px,#acd0e6 292.5px,#add0e6 294.5px,#77b5d9 296.5px,#3888c1 298.5px,#2a7ab9 300.5px,#549ecd 302.5px,#95c5df 304.5px,#9dc9e1 306.5px,#60a7d2 308.5px,#2777b8 310.5px,#2474b7 312.5px,#5ca3d0 314.5px,#9fcbe1 316.5px,#a2cce2 318.5px,#58a1cf 321.5px,#519ccc 323.5px,#78b5d9 325.5px,#9cc9e1 327.5px,#93c4df 329.5px,#70b1d7 331.5px,#65aad4 333.5px,#7eb9da 335.5px,#96c6df 337.5px,#80b9da 339.5px,#4090c5 341.5px,#1764ab 343.5px,#2070b4 345.5px,#66aad4 347.5px,#b3d3e8 349.5px,#bcd7ec 351.5px,#81badb 353.5px,#3484bf 355.5px,#1e6eb2 357.5px,#4695c8 359.5px,#94c4df 361.5px,#b5d4e9 363.5px,#a8cee4 365.5px,#73b2d8 367.5px,#4695c8 369.5px,#4695c8 371.5px,#79b5d9 373.5px,#b2d2e8 375.5px,#c3daee 377.5px,#aed1e7 379.5px,#6caed6 382.5px,#66abd4 384.5px,#86bddc 386.5px,#a2cce2 388.5px,#9fcae1 390.5px,#80b9da 392.5px,#5fa6d1 394.5px,#5ca4d0 396.5px,#89bedc 400.5px,#87bddc 402.5px,#68acd5 406.5px,#6baed6 408.5px,#83bbdb 412.5px,#7db8da 415.5px,#6aadd5 420.5px,#6aadd5 431.5px,#4b98c9 446.5px,#65aad4 457.5px,#4d9aca 479.5px,#6baed6 493.5px,#77b5d9 502.5px,#75b3d8 512.5px,#65aad3 519.5px,#75b4d8 530.5px,#89bfdd 538.5px,#81badb 546.5px,#93c4df 551.5px,#add0e6 557.5px,#b0d2e7 559.5px)"></div><div style="top:194px;height:2px;background:linear-gradient(90deg,#65aad3 0.5px,#61a7d2 11.5px,#6aaed6 22.5px,#509ccb 34.5px,#5ba3d0 46.5px,#4997c9 55.5px,#519ccc 66.5px,#5aa3cf 72.5px,#77b5d9 82.5px,#6baed6 96.5px,#79b5d9 103.5px,#91c3de 111.5px,#8dc0dd 116.5px,#71b1d7 125.5px,#72b2d8 146.5px,#68acd5 149.5px,#4393c6 153.5px,#3f8fc4 155.5px,#539dcc 157.5px,#85bcdc 160.5px,#95c5df 162.5px,#85bcdc 164.5px,#4f9bcb 167.5px,#4292c6 169.5px,#5ba3d0 171.5px,#81badb 173.5px,#90c2de 175.5px,#7db8da 177.5px,#62a8d2 179.5px,#61a7d2 181.5px,#74b3d8 184.5px,#5ca3d0 186.5px,#3484bf 188.5px,#2c7cbb 190.5px,#59a2cf 192.5px,#a6cde4 194.5px,#c8dcf0 196.5px,#c7dbef 198.5px,#9cc9e1 201.5px,#4a98c9 206.5px,#2575b7 208.5px,#1663aa 210.5px,#2c7cba 212.5px,#63a9d3 214.5px,#9fcae1 216.5px,#b5d4e9 218.5px,#aacfe5 220.5px,#7bb7d9 222.5px,#4a97c9 224.5px,#3f8fc4 226.5px,#5fa6d1 228.5px,#8cc0dd 230.5px,#93c4df 232.5px,#6dafd7 234.5px,#519ccc 236.5px,#5ea5d1 238.5px,#8abfdd 240.5px,#9ecae1 242.5px,#82bbdb 244.5px,#59a2cf 246.5px,#529dcc 248.5px,#72b2d8 250.5px,#99c7e0 252.5px,#93c4df 254.5px,#68acd5 256.5px,#519ccc 258.5px,#65aad4 260.5px,#99c7e0 262.5px,#bad6eb 264.5px,#bdd7ec 266.5px,#a6cde4 268.5px,#6dafd6 270.5px,#2f7fbc 272.5px,#105ba4 274.5px,#2474b6 276.5px,#76b4d8 278.5px,#bfd8ed 280.5px,#c6dbef 282.5px,#9ac8e0 284.5px,#5ca3d0 286.5px,#519ccc 288.5px,#76b4d8 290.5px,#a3cce3 292.5px,#a4cde3 294.5px,#71b1d7 296.5px,#3686c0 298.5px,#2979b9 300.5px,#529dcc 302.5px,#90c2de 304.5px,#99c7e0 306.5px,#5ea5d1 308.5px,#2777b8 310.5px,#2474b7 312.5px,#59a2cf 314.5px,#9ac8e0 316.5px,#9ecae1 318.5px,#6dafd6 320.5px,#4f9bcb 322.5px,#61a7d2 324.5px,#8dc0dd 326.5px,#99c7e0 328.5px,#7db8da 330.5px,#62a8d2 332.5px,#68acd5 334.5px,#85bcdc 336.5px,#89bfdd 338.5px,#5ba3d0 340.5px,#2272b5 342.5px,#135fa7 344.5px,#3989c1 346.5px,#8bc0dd 348.5px,#b7d5ea 350.5px,#a3cce3 352.5px,#56a0ce 354.5px,#2474b7 356.5px,#3080bd 358.5px,#6eb0d7 360.5px,#aacfe5 362.5px,#b0d2e7 364.5px,#8dc0dd 366.5px,#56a0ce 368.5px,#3f8fc4 370.5px,#58a1cf 372.5px,#95c5df 374.5px,#bad6eb 376.5px,#b9d6ea 378.5px,#99c7e0 380.5px,#6fb0d7 382.5px,#6aadd5 384.5px,#99c7e0 387.5px,#a5cde3 389.5px,#94c4df 391.5px,#70b1d7 393.5px,#5fa6d1 395.5px,#6aaed6 397.5px,#90c2de 400.5px,#8ec1de 402.5px,#6fb0d7 406.5px,#71b1d7 408.5px,#86bddc 412.5px,#7bb7d9 416.5px,#6aadd5 421.5px,#63a8d3 435.5px,#4997c9 446.5px,#5ba3d0 452.5px,#67abd4 457.5px,#529dcc 479.5px,#70b1d7 494.5px,#75b4d8 502.5px,#63a8d3 520.5px,#7db8da 540.5px,#7db8da 548.5px,#a4cce3 557.5px,#a6cee4 559.5px)"></div><div style="top:196px;height:2px;background:linear-gradient(90deg,#6aaed6 0.5px,#65aad4 11.5px,#6eb0d7 20.5px,#509ccb 35.5px,#529dcc 46.5px,#4392c6 55.5px,#58a1cf 71.5px,#76b4d8 81.5px,#66abd4 93.5px,#70b1d7 101.5px,#92c4de 112.5px,#8ec1de 117.5px,#75b3d8 126.5px,#6baed6 147.5px,#5da5d1 150.5px,#4191c6 153.5px,#3e8ec4 155.5px,#519ccc 157.5px,#80b9da 160.5px,#8ec1de 162.5px,#81badb 164.5px,#4f9bcb 167.5px,#4494c7 169.5px,#5ca3d0 171.5px,#7fb9da 173.5px,#8dc0dd 175.5px,#79b6d9 177.5px,#61a7d2 179.5px,#5fa6d1 181.5px,#74b3d8 184.5px,#5ea5d1 186.5px,#3888c1 188.5px,#3181bd 190.5px,#5da4d0 192.5px,#a4cce3 194.5px,#c4daee 196.5px,#c2d9ee 198.5px,#98c7e0 201.5px,#4c99ca 206.5px,#2777b8 208.5px,#1866ac 210.5px,#2e7ebc 212.5px,#63a8d3 214.5px,#9ac8e0 216.5px,#b0d2e7 218.5px,#a6cee4 220.5px,#78b5d9 222.5px,#4a97c9 224.5px,#3f8fc4 226.5px,#5ca4d0 228.5px,#85bcdc 230.5px,#8cc0dd 232.5px,#59a2cf 235.5px,#509ccb 237.5px,#6dafd7 239.5px,#93c4df 241.5px,#8dc1dd 243.5px,#58a1ce 246.5px,#529dcc 248.5px,#72b2d8 250.5px,#98c7e0 252.5px,#92c4de 254.5px,#5aa3cf 257.5px,#58a1ce 259.5px,#7db8da 261.5px,#a8cee5 263.5px,#b9d5ea 265.5px,#add0e6 267.5px,#85bcdc 269.5px,#4997c9 271.5px,#1967ad 273.5px,#125ea6 275.5px,#4191c6 277.5px,#9ac8e0 279.5px,#bed7ec 281.5px,#a9cfe5 283.5px,#6baed6 285.5px,#4a97c9 287.5px,#5aa2cf 289.5px,#9cc9e1 292.5px,#9dcae1 294.5px,#6baed6 296.5px,#3585bf 298.5px,#2979b9 300.5px,#519ccc 302.5px,#8bc0dd 304.5px,#93c4df 306.5px,#5ca4d0 308.5px,#2777b8 310.5px,#2474b7 312.5px,#57a0ce 314.5px,#95c5df 316.5px,#99c7e0 318.5px,#6caed6 320.5px,#509ccb 322.5px,#61a7d2 324.5px,#89bfdd 326.5px,#94c4df 328.5px,#78b5d9 330.5px,#5da5d1 332.5px,#63a8d3 334.5px,#83bbdb 337.5px,#6eb0d7 339.5px,#3989c1 341.5px,#1360a7 343.5px,#1c6bb0 345.5px,#5aa2cf 347.5px,#a3cce3 349.5px,#add0e6 351.5px,#7bb7d9 353.5px,#3989c1 355.5px,#2676b8 357.5px,#4f9bcb 359.5px,#95c5df 361.5px,#b0d2e7 363.5px,#a0cbe2 365.5px,#549ecd 368.5px,#3c8cc3 370.5px,#539dcc 372.5px,#a4cce3 375.5px,#b5d4e9 377.5px,#a7cee4 379.5px,#6fb0d7 382.5px,#6caed6 384.5px,#99c7e0 387.5px,#a4cce3 389.5px,#95c5df 391.5px,#69add5 394.5px,#68acd5 396.5px,#90c2de 399.5px,#9bc8e0 401.5px,#90c2de 403.5px,#75b4d8 406.5px,#7bb7d9 409.5px,#87bddc 412.5px,#81badb 415.5px,#6aaed6 421.5px,#5ba3d0 438.5px,#4997c9 446.5px,#68acd5 457.5px,#57a0ce 480.5px,#77b5d9 498.5px,#62a8d2 515.5px,#68acd5 530.5px,#72b2d8 544.5px,#7ab6d9 550.5px,#9cc9e1 558.5px,#9dc9e1 559.5px)"></div><div style="top:198px;height:1px;background:linear-gradient(90deg,#6dafd7 0.5px,#69add5 11.5px,#71b1d7 19.5px,#529dcc 35.5px,#4e9acb 45.5px,#4090c5 55.5px,#58a1cf 71.5px,#74b3d8 81.5px,#63a8d3 91.5px,#6caed6 100.5px,#94c4df 113.5px,#8cc0dd 118.5px,#75b4d8 127.5px,#68acd5 148.5px,#549fcd 151.5px,#4292c6 153.5px,#3f8fc5 155.5px,#529dcc 157.5px,#7fb9da 160.5px,#8dc1dd 162.5px,#81badb 164.5px,#529dcc 167.5px,#4896c8 169.5px,#5da5d1 171.5px,#7fb9da 173.5px,#8abfdd 175.5px,#77b5d9 177.5px,#60a7d2 179.5px,#5fa6d1 181.5px,#74b3d8 184.5px,#60a7d2 186.5px,#3b8bc2 188.5px,#3484bf 190.5px,#5fa6d1 192.5px,#a3cce3 194.5px,#c2d9ee 196.5px,#bed8ec 198.5px,#6aaed6 204.5px,#4e9acb 206.5px,#1f6eb3 209.5px,#2070b4 211.5px,#4896c8 213.5px,#99c7e0 216.5px,#aed1e7 218.5px,#a4cce3 220.5px,#77b5d9 222.5px,#4b98ca 224.5px,#4090c5 226.5px,#5ba3d0 228.5px,#81badb 230.5px,#87bddc 232.5px,#57a0ce 235.5px,#4e9acb 237.5px,#6aaed6 239.5px,#8dc1dd 241.5px,#89bedc 243.5px,#57a0ce 246.5px,#539ecd 248.5px,#72b2d8 250.5px,#97c6df 252.5px,#92c4de 254.5px,#6aaed6 256.5px,#549fcd 258.5px,#65aad4 260.5px,#a3cce3 263.5px,#b0d2e7 265.5px,#a5cde3 267.5px,#7db8da 269.5px,#4594c7 271.5px,#1865ac 273.5px,#125da6 275.5px,#3e8ec4 277.5px,#91c3de 279.5px,#b4d3e9 281.5px,#a1cbe2 283.5px,#66abd4 285.5px,#4695c8 287.5px,#57a0ce 289.5px,#95c5df 292.5px,#97c6df 294.5px,#69add5 296.5px,#3585bf 298.5px,#2a7ab9 300.5px,#519ccc 302.5px,#89bedc 304.5px,#91c3de 306.5px,#5ba3d0 308.5px,#2777b8 310.5px,#2575b7 312.5px,#56a0ce 314.5px,#92c4de 316.5px,#97c6df 318.5px,#5aa2cf 321.5px,#549fcd 323.5px,#74b3d8 325.5px,#91c3de 327.5px,#85bcdc 329.5px,#64a9d3 331.5px,#58a1cf 333.5px,#7cb7da 337.5px,#69add5 339.5px,#3787c0 341.5px,#135fa7 343.5px,#1c6bb0 345.5px,#57a0ce 347.5px,#9dcae1 349.5px,#a9cfe5 351.5px,#79b5d9 353.5px,#3989c1 355.5px,#2979b9 357.5px,#519ccc 359.5px,#94c4df 361.5px,#add0e6 363.5px,#9dcae1 365.5px,#529dcc 368.5px,#3a8ac2 370.5px,#4d99ca 372.5px,#9ac8e0 375.5px,#aed1e7 377.5px,#a1cbe2 379.5px,#6dafd7 382.5px,#6caed6 384.5px,#97c6df 387.5px,#a3cce3 389.5px,#95c5df 391.5px,#6dafd7 394.5px,#6fb0d7 396.5px,#97c6df 399.5px,#a0cbe2 401.5px,#95c5df 403.5px,#7ab6d9 406.5px,#79b5d9 408.5px,#87bddc 412.5px,#7db8da 416.5px,#6aaed6 422.5px,#56a0ce 440.5px,#4b98ca 447.5px,#69add5 456.5px,#5aa2cf 481.5px,#79b5d9 498.5px,#6aaed6 505.5px,#61a7d2 513.5px,#69add5 526.5px,#63a8d3 534.5px,#6fb0d7 545.5px,#77b5d9 551.5px,#94c4df 558.5px,#94c4df 559.5px)"></div><div style="top:199px;height:1px;background:linear-gradient(90deg,#6fb0d7 0.5px,#69add5 10.5px,#72b2d8 19.5px,#549fcd 34.5px,#4d99ca 44.5px,#3f8fc5 54.5px,#549fcd 70.5px,#71b1d7 80.5px,#65aad4 87.5px,#60a7d2 93.5px,#71b1d7 102.5px,#92c4de 113.5px,#8fc2de 117.5px,#77b5d9 127.5px,#6aaed6 143.5px,#68acd5 148.5px,#4d99ca 152.5px,#4191c6 154.5px,#4896c8 156.5px,#89bedc 161.5px,#8cc0dd 163.5px,#72b2d8 165.5px,#549fcd 167.5px,#4b98ca 169.5px,#60a7d2 171.5px,#81badb 173.5px,#8abfdd 175.5px,#77b5d9 177.5px,#60a7d2 179.5px,#60a7d2 181.5px,#74b3d8 184.5px,#61a7d2 186.5px,#3d8dc4 188.5px,#3686c0 190.5px,#60a7d2 192.5px,#a3cce3 194.5px,#bfd8ed 196.5px,#bcd7eb 198.5px,#94c4df 201.5px,#529dcc 206.5px,#2171b5 209.5px,#2373b6 211.5px,#4a98c9 213.5px,#97c6df 216.5px,#add0e6 218.5px,#a3cce3 220.5px,#79b5d9 222.5px,#4d99ca 224.5px,#4191c6 226.5px,#5ba3d0 228.5px,#7fb9da 230.5px,#84bcdb 232.5px,#56a0ce 235.5px,#4e9acb 237.5px,#69add5 239.5px,#8abfdd 241.5px,#87bddc 243.5px,#57a0ce 246.5px,#539ecd 248.5px,#72b2d8 250.5px,#95c5df 252.5px,#92c4de 254.5px,#5ca4d0 257.5px,#58a1cf 259.5px,#77b5d9 261.5px,#9fcae1 263.5px,#aacfe5 265.5px,#9fcae1 267.5px,#75b4d8 269.5px,#4292c6 271.5px,#1865ac 273.5px,#115ca5 275.5px,#3c8cc3 277.5px,#8abfdd 279.5px,#aed1e7 281.5px,#9cc9e1 283.5px,#64a9d3 285.5px,#4695c8 287.5px,#56a0ce 289.5px,#92c4de 292.5px,#94c4df 294.5px,#68acd5 296.5px,#3686c0 298.5px,#2b7bba 300.5px,#519ccc 302.5px,#87bddc 304.5px,#8fc2de 306.5px,#5ba3d0 308.5px,#2979b9 310.5px,#2676b8 312.5px,#56a0ce 314.5px,#91c3de 316.5px,#95c5df 318.5px,#5ba3d0 321.5px,#549fcd 323.5px,#85bcdc 326.5px,#8dc1dd 328.5px,#61a7d2 331.5px,#56a0ce 333.5px,#77b5d9 337.5px,#66abd4 339.5px,#3686c0 341.5px,#1460a8 343.5px,#1c6bb0 345.5px,#56a0ce 347.5px,#9ac8e0 349.5px,#a5cde3 351.5px,#77b5d9 353.5px,#3a8ac2 355.5px,#2a7ab9 357.5px,#519ccc 359.5px,#92c4de 361.5px,#abd0e6 363.5px,#9ac8e0 365.5px,#519ccc 368.5px,#3989c1 370.5px,#4a98c9 372.5px,#92c4de 375.5px,#a6cee4 377.5px,#9cc9e1 379.5px,#6caed6 382.5px,#6aaed6 384.5px,#95c5df 387.5px,#a1cbe2 389.5px,#95c5df 391.5px,#71b1d7 394.5px,#74b3d8 396.5px,#9ac8e0 399.5px,#a3cce3 401.5px,#99c7e0 403.5px,#7cb7da 406.5px,#7cb7da 409.5px,#85bcdc 413.5px,#69add5 423.5px,#549fcd 441.5px,#4e9acb 447.5px,#69add5 456.5px,#5ca4d0 482.5px,#7ab6d9 498.5px,#6dafd7 504.5px,#61a7d2 511.5px,#69add5 521.5px,#68acd5 527.5px,#5fa6d1 534.5px,#6dafd7 545.5px,#74b3d8 551.5px,#8dc1dd 558.5px,#8fc2de 559.5px)"></div><div style="top:200px;height:1px;background:linear-gradient(90deg,#6fb0d7 0.5px,#6aaed6 11.5px,#74b3d8 18.5px,#56a0ce 35.5px,#4a98c9 45.5px,#3e8ec4 53.5px,#529dcc 69.5px,#6dafd7 80.5px,#64a9d3 86.5px,#5da5d1 92.5px,#72b2d8 103.5px,#92c4de 113.5px,#8dc1dd 118.5px,#72b2d8 130.5px,#69add5 141.5px,#69add5 148.5px,#58a1cf 151.5px,#4493c7 154.5px,#4b98ca 156.5px,#8cc0dd 161.5px,#8dc1dd 163.5px,#75b4d8 165.5px,#58a1cf 167.5px,#4e9acb 169.5px,#63a8d3 171.5px,#81badb 173.5px,#8abfdd 175.5px,#77b5d9 177.5px,#60a7d2 179.5px,#60a7d2 181.5px,#75b4d8 184.5px,#64a9d3 186.5px,#3f8fc5 188.5px,#3888c1 190.5px,#60a7d2 192.5px,#a1cbe2 194.5px,#bdd7ec 196.5px,#bad6eb 198.5px,#63a8d3 205.5px,#4292c6 207.5px,#2575b7 209.5px,#2777b8 211.5px,#4d99ca 213.5px,#97c6df 216.5px,#abd0e6 218.5px,#a3cce3 220.5px,#79b5d9 222.5px,#4e9acb 224.5px,#4292c6 226.5px,#5ba3d0 228.5px,#7db8da 230.5px,#82bbdb 232.5px,#56a0ce 235.5px,#4d99ca 237.5px,#68acd5 239.5px,#89bedc 241.5px,#84bcdb 243.5px,#57a0ce 246.5px,#539ecd 248.5px,#71b1d7 250.5px,#94c4df 252.5px,#91c3de 254.5px,#5da5d1 257.5px,#58a1cf 259.5px,#74b3d8 261.5px,#99c7e0 263.5px,#a4cce3 265.5px,#95c5df 267.5px,#6fb0d7 269.5px,#4090c5 271.5px,#1865ac 273.5px,#125da6 275.5px,#3b8bc2 277.5px,#87bddc 279.5px,#a9cfe5 281.5px,#97c6df 283.5px,#61a7d2 285.5px,#4594c7 287.5px,#56a0ce 289.5px,#91c3de 292.5px,#92c4de 294.5px,#66abd4 296.5px,#3787c0 298.5px,#2d7dbb 300.5px,#529dcc 302.5px,#87bddc 304.5px,#8dc1dd 306.5px,#5ba3d0 308.5px,#2a7ab9 310.5px,#2777b8 312.5px,#57a0ce 314.5px,#8fc2de 316.5px,#94c4df 318.5px,#6caed6 320.5px,#539ecd 322.5px,#61a7d2 324.5px,#82bbdb 326.5px,#8abfdd 328.5px,#60a7d2 331.5px,#549fcd 333.5px,#74b3d8 337.5px,#64a9d3 339.5px,#3686c0 341.5px,#1561a9 343.5px,#1c6bb0 345.5px,#549fcd 347.5px,#95c5df 349.5px,#a3cce3 351.5px,#75b4d8 353.5px,#3a8ac2 355.5px,#2b7bba 357.5px,#519ccc 359.5px,#8fc2de 361.5px,#a9cfe5 363.5px,#99c7e0 365.5px,#519ccc 368.5px,#3888c1 370.5px,#4695c8 372.5px,#8abfdd 375.5px,#a0cbe2 377.5px,#95c5df 379.5px,#6aaed6 382.5px,#69add5 384.5px,#9dcae1 388.5px,#9dcae1 390.5px,#74b3d8 394.5px,#77b5d9 396.5px,#9dcae1 399.5px,#a4cce3 401.5px,#9ac8e0 403.5px,#7cb7da 406.5px,#77b5d9 408.5px,#84bcdb 412.5px,#72b2d8 419.5px,#5ca4d0 433.5px,#549fcd 442.5px,#539ecd 448.5px,#69add5 456.5px,#63a8d3 471.5px,#5ca4d0 483.5px,#6fb0d7 492.5px,#7ab6d9 499.5px,#61a7d2 510.5px,#6caed6 525.5px,#5ca4d0 533.5px,#6dafd7 546.5px,#72b2d8 551.5px,#8abfdd 559.5px)"></div><div style="top:201px;height:1px;background:linear-gradient(90deg,#6dafd7 0.5px,#6aaed6 10.5px,#74b3d8 18.5px,#58a1cf 35.5px,#4a98c9 45.5px,#3f8fc5 52.5px,#4a98c9 66.5px,#6caed6 80.5px,#5ba3d0 92.5px,#7ab6d9 106.5px,#91c3de 113.5px,#89bedc 120.5px,#69add5 135.5px,#69add5 148.5px,#5aa2cf 151.5px,#4896c8 154.5px,#4e9acb 156.5px,#8dc1dd 161.5px,#8fc2de 163.5px,#79b5d9 165.5px,#539ecd 168.5px,#58a1cf 170.5px,#81badb 173.5px,#8abfdd 175.5px,#61a7d2 179.5px,#61a7d2 181.5px,#75b4d8 184.5px,#64a9d3 186.5px,#4090c5 188.5px,#3a8ac2 190.5px,#61a7d2 192.5px,#9fcae1 194.5px,#bad6eb 196.5px,#b8d5ea 198.5px,#58a1cf 206.5px,#2a7ab9 209.5px,#2c7cba 211.5px,#519ccc 213.5px,#97c6df 216.5px,#a9cfe5 218.5px,#a1cbe2 220.5px,#4f9bcb 224.5px,#4493c7 226.5px,#5ba3d0 228.5px,#7ab6d9 230.5px,#7fb9da 232.5px,#56a0ce 235.5px,#4e9acb 237.5px,#68acd5 239.5px,#85bcdc 241.5px,#82bbdb 243.5px,#57a0ce 246.5px,#539ecd 248.5px,#71b1d7 250.5px,#91c3de 252.5px,#8dc1dd 254.5px,#5da5d1 257.5px,#58a1cf 259.5px,#71b1d7 261.5px,#92c4de 263.5px,#9dcae1 265.5px,#8dc1dd 267.5px,#56a0ce 270.5px,#2979b9 272.5px,#105ba4 274.5px,#206fb4 276.5px,#5fa6d1 278.5px,#9dcae1 280.5px,#a3cce3 282.5px,#79b5d9 284.5px,#4e9acb 286.5px,#4997c9 288.5px,#68acd5 290.5px,#8dc1dd 292.5px,#8fc2de 294.5px,#66abd4 296.5px,#3989c1 298.5px,#2f7fbc 300.5px,#539ecd 302.5px,#85bcdc 304.5px,#8cc0dd 306.5px,#5ba3d0 308.5px,#2c7cba 310.5px,#2979b9 312.5px,#57a0ce 314.5px,#8fc2de 316.5px,#94c4df 318.5px,#5ca4d0 321.5px,#57a0ce 323.5px,#71b1d7 325.5px,#89bedc 327.5px,#7cb7da 329.5px,#5da5d1 331.5px,#539ecd 333.5px,#71b1d7 337.5px,#61a7d2 339.5px,#3686c0 341.5px,#1562a9 343.5px,#1d6cb1 345.5px,#549fcd 347.5px,#94c4df 349.5px,#a0cbe2 351.5px,#74b3d8 353.5px,#3b8bc2 355.5px,#2c7cba 357.5px,#519ccc 359.5px,#8dc1dd 361.5px,#a6cee4 363.5px,#95c5df 365.5px,#519ccc 368.5px,#3888c1 370.5px,#4594c7 372.5px,#92c4de 376.5px,#99c7e0 378.5px,#68acd5 382.5px,#69add5 384.5px,#9cc9e1 388.5px,#9cc9e1 390.5px,#75b4d8 394.5px,#7ab6d9 396.5px,#9fcae1 399.5px,#a5cde3 401.5px,#99c7e0 403.5px,#7cb7da 406.5px,#75b4d8 408.5px,#81badb 413.5px,#5ca4d0 431.5px,#56a0ce 447.5px,#69add5 456.5px,#63a8d3 468.5px,#60a7d2 477.5px,#5ca4d0 485.5px,#7cb7da 498.5px,#6fb0d7 504.5px,#63a8d3 510.5px,#6dafd7 521.5px,#6dafd7 525.5px,#5aa2cf 533.5px,#6dafd7 546.5px,#75b4d8 553.5px,#85bcdc 559.5px)"></div><div style="top:202px;height:1px;background:linear-gradient(90deg,#6caed6 0.5px,#6aaed6 11.5px,#74b3d8 18.5px,#5aa2cf 34.5px,#539ecd 42.5px,#4191c6 50.5px,#4a98c9 66.5px,#69add5 79.5px,#63a8d3 85.5px,#58a1cf 91.5px,#74b3d8 104.5px,#8fc2de 114.5px,#89bedc 120.5px,#68acd5 135.5px,#6aaed6 148.5px,#549fcd 152.5px,#4a98c9 154.5px,#529dcc 156.5px,#91c3de 161.5px,#92c4de 163.5px,#7cb7da 165.5px,#5fa6d1 167.5px,#56a0ce 169.5px,#66abd4 171.5px,#82bbdb 173.5px,#89bedc 175.5px,#77b5d9 177.5px,#61a7d2 179.5px,#63a8d3 181.5px,#77b5d9 184.5px,#65aad4 186.5px,#4292c6 188.5px,#3b8bc2 190.5px,#61a7d2 192.5px,#9dcae1 194.5px,#b7d4ea 196.5px,#b4d3e9 198.5px,#68acd5 205.5px,#2f7fbc 209.5px,#3080bd 211.5px,#539ecd 213.5px,#95c5df 216.5px,#a8cee4 218.5px,#9fcae1 220.5px,#519ccc 224.5px,#4594c7 226.5px,#5ba3d0 228.5px,#79b5d9 230.5px,#7db8da 232.5px,#4d99ca 236.5px,#58a1cf 238.5px,#84bcdb 241.5px,#81badb 243.5px,#57a0ce 246.5px,#539ecd 248.5px,#6dafd7 250.5px,#8dc1dd 252.5px,#8abfdd 254.5px,#5ca4d0 257.5px,#57a0ce 259.5px,#6dafd7 261.5px,#8abfdd 263.5px,#94c4df 265.5px,#85bcdc 267.5px,#529dcc 270.5px,#1966ad 273.5px,#1460a8 275.5px,#3c8cc3 277.5px,#81badb 279.5px,#a3cce3 281.5px,#8fc2de 283.5px,#60a7d2 285.5px,#4695c8 287.5px,#56a0ce 289.5px,#8cc0dd 292.5px,#8dc1dd 294.5px,#68acd5 296.5px,#3a8ac2 298.5px,#3181bd 300.5px,#56a0ce 302.5px,#85bcdc 304.5px,#8abfdd 306.5px,#5ca4d0 308.5px,#2d7dbb 310.5px,#2b7bba 312.5px,#58a1cf 314.5px,#8dc1dd 316.5px,#94c4df 318.5px,#5da5d1 321.5px,#57a0ce 323.5px,#7db8da 326.5px,#82bbdb 328.5px,#539ecd 332.5px,#56a0ce 334.5px,#6dafd7 337.5px,#60a7d2 339.5px,#3686c0 341.5px,#1663aa 343.5px,#1f6eb3 345.5px,#549fcd 347.5px,#91c3de 349.5px,#9fcae1 351.5px,#74b3d8 353.5px,#3b8bc2 355.5px,#2c7cba 357.5px,#4f9bcb 359.5px,#8abfdd 361.5px,#a3cce3 363.5px,#94c4df 365.5px,#529dcc 368.5px,#3989c1 370.5px,#4493c7 372.5px,#8abfdd 376.5px,#91c3de 378.5px,#7db8da 380.5px,#66abd4 382.5px,#68acd5 384.5px,#9ac8e0 388.5px,#9ac8e0 390.5px,#77b5d9 394.5px,#7cb7da 396.5px,#9fcae1 399.5px,#a4cce3 401.5px,#97c6df 403.5px,#7ab6d9 406.5px,#75b4d8 409.5px,#7db8da 414.5px,#5aa2cf 433.5px,#5ba3d0 448.5px,#68acd5 455.5px,#63a8d3 467.5px,#64a9d3 476.5px,#5ba3d0 485.5px,#6dafd7 492.5px,#7db8da 498.5px,#65aad4 510.5px,#6dafd7 519.5px,#71b1d7 525.5px,#5aa2cf 533.5px,#6fb0d7 546.5px,#72b2d8 552.5px,#81badb 559.5px)"></div><div style="top:203px;height:1px;background:linear-gradient(90deg,#69add5 0.5px,#68acd5 10.5px,#74b3d8 17.5px,#5ba3d0 32.5px,#57a0ce 41.5px,#4292c6 50.5px,#4b98ca 66.5px,#66abd4 79.5px,#5fa6d1 86.5px,#58a1cf 92.5px,#8dc1dd 116.5px,#6fb0d7 131.5px,#65aad4 138.5px,#6aaed6 148.5px,#4e9acb 154.5px,#57a0ce 156.5px,#94c4df 161.5px,#94c4df 163.5px,#7fb9da 165.5px,#61a7d2 167.5px,#57a0ce 169.5px,#66abd4 171.5px,#81badb 173.5px,#87bddc 175.5px,#63a8d3 179.5px,#63a8d3 181.5px,#77b5d9 184.5px,#65aad4 186.5px,#4493c7 188.5px,#3c8cc3 190.5px,#60a7d2 192.5px,#99c7e0 194.5px,#b3d3e8 196.5px,#b2d2e8 198.5px,#5fa6d1 206.5px,#3484bf 209.5px,#3484bf 211.5px,#56a0ce 213.5px,#94c4df 216.5px,#a5cde3 218.5px,#9cc9e1 220.5px,#519ccc 224.5px,#4695c8 226.5px,#5ba3d0 228.5px,#77b5d9 230.5px,#7cb7da 232.5px,#56a0ce 235.5px,#4f9bcb 237.5px,#68acd5 239.5px,#84bcdb 241.5px,#7fb9da 243.5px,#57a0ce 246.5px,#539ecd 248.5px,#6caed6 250.5px,#89bedc 252.5px,#85bcdc 254.5px,#5ba3d0 257.5px,#56a0ce 259.5px,#69add5 261.5px,#84bcdb 263.5px,#8dc1dd 265.5px,#7db8da 267.5px,#4f9bcb 270.5px,#1a68ae 273.5px,#1562a9 275.5px,#3d8dc4 277.5px,#7fb9da 279.5px,#a0cbe2 281.5px,#8dc1dd 283.5px,#60a7d2 285.5px,#4896c8 287.5px,#57a0ce 289.5px,#8abfdd 292.5px,#8cc0dd 294.5px,#68acd5 296.5px,#3c8cc3 298.5px,#3484bf 300.5px,#57a0ce 302.5px,#85bcdc 304.5px,#8abfdd 306.5px,#5da5d1 308.5px,#2f7fbc 310.5px,#2d7dbb 312.5px,#5aa2cf 314.5px,#8dc1dd 316.5px,#92c4de 318.5px,#5fa6d1 321.5px,#57a0ce 323.5px,#7ab6d9 326.5px,#7db8da 328.5px,#529dcc 332.5px,#549fcd 334.5px,#6aaed6 337.5px,#5da5d1 339.5px,#3686c0 341.5px,#1865ac 343.5px,#206fb4 345.5px,#549fcd 347.5px,#8fc2de 349.5px,#9cc9e1 351.5px,#72b2d8 353.5px,#3c8cc3 355.5px,#2d7dbb 357.5px,#4f9bcb 359.5px,#87bddc 361.5px,#a0cbe2 363.5px,#91c3de 365.5px,#4292c6 369.5px,#3b8bc2 371.5px,#539ecd 373.5px,#84bcdb 376.5px,#8cc0dd 378.5px,#7ab6d9 380.5px,#66abd4 382.5px,#68acd5 384.5px,#99c7e0 388.5px,#99c7e0 390.5px,#77b5d9 394.5px,#7cb7da 396.5px,#9dcae1 399.5px,#a1cbe2 401.5px,#95c5df 403.5px,#77b5d9 406.5px,#72b2d8 409.5px,#7ab6d9 414.5px,#5aa2cf 433.5px,#5fa6d1 448.5px,#69add5 455.5px,#61a7d2 465.5px,#66abd4 475.5px,#5aa2cf 485.5px,#6dafd7 492.5px,#7db8da 497.5px,#72b2d8 504.5px,#68acd5 511.5px,#74b3d8 521.5px,#72b2d8 525.5px,#5ca4d0 532.5px,#63a8d3 538.5px,#71b1d7 545.5px,#71b1d7 552.5px,#7db8da 559.5px)"></div><div style="top:204px;height:2px;background:linear-gradient(90deg,#67abd4 0.5px,#66aad4 10.5px,#71b2d7 17.5px,#5aa2cf 31.5px,#59a2cf 41.5px,#4795c8 50.5px,#4f9bcb 66.5px,#65aad3 79.5px,#5da5d1 86.5px,#58a1cf 93.5px,#73b2d8 105.5px,#7eb9da 111.5px,#8bc0dd 118.5px,#65aad3 136.5px,#68acd5 149.5px,#539ecd 154.5px,#5ca3d0 156.5px,#8fc2de 160.5px,#9ac8e0 162.5px,#8fc2de 164.5px,#65aad3 167.5px,#59a2cf 169.5px,#66aad4 171.5px,#7db8da 173.5px,#84bcdb 175.5px,#62a8d2 179.5px,#63a8d3 181.5px,#75b3d8 184.5px,#65aad4 186.5px,#4493c7 188.5px,#3c8cc3 190.5px,#5ea5d1 192.5px,#93c4df 194.5px,#add0e6 196.5px,#add0e6 198.5px,#7eb9da 203.5px,#65aad3 206.5px,#3b8bc2 209.5px,#3a8ac2 211.5px,#5aa3cf 213.5px,#91c3de 216.5px,#9fcbe2 218.5px,#96c6df 220.5px,#519ccc 224.5px,#4695c8 226.5px,#67abd4 229.5px,#7ab6d9 231.5px,#70b1d7 233.5px,#519ccc 236.5px,#5ba3d0 238.5px,#82bbdb 241.5px,#7fb9da 243.5px,#58a1ce 246.5px,#529dcc 248.5px,#68acd5 250.5px,#81badb 252.5px,#7eb9da 254.5px,#58a1cf 257.5px,#549ecd 259.5px,#83bbdb 264.5px,#7eb9da 266.5px,#4e9acb 270.5px,#1e6db2 273.5px,#1967ad 275.5px,#4090c5 277.5px,#7fb9da 279.5px,#9dc9e1 281.5px,#8bc0dd 283.5px,#60a7d2 285.5px,#4a97c9 287.5px,#58a1ce 289.5px,#88bedc 292.5px,#8abfdd 294.5px,#68acd5 296.5px,#4090c5 298.5px,#3888c1 300.5px,#5aa3cf 302.5px,#85bcdc 304.5px,#89bfdd 306.5px,#5ea5d1 308.5px,#3282be 310.5px,#3080bd 312.5px,#5aa3cf 314.5px,#8bc0dd 316.5px,#90c2de 318.5px,#5fa6d1 321.5px,#58a1ce 323.5px,#7bb7d9 327.5px,#6eb0d7 329.5px,#4f9bcb 332.5px,#539dcc 334.5px,#67abd4 337.5px,#5ca3d0 339.5px,#3686c0 341.5px,#1a68ae 343.5px,#2272b6 345.5px,#56a0ce 347.5px,#8dc1dd 349.5px,#99c7e0 351.5px,#72b2d8 353.5px,#3e8ec4 355.5px,#2e7ebc 357.5px,#4e9acb 359.5px,#82bbdb 361.5px,#9bc8e0 363.5px,#8ec1de 365.5px,#4695c7 369.5px,#3d8dc4 371.5px,#539ecd 373.5px,#7eb9da 376.5px,#85bcdc 378.5px,#66aad4 382.5px,#6aadd5 384.5px,#96c6df 388.5px,#96c6df 390.5px,#76b4d8 394.5px,#7bb7d9 396.5px,#99c7e0 399.5px,#9cc9e1 401.5px,#85bcdc 404.5px,#71b2d7 406.5px,#6dafd7 409.5px,#75b4d8 413.5px,#58a1cf 434.5px,#63a9d3 445.5px,#69add5 455.5px,#61a7d2 464.5px,#6aadd5 475.5px,#58a1cf 484.5px,#66abd4 490.5px,#7fb9da 497.5px,#75b4d8 504.5px,#6dafd6 511.5px,#78b5d9 524.5px,#60a7d2 532.5px,#6aaed6 540.5px,#74b3d8 546.5px,#75b4d8 555.5px,#79b6d9 559.5px)"></div><div style="top:206px;height:2px;background:linear-gradient(90deg,#67abd4 0.5px,#65aad3 10.5px,#6caed6 18.5px,#56a0ce 30.5px,#5ca3d0 41.5px,#4d9aca 50.5px,#58a1ce 67.5px,#63a8d3 78.5px,#5ca4d0 87.5px,#5ca4d0 94.5px,#71b1d7 103.5px,#70b1d7 110.5px,#88bedc 117.5px,#81badb 124.5px,#61a7d2 137.5px,#66aad4 149.5px,#57a0ce 154.5px,#6baed6 157.5px,#92c4de 160.5px,#9cc9e1 162.5px,#8fc2de 164.5px,#65aad3 167.5px,#58a1ce 169.5px,#6baed6 172.5px,#7ab6d9 174.5px,#76b4d8 176.5px,#61a7d2 179.5px,#61a7d2 181.5px,#71b2d7 184.5px,#63a9d3 186.5px,#4493c7 188.5px,#3c8cc3 190.5px,#5ba3d0 192.5px,#9cc9e1 195.5px,#a8cee5 197.5px,#97c6df 200.5px,#81badb 203.5px,#6baed6 206.5px,#4493c7 209.5px,#4392c6 211.5px,#8abfdd 216.5px,#95c5df 218.5px,#8bc0dd 220.5px,#509ccb 224.5px,#4896c8 226.5px,#65aad4 229.5px,#76b4d8 231.5px,#6fb0d7 233.5px,#549fcd 236.5px,#5fa6d1 238.5px,#84bcdb 241.5px,#7fb9da 243.5px,#59a2cf 246.5px,#529dcc 248.5px,#75b4d8 252.5px,#72b2d8 254.5px,#549ecd 257.5px,#519ccc 259.5px,#76b4d8 263.5px,#7db8da 265.5px,#66abd4 268.5px,#4090c5 271.5px,#2373b6 273.5px,#206fb4 275.5px,#4594c7 277.5px,#7fb9da 279.5px,#99c7e0 281.5px,#88bedc 283.5px,#61a7d2 285.5px,#4d9aca 287.5px,#5aa2cf 289.5px,#85bcdc 292.5px,#88bedc 294.5px,#6aaed6 296.5px,#4695c7 298.5px,#3e8ec4 300.5px,#5fa6d1 302.5px,#87bddc 304.5px,#89bedc 306.5px,#61a7d2 308.5px,#3787c0 310.5px,#3585bf 312.5px,#5ca4d0 314.5px,#88bedc 316.5px,#8cc0dd 318.5px,#5fa6d1 321.5px,#57a0ce 323.5px,#72b2d8 327.5px,#68acd5 329.5px,#4d9aca 332.5px,#519ccc 334.5px,#63a9d3 337.5px,#59a2cf 339.5px,#3888c1 341.5px,#1d6cb1 343.5px,#2777b8 345.5px,#58a1cf 347.5px,#8dc1dd 349.5px,#99c7e0 351.5px,#75b3d8 353.5px,#4292c6 355.5px,#3282be 357.5px,#4f9bcb 359.5px,#7db8da 361.5px,#94c4df 363.5px,#89bfdd 365.5px,#4c99ca 369.5px,#4493c7 371.5px,#63a9d3 374.5px,#7ab6d9 376.5px,#81badb 378.5px,#69add5 382.5px,#6dafd7 384.5px,#94c4df 388.5px,#91c3de 390.5px,#72b2d8 394.5px,#75b3d8 396.5px,#92c4de 400.5px,#84bcdb 403.5px,#6aadd5 406.5px,#6aadd5 410.5px,#6caed6 415.5px,#5ca3d0 429.5px,#58a1ce 434.5px,#6baed6 445.5px,#6dafd6 453.5px,#61a7d2 463.5px,#6fb0d7 474.5px,#5aa3cf 484.5px,#69add5 490.5px,#80b9da 496.5px,#7db8da 502.5px,#74b3d8 511.5px,#7bb7d9 524.5px,#68acd5 533.5px,#77b5d9 548.5px,#75b3d8 559.5px)"></div><div style="top:208px;height:2px;background:linear-gradient(90deg,#6baed6 0.5px,#65aad3 10.5px,#68acd5 18.5px,#549ecd 30.5px,#5da4d0 42.5px,#539ecd 50.5px,#58a1cf 60.5px,#65aad3 74.5px,#5fa6d1 93.5px,#71b1d7 102.5px,#68acd5 110.5px,#85bcdc 118.5px,#7fb9da 124.5px,#5ca4d0 138.5px,#61a7d2 150.5px,#59a2cf 154.5px,#63a9d3 156.5px,#92c4de 160.5px,#99c7e0 162.5px,#8dc0dd 164.5px,#62a8d2 167.5px,#559fcd 169.5px,#63a9d3 172.5px,#70b1d7 174.5px,#68acd5 177.5px,#5ca3d0 180.5px,#6caed6 184.5px,#61a7d2 186.5px,#4493c7 188.5px,#3d8dc3 190.5px,#58a1cf 192.5px,#93c4df 195.5px,#a1cbe2 197.5px,#9ac8e0 199.5px,#82bbdb 203.5px,#73b2d8 206.5px,#4e9acb 209.5px,#4b98ca 211.5px,#82bbdb 216.5px,#8bc0dd 218.5px,#81badb 220.5px,#4f9bcb 224.5px,#4997c9 226.5px,#74b3d8 231.5px,#6fb0d7 233.5px,#5aa2cf 236.5px,#64a9d3 238.5px,#85bcdc 241.5px,#80b9da 243.5px,#549ecd 247.5px,#56a0ce 249.5px,#6aadd5 252.5px,#68acd5 254.5px,#509ccb 257.5px,#519ccc 259.5px,#7ab6d9 264.5px,#78b5d9 266.5px,#559fcd 270.5px,#2c7cbb 273.5px,#2878b9 275.5px,#4b98ca 277.5px,#7db8da 279.5px,#94c4df 281.5px,#83bbdb 283.5px,#559fcd 286.5px,#519ccc 288.5px,#80b9da 292.5px,#85bcdc 294.5px,#6caed6 296.5px,#4b98ca 298.5px,#4494c7 300.5px,#63a8d3 302.5px,#87bddc 304.5px,#89bedc 306.5px,#63a9d3 308.5px,#3c8cc3 310.5px,#3989c1 312.5px,#5ca4d0 314.5px,#82bbdb 316.5px,#85bcdc 318.5px,#5ea5d1 321.5px,#56a0ce 323.5px,#6baed6 327.5px,#5ba3d0 330.5px,#4d99ca 332.5px,#57a0ce 335.5px,#61a7d2 337.5px,#57a0ce 339.5px,#2b7bba 342.5px,#2272b5 344.5px,#4090c5 346.5px,#77b5d9 348.5px,#99c7e0 350.5px,#8dc1dd 352.5px,#4896c8 355.5px,#3888c1 357.5px,#519ccc 359.5px,#79b6d9 361.5px,#8dc1dd 363.5px,#86bddc 365.5px,#549ecd 369.5px,#4d99ca 371.5px,#68acd5 374.5px,#80b9da 377.5px,#7eb9da 379.5px,#6dafd7 382.5px,#73b2d8 384.5px,#8dc0dd 387.5px,#91c3de 389.5px,#6caed6 394.5px,#6dafd6 396.5px,#85bcdc 400.5px,#79b5d9 403.5px,#63a9d3 406.5px,#63a9d3 410.5px,#65aad4 415.5px,#5da4d0 428.5px,#56a0ce 434.5px,#74b3d8 446.5px,#70b1d7 453.5px,#63a8d3 461.5px,#72b2d8 474.5px,#5fa6d1 484.5px,#70b1d7 490.5px,#85bcdc 496.5px,#7ab6d9 511.5px,#7bb7d9 526.5px,#71b1d7 537.5px,#78b5d9 551.5px,#73b2d8 559.5px)"></div><div style="top:210px;height:2px;background:linear-gradient(90deg,#75b3d8 0.5px,#67abd4 10.5px,#65aad4 19.5px,#559fcd 30.5px,#5ca4d0 43.5px,#59a2cf 51.5px,#5da4d0 60.5px,#66abd4 72.5px,#5fa6d1 83.5px,#6eb0d7 97.5px,#73b2d8 102.5px,#64a9d3 109.5px,#73b2d8 114.5px,#82bbdb 119.5px,#71b2d7 128.5px,#56a0ce 139.5px,#5ea5d1 150.5px,#5aa2cf 154.5px,#6dafd7 157.5px,#8fc2de 160.5px,#95c5df 162.5px,#89bedc 164.5px,#57a0ce 168.5px,#539ecd 170.5px,#68acd5 174.5px,#63a9d3 177.5px,#5ba3d0 180.5px,#68acd5 184.5px,#5fa6d1 186.5px,#3f8fc5 189.5px,#4a97c9 191.5px,#8dc0dd 195.5px,#9bc8e0 197.5px,#79b6d9 206.5px,#57a0ce 209.5px,#539ecd 211.5px,#7cb7da 216.5px,#81badb 218.5px,#79b5d9 220.5px,#519ccc 224.5px,#4c99ca 226.5px,#71b2d7 231.5px,#6eb0d7 233.5px,#5ea5d1 236.5px,#68acd5 238.5px,#86bddc 241.5px,#81badb 243.5px,#58a1cf 247.5px,#57a0ce 249.5px,#64a9d3 253.5px,#4e9acb 258.5px,#63a9d3 261.5px,#7db8da 264.5px,#7db8da 266.5px,#5da4d0 270.5px,#3686c0 273.5px,#3181bd 275.5px,#519ccc 277.5px,#7db8da 279.5px,#8dc1dd 281.5px,#7eb9da 283.5px,#56a0ce 286.5px,#529dcc 288.5px,#7cb7da 292.5px,#81badb 294.5px,#6dafd7 296.5px,#529dcc 298.5px,#4b98c9 300.5px,#66aad4 302.5px,#86bddc 304.5px,#87bddc 306.5px,#66aad4 308.5px,#4090c5 310.5px,#3d8dc3 312.5px,#7ab6d9 316.5px,#7db8da 318.5px,#5ca3d0 321.5px,#56a0ce 323.5px,#68acd5 327.5px,#5aa3cf 330.5px,#4f9bcb 332.5px,#57a0ce 335.5px,#5ea5d1 337.5px,#56a0ce 339.5px,#2f7fbc 342.5px,#2878b9 344.5px,#4594c7 346.5px,#8cc0dd 349.5px,#98c7e0 351.5px,#7db8da 353.5px,#509ccb 355.5px,#3e8ec4 357.5px,#549fcd 359.5px,#83bbdb 362.5px,#88bedc 364.5px,#70b1d7 367.5px,#56a0ce 370.5px,#5ca4d0 372.5px,#7eb9da 376.5px,#83bbdb 378.5px,#74b3d8 383.5px,#8cc0dd 388.5px,#7db8da 391.5px,#65aad4 394.5px,#65aad3 396.5px,#77b5d9 400.5px,#6dafd6 403.5px,#5aa2cf 407.5px,#5fa6d1 417.5px,#5fa6d1 427.5px,#539ecd 434.5px,#78b5d9 446.5px,#76b4d8 452.5px,#66aad4 459.5px,#75b3d8 473.5px,#66aad4 483.5px,#75b3d8 489.5px,#88bedc 495.5px,#7db8da 511.5px,#76b4d8 537.5px,#75b3d8 544.5px,#75b3d8 554.5px,#70b1d7 559.5px)"></div><div style="top:212px;height:2px;background:linear-gradient(90deg,#80b9da 0.5px,#6aaed6 10.5px,#61a7d2 22.5px,#57a0ce 36.5px,#5ba3d0 45.5px,#5ca4d0 52.5px,#66aad4 72.5px,#5ca4d0 81.5px,#78b5d9 99.5px,#6aadd5 106.5px,#65aad3 110.5px,#7eb9da 119.5px,#6baed6 129.5px,#519ccc 139.5px,#5da5d1 150.5px,#5aa3cf 154.5px,#6dafd6 157.5px,#8abfdd 160.5px,#91c3de 162.5px,#7ab6d9 165.5px,#5aa2cf 168.5px,#549fcd 170.5px,#66abd4 175.5px,#5ca3d0 180.5px,#68acd5 184.5px,#61a7d2 186.5px,#4594c7 189.5px,#509ccb 191.5px,#8cc0dd 195.5px,#98c7e0 197.5px,#85bcdc 204.5px,#7eb9da 206.5px,#5da5d1 209.5px,#5aa2cf 211.5px,#77b5d9 216.5px,#79b5d9 219.5px,#519ccc 225.5px,#5da4d0 228.5px,#6eb0d7 231.5px,#6dafd6 233.5px,#61a7d2 236.5px,#6aadd5 238.5px,#86bddc 241.5px,#83bbdb 243.5px,#5da5d1 247.5px,#5da4d0 250.5px,#61a7d2 253.5px,#4f9bcb 257.5px,#549ecd 259.5px,#81badb 264.5px,#82bbdb 266.5px,#6eb0d7 269.5px,#4090c5 273.5px,#3b8bc2 275.5px,#57a0ce 277.5px,#7bb7d9 279.5px,#88bedc 281.5px,#79b6d9 283.5px,#56a0ce 286.5px,#539ecd 288.5px,#7db8da 293.5px,#79b5d9 295.5px,#509ccb 299.5px,#5ba3d0 301.5px,#85bcdc 304.5px,#85bcdc 306.5px,#67abd4 308.5px,#4594c7 310.5px,#4090c5 312.5px,#71b2d7 316.5px,#73b2d8 318.5px,#56a0ce 322.5px,#68acd5 327.5px,#519ccc 333.5px,#5da4d0 337.5px,#549fcd 339.5px,#2c7cbb 343.5px,#3787c0 345.5px,#87bddc 349.5px,#94c4df 351.5px,#7db8da 353.5px,#57a0ce 355.5px,#4695c8 357.5px,#59a2cf 359.5px,#80b9da 362.5px,#85bcdc 364.5px,#5fa6d1 370.5px,#65aad3 372.5px,#83bbdb 376.5px,#83bbdb 379.5px,#77b5d9 383.5px,#85bcdc 388.5px,#6baed6 392.5px,#5da5d1 395.5px,#6caed6 400.5px,#519ccc 408.5px,#65aad4 425.5px,#509ccb 434.5px,#5ea5d1 439.5px,#7ab6d9 446.5px,#79b6d9 452.5px,#6aaed6 459.5px,#77b5d9 471.5px,#6dafd6 482.5px,#7ab6d9 488.5px,#8dc0dd 494.5px,#7db8da 509.5px,#79b6d9 530.5px,#79b5d9 536.5px,#70b1d7 543.5px,#71b2d7 554.5px,#6eb0d7 559.5px)"></div><div style="top:214px;height:2px;background:linear-gradient(90deg,#87bddc 0.5px,#6eb0d7 10.5px,#58a1cf 37.5px,#5ca3d0 52.5px,#65aad3 70.5px,#58a1ce 80.5px,#7ab6d9 94.5px,#79b5d9 102.5px,#68acd5 109.5px,#72b2d8 115.5px,#79b5d9 121.5px,#60a7d2 132.5px,#4f9bcb 139.5px,#5fa6d1 150.5px,#5da4d0 154.5px,#6caed6 157.5px,#8bc0dd 161.5px,#89bfdd 163.5px,#61a7d2 168.5px,#5da4d0 171.5px,#67abd4 176.5px,#5fa6d1 180.5px,#68acd5 185.5px,#4e9acb 189.5px,#58a1cf 191.5px,#8cc0dd 195.5px,#95c5df 197.5px,#7fb9da 206.5px,#5da4d0 210.5px,#66abd4 213.5px,#76b4d8 218.5px,#58a1ce 225.5px,#5fa6d1 228.5px,#6baed6 232.5px,#60a7d2 236.5px,#73b2d8 239.5px,#85bcdc 242.5px,#72b2d8 245.5px,#60a7d2 248.5px,#60a7d2 253.5px,#519ccc 257.5px,#5fa6d1 260.5px,#83bbdb 264.5px,#86bddc 266.5px,#6dafd6 270.5px,#4393c6 274.5px,#4e9acb 276.5px,#7ab6d9 279.5px,#83bbdb 281.5px,#75b3d8 283.5px,#58a1ce 286.5px,#559fcd 288.5px,#7ab6d9 293.5px,#79b5d9 295.5px,#56a0ce 299.5px,#5fa6d1 301.5px,#81badb 304.5px,#81badb 306.5px,#68acd5 308.5px,#4a98c9 310.5px,#4493c7 312.5px,#69add5 316.5px,#65aad4 319.5px,#58a1ce 322.5px,#6aadd5 327.5px,#559fcd 333.5px,#59a2cf 338.5px,#4090c5 341.5px,#3181bd 343.5px,#3a8ac2 345.5px,#80b9da 349.5px,#8dc0dd 351.5px,#7db8da 353.5px,#5ca4d0 355.5px,#4d9aca 357.5px,#69add5 360.5px,#7db8da 362.5px,#7eb9da 365.5px,#65aad4 370.5px,#71b2d7 373.5px,#85bcdc 376.5px,#84bcdb 379.5px,#78b5d9 383.5px,#7db8da 388.5px,#5ba3d0 394.5px,#5ca4d0 397.5px,#62a8d2 401.5px,#4b98c9 408.5px,#60a7d2 419.5px,#6baed6 424.5px,#5ea5d1 429.5px,#4e9acb 434.5px,#559fcd 438.5px,#7cb7da 446.5px,#7db8da 452.5px,#71b2d7 460.5px,#79b6d9 469.5px,#70b1d7 480.5px,#88bedc 490.5px,#91c3de 495.5px,#7db8da 507.5px,#71b2d7 527.5px,#78b5d9 536.5px,#6baed6 543.5px,#6baed6 559.5px)"></div><div style="top:216px;height:2px;background:linear-gradient(90deg,#89bedc 0.5px,#6fb0d7 10.5px,#5fa6d1 30.5px,#58a1ce 38.5px,#58a1cf 51.5px,#69add5 64.5px,#5aa2cf 73.5px,#539dcc 79.5px,#68acd5 87.5px,#7db8da 94.5px,#79b5d9 103.5px,#6caed6 111.5px,#75b4d8 121.5px,#67abd4 130.5px,#519ccc 138.5px,#5fa6d1 145.5px,#63a9d3 150.5px,#62a8d2 155.5px,#86bddc 161.5px,#84bcdb 164.5px,#66aad4 169.5px,#6aadd5 176.5px,#64a9d3 181.5px,#6aadd5 185.5px,#56a0ce 189.5px,#61a7d2 191.5px,#8cc0dd 195.5px,#93c4df 197.5px,#7db8da 206.5px,#5fa6d1 210.5px,#71b2d7 218.5px,#68acd5 222.5px,#5da5d1 226.5px,#68acd5 231.5px,#5da4d0 236.5px,#6dafd6 239.5px,#7db8da 242.5px,#71b2d7 245.5px,#65aad3 248.5px,#61a7d2 253.5px,#549ecd 257.5px,#60a7d2 260.5px,#81badb 264.5px,#86bddc 266.5px,#73b2d8 270.5px,#4f9bcb 274.5px,#57a0ce 276.5px,#7ab6d9 279.5px,#7eb9da 281.5px,#5aa3cf 286.5px,#58a1cf 288.5px,#79b5d9 293.5px,#79b6d9 295.5px,#5da4d0 299.5px,#64a9d3 301.5px,#7fb9da 304.5px,#7eb9da 306.5px,#4896c8 311.5px,#4f9bcb 313.5px,#64a9d3 316.5px,#62a8d2 319.5px,#5ba3d0 322.5px,#6dafd7 327.5px,#59a2cf 333.5px,#58a1ce 338.5px,#3484bf 343.5px,#3c8cc3 345.5px,#75b4d8 349.5px,#82bbdb 351.5px,#77b5d9 353.5px,#56a0ce 356.5px,#58a1cf 358.5px,#79b6d9 362.5px,#7ab6d9 365.5px,#69add5 370.5px,#7ab6d9 374.5px,#85bcdc 377.5px,#75b4d8 384.5px,#75b3d8 388.5px,#56a0ce 395.5px,#5aa3cf 401.5px,#4695c7 408.5px,#56a0ce 416.5px,#71b2d7 423.5px,#6fb0d7 426.5px,#4e9acb 434.5px,#519ccc 438.5px,#7db8da 447.5px,#7db8da 454.5px,#79b5d9 461.5px,#7db8da 468.5px,#6dafd6 477.5px,#80b9da 486.5px,#95c5df 494.5px,#79b6d9 507.5px,#6dafd7 522.5px,#6caed6 529.5px,#75b3d8 536.5px,#68acd5 547.5px,#6aadd5 559.5px)"></div><div style="top:218px;height:1px;background:linear-gradient(90deg,#87bddc 0.5px,#6fb0d7 9.5px,#6dafd7 18.5px,#60a7d2 30.5px,#57a0ce 38.5px,#549fcd 50.5px,#6dafd7 62.5px,#63a8d3 69.5px,#4f9bcb 77.5px,#5aa2cf 83.5px,#7ab6d9 93.5px,#79b5d9 104.5px,#6fb0d7 111.5px,#72b2d8 127.5px,#539ecd 138.5px,#68acd5 148.5px,#61a7d2 154.5px,#71b1d7 158.5px,#84bcdb 162.5px,#7fb9da 165.5px,#6caed6 170.5px,#6caed6 176.5px,#65aad4 181.5px,#6aaed6 185.5px,#5ca4d0 189.5px,#65aad4 191.5px,#8abfdd 195.5px,#8dc1dd 198.5px,#7cb7da 206.5px,#60a7d2 210.5px,#6fb0d7 220.5px,#61a7d2 227.5px,#63a8d3 232.5px,#58a1cf 236.5px,#74b3d8 242.5px,#65aad4 250.5px,#56a0ce 257.5px,#60a7d2 260.5px,#7fb9da 264.5px,#82bbdb 267.5px,#75b4d8 270.5px,#57a0ce 274.5px,#5da5d1 276.5px,#7ab6d9 279.5px,#7cb7da 281.5px,#5ca4d0 286.5px,#5fa6d1 289.5px,#7ab6d9 294.5px,#75b4d8 296.5px,#61a7d2 299.5px,#66abd4 301.5px,#7db8da 304.5px,#7cb7da 306.5px,#69add5 308.5px,#4d99ca 311.5px,#519ccc 313.5px,#61a7d2 316.5px,#5fa6d1 322.5px,#71b1d7 327.5px,#5aa2cf 334.5px,#529dcc 339.5px,#3787c0 343.5px,#3d8dc4 345.5px,#6dafd7 349.5px,#7ab6d9 351.5px,#72b2d8 353.5px,#58a1cf 356.5px,#5ba3d0 358.5px,#77b5d9 362.5px,#74b3d8 366.5px,#69add5 370.5px,#82bbdb 377.5px,#7ab6d9 381.5px,#6aaed6 389.5px,#549fcd 395.5px,#539ecd 402.5px,#4493c7 408.5px,#57a0ce 416.5px,#75b4d8 423.5px,#74b3d8 426.5px,#4f9bcb 434.5px,#519ccc 438.5px,#7db8da 447.5px,#81badb 454.5px,#7db8da 462.5px,#7db8da 469.5px,#69add5 477.5px,#7db8da 485.5px,#95c5df 493.5px,#8dc1dd 498.5px,#77b5d9 506.5px,#6caed6 521.5px,#66abd4 528.5px,#72b2d8 536.5px,#64a9d3 551.5px,#69add5 559.5px)"></div><div style="top:219px;height:2px;background:linear-gradient(90deg,#82bbdb 0.5px,#6eb0d7 9.5px,#6eb0d7 20.5px,#56a0ce 37.5px,#519ccc 49.5px,#75b3d8 62.5px,#6baed6 67.5px,#4f9bcb 75.5px,#539ecd 81.5px,#77b5d9 94.5px,#75b4d8 106.5px,#70b1d7 117.5px,#77b5d9 127.5px,#58a1ce 138.5px,#69add5 148.5px,#63a9d3 155.5px,#81badb 163.5px,#71b2d7 172.5px,#65aad3 181.5px,#67abd4 186.5px,#5ea5d1 189.5px,#66abd4 191.5px,#85bcdc 195.5px,#88bedc 198.5px,#78b5d9 206.5px,#60a7d2 210.5px,#6caed6 221.5px,#5aa3cf 233.5px,#539ecd 236.5px,#6aadd5 243.5px,#5fa6d1 254.5px,#58a1ce 258.5px,#7fb9da 266.5px,#76b4d8 270.5px,#5da5d1 274.5px,#63a8d3 276.5px,#79b6d9 279.5px,#75b3d8 282.5px,#5ea5d1 286.5px,#61a7d2 289.5px,#79b6d9 294.5px,#71b1d7 297.5px,#66abd4 299.5px,#6aadd5 301.5px,#7cb7da 304.5px,#7ab6d9 306.5px,#519ccc 311.5px,#59a2cf 314.5px,#63a8d3 317.5px,#63a8d3 322.5px,#73b2d8 327.5px,#59a2cf 335.5px,#509ccb 339.5px,#3989c1 343.5px,#3f8fc4 345.5px,#67abd4 349.5px,#72b2d8 352.5px,#5aa3cf 356.5px,#5da4d0 358.5px,#72b2d8 362.5px,#6fb0d7 366.5px,#69add5 371.5px,#7fb9da 377.5px,#5fa6d1 391.5px,#539ecd 396.5px,#509ccb 402.5px,#4695c7 408.5px,#5aa2cf 416.5px,#79b6d9 423.5px,#78b5d9 426.5px,#4f9bcb 435.5px,#549fcd 439.5px,#7eb9da 448.5px,#81badb 455.5px,#81badb 464.5px,#80b9da 469.5px,#67abd4 476.5px,#6fb0d7 482.5px,#96c6df 493.5px,#8dc0dd 498.5px,#74b3d8 505.5px,#6aaed6 521.5px,#65aad3 529.5px,#71b2d7 537.5px,#63a8d3 552.5px,#68acd5 559.5px)"></div><div style="top:221px;height:1px;background:linear-gradient(90deg,#7db8da 0.5px,#6dafd7 8.5px,#72b2d8 19.5px,#549fcd 37.5px,#4d99ca 48.5px,#6caed6 57.5px,#7cb7da 62.5px,#74b3d8 66.5px,#519ccc 74.5px,#529dcc 80.5px,#74b3d8 95.5px,#74b3d8 108.5px,#6dafd7 117.5px,#7db8da 127.5px,#6aaed6 133.5px,#5ca4d0 138.5px,#68acd5 149.5px,#61a7d2 155.5px,#71b1d7 160.5px,#7cb7da 164.5px,#6aaed6 176.5px,#63a8d3 182.5px,#63a8d3 187.5px,#60a7d2 190.5px,#7db8da 195.5px,#7db8da 200.5px,#75b4d8 206.5px,#60a7d2 210.5px,#6aaed6 222.5px,#5ca4d0 231.5px,#4d99ca 236.5px,#5fa6d1 244.5px,#60a7d2 253.5px,#58a1cf 258.5px,#79b5d9 266.5px,#72b2d8 271.5px,#63a8d3 274.5px,#66abd4 276.5px,#77b5d9 279.5px,#72b2d8 282.5px,#60a7d2 286.5px,#66abd4 290.5px,#79b5d9 295.5px,#69add5 300.5px,#7cb7da 304.5px,#7ab6d9 306.5px,#57a0ce 311.5px,#5ca4d0 314.5px,#6caed6 324.5px,#72b2d8 327.5px,#56a0ce 336.5px,#4493c7 341.5px,#3c8cc3 344.5px,#4997c9 346.5px,#63a8d3 349.5px,#6caed6 352.5px,#5ba3d0 357.5px,#6fb0d7 363.5px,#65aad4 370.5px,#74b3d8 375.5px,#7ab6d9 379.5px,#539ecd 396.5px,#4997c9 408.5px,#61a7d2 417.5px,#7cb7da 423.5px,#7ab6d9 426.5px,#529dcc 435.5px,#549fcd 439.5px,#7db8da 448.5px,#82bbdb 456.5px,#82bbdb 464.5px,#82bbdb 469.5px,#65aad4 476.5px,#68acd5 481.5px,#95c5df 492.5px,#92c4de 496.5px,#6dafd7 505.5px,#6aaed6 512.5px,#6aaed6 521.5px,#63a8d3 528.5px,#72b2d8 538.5px,#63a8d3 553.5px,#68acd5 559.5px)"></div><div style="top:222px;height:1px;background:linear-gradient(90deg,#7ab6d9 0.5px,#6caed6 9.5px,#75b4d8 17.5px,#56a0ce 35.5px,#4997c9 47.5px,#60a7d2 54.5px,#7db8da 61.5px,#7ab6d9 65.5px,#529dcc 74.5px,#539ecd 80.5px,#72b2d8 96.5px,#72b2d8 109.5px,#6dafd7 117.5px,#82bbdb 127.5px,#74b3d8 132.5px,#60a7d2 137.5px,#60a7d2 142.5px,#65aad4 149.5px,#5fa6d1 156.5px,#77b5d9 164.5px,#74b3d8 170.5px,#60a7d2 181.5px,#5fa6d1 188.5px,#64a9d3 191.5px,#79b5d9 195.5px,#79b5d9 201.5px,#6fb0d7 207.5px,#61a7d2 210.5px,#68acd5 224.5px,#549fcd 232.5px,#4896c8 236.5px,#5aa2cf 246.5px,#5fa6d1 253.5px,#58a1cf 258.5px,#75b4d8 267.5px,#6dafd7 272.5px,#65aad4 275.5px,#75b4d8 280.5px,#61a7d2 287.5px,#77b5d9 295.5px,#6aaed6 299.5px,#7cb7da 305.5px,#6dafd7 308.5px,#5ba3d0 311.5px,#6caed6 324.5px,#72b2d8 327.5px,#549fcd 336.5px,#4594c7 341.5px,#3e8ec4 344.5px,#65aad4 350.5px,#68acd5 353.5px,#5ca4d0 357.5px,#6aaed6 363.5px,#63a8d3 370.5px,#71b1d7 375.5px,#77b5d9 379.5px,#539ecd 397.5px,#4d99ca 408.5px,#6caed6 419.5px,#7cb7da 423.5px,#7cb7da 426.5px,#539ecd 435.5px,#56a0ce 439.5px,#7cb7da 448.5px,#82bbdb 455.5px,#7fb9da 462.5px,#85bcdc 468.5px,#72b2d8 473.5px,#63a8d3 477.5px,#68acd5 482.5px,#95c5df 492.5px,#92c4de 496.5px,#6caed6 504.5px,#66abd4 510.5px,#6dafd7 519.5px,#63a8d3 528.5px,#74b3d8 537.5px,#63a8d3 554.5px,#68acd5 559.5px)"></div><div style="top:223px;height:1px;background:linear-gradient(90deg,#77b5d9 0.5px,#6dafd7 10.5px,#75b4d8 18.5px,#56a0ce 34.5px,#4896c8 47.5px,#61a7d2 54.5px,#81badb 61.5px,#7db8da 65.5px,#56a0ce 73.5px,#529dcc 78.5px,#71b1d7 97.5px,#6fb0d7 110.5px,#6caed6 117.5px,#87bddc 126.5px,#7db8da 131.5px,#63a8d3 137.5px,#61a7d2 143.5px,#60a7d2 150.5px,#5ba3d0 156.5px,#75b4d8 166.5px,#64a9d3 177.5px,#5fa6d1 184.5px,#5fa6d1 190.5px,#75b4d8 197.5px,#71b1d7 206.5px,#60a7d2 211.5px,#66abd4 225.5px,#519ccc 232.5px,#4493c7 236.5px,#5ca4d0 253.5px,#5aa2cf 259.5px,#71b1d7 267.5px,#6caed6 272.5px,#66abd4 275.5px,#72b2d8 280.5px,#61a7d2 287.5px,#74b3d8 295.5px,#6caed6 300.5px,#7cb7da 305.5px,#69add5 309.5px,#5da5d1 312.5px,#6dafd7 325.5px,#6dafd7 328.5px,#539ecd 336.5px,#4090c5 343.5px,#4594c7 345.5px,#64a9d3 350.5px,#66abd4 353.5px,#5ca4d0 357.5px,#66abd4 363.5px,#5fa6d1 370.5px,#75b4d8 378.5px,#519ccc 401.5px,#519ccc 408.5px,#72b2d8 420.5px,#7db8da 424.5px,#74b3d8 428.5px,#56a0ce 435.5px,#5ba3d0 440.5px,#7db8da 449.5px,#7db8da 458.5px,#82bbdb 464.5px,#85bcdc 469.5px,#60a7d2 478.5px,#65aad4 482.5px,#94c4df 492.5px,#94c4df 495.5px,#66abd4 504.5px,#64a9d3 511.5px,#6dafd7 520.5px,#64a9d3 528.5px,#75b4d8 538.5px,#64a9d3 554.5px,#66abd4 559.5px)"></div><div style="top:224px;height:2px;background:linear-gradient(90deg,#75b4d8 0.5px,#70b1d7 10.5px,#77b5d9 18.5px,#57a0ce 33.5px,#4695c7 46.5px,#59a2cf 52.5px,#82bbdb 61.5px,#7fb9da 65.5px,#59a2cf 73.5px,#56a0ce 78.5px,#6fb0d7 96.5px,#6aaed6 111.5px,#6aadd5 117.5px,#8cc0dd 126.5px,#87bddc 130.5px,#62a8d2 138.5px,#549fcd 156.5px,#6eb0d7 167.5px,#60a7d2 177.5px,#5ba3d0 184.5px,#5ca4d0 190.5px,#6dafd6 197.5px,#6dafd7 206.5px,#60a7d2 211.5px,#63a9d3 226.5px,#3f8fc4 236.5px,#4b98c9 246.5px,#5aa2cf 253.5px,#5da4d0 261.5px,#6caed6 270.5px,#68acd5 276.5px,#6aaed6 281.5px,#65aad3 288.5px,#70b1d7 296.5px,#6dafd6 300.5px,#7ab6d9 305.5px,#73b2d8 308.5px,#64a9d3 312.5px,#67abd4 328.5px,#4f9bcb 337.5px,#4594c7 344.5px,#65aad4 351.5px,#5da5d1 358.5px,#5fa6d1 364.5px,#5ca4d0 371.5px,#73b2d8 379.5px,#549ecd 399.5px,#56a0ce 407.5px,#7db8da 424.5px,#74b3d8 428.5px,#58a1cf 436.5px,#61a7d2 441.5px,#7bb7d9 449.5px,#7cb7da 456.5px,#7ab6d9 462.5px,#89bedc 469.5px,#79b5d9 473.5px,#60a7d2 478.5px,#62a8d2 482.5px,#81badb 488.5px,#92c4de 492.5px,#8cc0dd 496.5px,#63a9d3 503.5px,#5ca3d0 508.5px,#6eb0d7 519.5px,#66aad4 529.5px,#75b4d8 537.5px,#68acd5 549.5px,#65aad4 557.5px,#66abd4 559.5px)"></div><div style="top:226px;height:2px;background:linear-gradient(90deg,#75b3d8 0.5px,#75b3d8 12.5px,#77b5d9 19.5px,#58a1ce 33.5px,#4695c7 45.5px,#58a1ce 51.5px,#7fb9da 60.5px,#81badb 64.5px,#5ca4d0 74.5px,#61a7d2 81.5px,#70b1d7 95.5px,#64a9d3 115.5px,#70b1d7 119.5px,#8dc1dd 125.5px,#8dc1dd 129.5px,#5fa6d1 139.5px,#4c99ca 156.5px,#67abd4 168.5px,#559fcd 183.5px,#66abd4 200.5px,#67abd4 207.5px,#5ea5d1 215.5px,#62a8d2 225.5px,#3c8cc3 235.5px,#3d8dc3 243.5px,#58a1cf 256.5px,#66abd4 272.5px,#67abd4 287.5px,#6baed6 300.5px,#7ab6d9 306.5px,#62a8d2 321.5px,#60a7d2 328.5px,#4e9acb 337.5px,#4c99ca 344.5px,#65aad4 351.5px,#539ecd 369.5px,#70b1d7 379.5px,#57a0ce 401.5px,#79b6d9 425.5px,#5da5d1 436.5px,#65aad3 441.5px,#79b6d9 449.5px,#72b2d8 461.5px,#8dc1dd 469.5px,#81badb 473.5px,#63a8d3 478.5px,#60a7d2 482.5px,#71b2d7 486.5px,#8cc0dd 491.5px,#89bedc 495.5px,#5ca3d0 503.5px,#549fcd 507.5px,#70b1d7 519.5px,#68acd5 529.5px,#74b3d8 537.5px,#6aaed6 549.5px,#63a9d3 556.5px,#65aad3 559.5px)"></div><div style="top:228px;height:2px;background:linear-gradient(90deg,#73b2d8 0.5px,#77b5d9 19.5px,#4896c8 43.5px,#549fcd 49.5px,#7db8da 61.5px,#75b4d8 67.5px,#61a7d2 74.5px,#68acd5 82.5px,#75b3d8 93.5px,#62a8d2 105.5px,#62a8d2 116.5px,#79b6d9 121.5px,#8dc0dd 125.5px,#8dc0dd 129.5px,#539ecd 142.5px,#4795c8 156.5px,#62a8d2 169.5px,#539ecd 183.5px,#61a7d2 197.5px,#61a7d2 208.5px,#5da4d0 216.5px,#63a9d3 224.5px,#539dcc 229.5px,#3b8bc2 235.5px,#3c8cc3 245.5px,#5aa3cf 257.5px,#5fa6d1 274.5px,#63a9d3 283.5px,#6fb0d7 289.5px,#66aad4 299.5px,#7db8da 307.5px,#74b3d8 314.5px,#5fa6d1 322.5px,#4f9bcb 338.5px,#58a1ce 345.5px,#68acd5 351.5px,#58a1ce 362.5px,#4f9bcb 369.5px,#6dafd7 380.5px,#5ba3d0 400.5px,#6fb0d7 414.5px,#75b3d8 426.5px,#61a7d2 437.5px,#77b5d9 448.5px,#6aadd5 460.5px,#78b5d9 464.5px,#91c3de 469.5px,#8fc2de 472.5px,#65aad3 479.5px,#63a8d3 483.5px,#85bcdc 491.5px,#80b9da 495.5px,#57a0ce 503.5px,#539dcc 508.5px,#73b2d8 520.5px,#6baed6 531.5px,#6caed6 548.5px,#62a8d2 556.5px,#63a8d3 559.5px)"></div><div style="top:230px;height:2px;background:linear-gradient(90deg,#6dafd6 0.5px,#78b5d9 17.5px,#58a1ce 36.5px,#4d99ca 43.5px,#77b5d9 61.5px,#70b1d7 68.5px,#63a9d3 77.5px,#77b5d9 92.5px,#5ca3d0 105.5px,#5da4d0 115.5px,#76b4d8 121.5px,#89bedc 126.5px,#81badb 131.5px,#4d99ca 143.5px,#4a97c9 159.5px,#5fa6d1 169.5px,#559fcd 184.5px,#63a9d3 195.5px,#5aa3cf 210.5px,#5ea5d1 217.5px,#67abd4 223.5px,#59a2cf 228.5px,#3f8fc5 234.5px,#3c8cc3 245.5px,#4c99ca 251.5px,#5ea5d1 257.5px,#5aa3cf 279.5px,#76b4d8 289.5px,#61a7d2 298.5px,#6eb0d7 303.5px,#81badb 308.5px,#81badb 312.5px,#61a7d2 321.5px,#519ccc 336.5px,#5fa6d1 345.5px,#6dafd7 351.5px,#61a7d2 359.5px,#4c99ca 368.5px,#57a0ce 374.5px,#69add5 381.5px,#5ea5d1 399.5px,#6fb0d7 412.5px,#71b1d7 422.5px,#6dafd7 430.5px,#66aad4 438.5px,#77b5d9 447.5px,#65aad4 460.5px,#74b3d8 464.5px,#93c4df 469.5px,#95c5df 472.5px,#68acd5 480.5px,#65aad4 483.5px,#7eb9da 492.5px,#70b1d7 497.5px,#549fcd 505.5px,#59a2cf 510.5px,#77b5d9 520.5px,#6fb0d7 527.5px,#61a7d2 540.5px,#69add5 548.5px,#61a7d2 557.5px,#61a7d2 559.5px)"></div><div style="top:232px;height:2px;background:linear-gradient(90deg,#64a9d3 0.5px,#76b4d8 14.5px,#62a8d2 34.5px,#539ecd 42.5px,#6eb0d7 59.5px,#6dafd6 69.5px,#64a9d3 77.5px,#75b4d8 91.5px,#58a1ce 104.5px,#58a1cf 113.5px,#7eb9da 125.5px,#7bb7d9 130.5px,#4b98ca 143.5px,#4f9bcb 161.5px,#60a7d2 170.5px,#58a1cf 184.5px,#67abd4 195.5px,#56a0ce 213.5px,#6dafd7 223.5px,#5da5d1 228.5px,#4494c7 234.5px,#4090c5 246.5px,#56a0ce 253.5px,#63a8d3 259.5px,#56a0ce 278.5px,#6dafd6 284.5px,#7cb7da 288.5px,#78b5d9 291.5px,#5fa6d1 297.5px,#63a9d3 301.5px,#88bedc 309.5px,#81badb 314.5px,#62a8d2 322.5px,#549ecd 334.5px,#62a8d2 344.5px,#73b2d8 351.5px,#5da5d1 362.5px,#4c99ca 369.5px,#5aa3cf 377.5px,#66aad4 386.5px,#61a7d2 399.5px,#6dafd6 409.5px,#6caed6 422.5px,#6aaed6 432.5px,#6aadd5 439.5px,#77b5d9 447.5px,#63a8d3 459.5px,#6baed6 463.5px,#96c6df 470.5px,#91c3de 474.5px,#6dafd6 481.5px,#6eb0d7 486.5px,#78b5d9 492.5px,#5ca3d0 506.5px,#68acd5 513.5px,#7db8da 521.5px,#76b4d8 526.5px,#56a0ce 538.5px,#61a7d2 545.5px,#64a9d3 551.5px,#63a9d3 559.5px)"></div><div style="top:234px;height:2px;background:linear-gradient(90deg,#59a2cf 0.5px,#71b2d7 13.5px,#6aaed6 27.5px,#68acd5 34.5px,#5aa3cf 43.5px,#6aaed6 63.5px,#63a9d3 78.5px,#71b1d7 90.5px,#559fcd 103.5px,#5aa3cf 113.5px,#76b4d8 125.5px,#6aaed6 133.5px,#4d99ca 143.5px,#539ecd 155.5px,#539dcc 162.5px,#62a8d2 170.5px,#5ea5d1 185.5px,#6baed6 195.5px,#549fcd 212.5px,#63a8d3 217.5px,#75b4d8 222.5px,#6dafd7 226.5px,#4c99ca 234.5px,#4795c8 247.5px,#65aad3 257.5px,#59a2cf 267.5px,#539ecd 277.5px,#6aadd5 283.5px,#7db8da 287.5px,#7ab6d9 291.5px,#5ea5d1 297.5px,#61a7d2 301.5px,#89bfdd 309.5px,#89bedc 313.5px,#67abd4 322.5px,#57a0ce 334.5px,#61a7d2 343.5px,#75b4d8 350.5px,#6eb0d7 357.5px,#4d9aca 371.5px,#58a1ce 379.5px,#65aad4 390.5px,#63a8d3 399.5px,#6aadd5 409.5px,#68acd5 422.5px,#6dafd6 439.5px,#77b5d9 447.5px,#63a9d3 459.5px,#70b1d7 464.5px,#92c4de 470.5px,#91c3de 474.5px,#73b2d8 482.5px,#75b4d8 489.5px,#72b2d8 495.5px,#66aad4 507.5px,#72b2d8 514.5px,#83bbdb 522.5px,#76b4d8 527.5px,#4d9aca 537.5px,#509ccb 542.5px,#63a8d3 549.5px,#68acd5 559.5px)"></div><div style="top:236px;height:2px;background:linear-gradient(90deg,#4c99ca 0.5px,#5fa6d1 7.5px,#6eb0d7 14.5px,#68acd5 26.5px,#6fb0d7 34.5px,#61a7d2 46.5px,#66aad4 68.5px,#61a7d2 78.5px,#6aaed6 89.5px,#549fcd 102.5px,#5ca4d0 112.5px,#70b1d7 123.5px,#65aad4 133.5px,#4e9acb 143.5px,#58a1cf 154.5px,#56a0ce 162.5px,#66abd4 174.5px,#63a9d3 186.5px,#6caed6 197.5px,#559fcd 211.5px,#62a8d2 216.5px,#7cb7da 222.5px,#75b4d8 226.5px,#56a0ce 233.5px,#4d9aca 246.5px,#66abd4 258.5px,#529dcc 272.5px,#56a0ce 278.5px,#7eb9da 288.5px,#73b2d8 292.5px,#5da4d0 297.5px,#61a7d2 301.5px,#8abfdd 309.5px,#8abfdd 313.5px,#66aad4 326.5px,#58a1cf 338.5px,#62a8d2 344.5px,#76b4d8 351.5px,#65aad4 364.5px,#4d99ca 373.5px,#549fcd 380.5px,#65aad4 389.5px,#63a9d3 414.5px,#67abd4 424.5px,#71b1d7 441.5px,#74b3d8 448.5px,#66aad4 459.5px,#6fb0d7 464.5px,#8dc0dd 471.5px,#85bcdc 477.5px,#77b5d9 485.5px,#75b4d8 495.5px,#71b2d7 509.5px,#85bcdc 522.5px,#78b5d9 527.5px,#4a97c9 536.5px,#4695c8 541.5px,#65aad3 550.5px,#71b1d7 559.5px)"></div><div style="top:238px;height:2px;background:linear-gradient(90deg,#4090c5 0.5px,#4f9bcb 5.5px,#68acd5 12.5px,#68acd5 19.5px,#66aad4 26.5px,#74b3d8 35.5px,#61a7d2 50.5px,#63a9d3 68.5px,#5ca4d0 77.5px,#67abd4 87.5px,#539dcc 100.5px,#5fa6d1 111.5px,#6dafd7 120.5px,#66aad4 131.5px,#4f9bcb 143.5px,#5ba3d0 154.5px,#58a1cf 164.5px,#6baed6 176.5px,#68acd5 189.5px,#6baed6 198.5px,#58a1ce 210.5px,#66abd4 216.5px,#81badb 222.5px,#7cb7da 226.5px,#5da4d0 234.5px,#56a0ce 247.5px,#66abd4 258.5px,#519ccc 269.5px,#5aa3cf 278.5px,#78b5d9 288.5px,#6fb0d7 292.5px,#5ba3d0 298.5px,#65aad4 302.5px,#89bfdd 309.5px,#88bedc 314.5px,#5ba3d0 335.5px,#59a2cf 342.5px,#71b2d7 351.5px,#6caed6 364.5px,#4c99ca 374.5px,#4f9bcb 379.5px,#67abd4 388.5px,#62a8d2 421.5px,#6aaed6 433.5px,#73b2d8 447.5px,#68acd5 457.5px,#6eb0d7 464.5px,#83bbdb 472.5px,#79b5d9 507.5px,#85bcdc 522.5px,#77b5d9 527.5px,#4a97c9 536.5px,#4494c7 540.5px,#78b5d9 556.5px,#7cb7da 559.5px)"></div><div style="top:240px;height:2px;background:linear-gradient(90deg,#3989c1 0.5px,#4896c8 5.5px,#65aad3 12.5px,#68acd5 18.5px,#62a8d2 25.5px,#7ab6d9 36.5px,#71b1d7 42.5px,#60a7d2 51.5px,#63a8d3 67.5px,#59a2cf 76.5px,#65aad3 86.5px,#529dcc 100.5px,#5fa6d1 110.5px,#6dafd7 118.5px,#63a8d3 132.5px,#4f9bcb 142.5px,#5aa2cf 155.5px,#5aa3cf 166.5px,#6fb0d7 177.5px,#67abd4 189.5px,#65aad4 200.5px,#5ba3d0 209.5px,#6caed6 216.5px,#83bbdb 222.5px,#7db8da 227.5px,#60a7d2 237.5px,#5da5d1 248.5px,#66abd4 257.5px,#4f9bcb 268.5px,#70b1d7 289.5px,#5aa2cf 298.5px,#6aadd5 303.5px,#83bbdb 308.5px,#86bddc 313.5px,#6eb0d7 326.5px,#56a0ce 339.5px,#5da4d0 345.5px,#6caed6 351.5px,#71b1d7 360.5px,#6dafd6 365.5px,#509ccb 373.5px,#4f9bcb 378.5px,#6baed6 388.5px,#5fa6d1 419.5px,#6aaed6 432.5px,#71b2d7 446.5px,#67abd4 456.5px,#6fb0d7 466.5px,#7fb9da 483.5px,#81badb 495.5px,#7cb7da 507.5px,#82bbdb 518.5px,#79b5d9 526.5px,#4b98ca 537.5px,#4b98c9 541.5px,#84bcdb 557.5px,#86bddc 559.5px)"></div><div style="top:242px;height:2px;background:linear-gradient(90deg,#3686c0 0.5px,#4997c9 6.5px,#66abd4 13.5px,#66abd4 19.5px,#61a7d2 26.5px,#81badb 37.5px,#75b3d8 43.5px,#62a8d2 51.5px,#63a8d3 67.5px,#59a2cf 75.5px,#64a9d3 86.5px,#519ccc 101.5px,#60a7d2 110.5px,#6dafd7 117.5px,#63a8d3 133.5px,#4f9bcb 142.5px,#5aa2cf 157.5px,#5aa2cf 167.5px,#70b1d7 177.5px,#64a9d3 192.5px,#5da5d1 202.5px,#5ca4d0 208.5px,#83bbdb 222.5px,#7db8da 229.5px,#61a7d2 240.5px,#64a9d3 258.5px,#4e9acb 267.5px,#65aad3 280.5px,#65aad4 291.5px,#58a1cf 298.5px,#6dafd6 304.5px,#81badb 309.5px,#79b6d9 321.5px,#5ca3d0 334.5px,#57a0ce 343.5px,#66abd4 352.5px,#71b2d7 363.5px,#529dcc 374.5px,#56a0ce 379.5px,#70b1d7 388.5px,#61a7d2 405.5px,#63a8d3 423.5px,#74b3d8 444.5px,#65aad3 455.5px,#72b2d8 477.5px,#82bbdb 488.5px,#84bcdb 496.5px,#7bb7d9 507.5px,#7db8da 517.5px,#6dafd6 529.5px,#539ecd 538.5px,#58a1cf 543.5px,#8bc0dd 557.5px,#8dc1dd 559.5px)"></div><div style="top:244px;height:2px;background:linear-gradient(90deg,#3888c1 0.5px,#4493c7 5.5px,#67abd4 13.5px,#6baed6 18.5px,#60a7d2 26.5px,#74b3d8 32.5px,#85bcdc 37.5px,#7eb9da 42.5px,#68acd5 50.5px,#66abd4 61.5px,#5da5d1 76.5px,#65aad3 87.5px,#4f9bcb 102.5px,#5ca3d0 109.5px,#6baed6 116.5px,#69add5 127.5px,#65aad3 134.5px,#509ccb 143.5px,#5ca3d0 157.5px,#5ca3d0 168.5px,#6fb0d7 177.5px,#60a7d2 192.5px,#59a2cf 206.5px,#82bbdb 222.5px,#80b9da 230.5px,#64a9d3 239.5px,#63a9d3 258.5px,#4f9bcb 266.5px,#5ca3d0 272.5px,#6aadd5 278.5px,#5aa2cf 299.5px,#7ab6d9 309.5px,#75b4d8 321.5px,#58a1cf 332.5px,#5ca3d0 345.5px,#6dafd6 359.5px,#6fb0d7 364.5px,#56a0ce 373.5px,#5ca3d0 379.5px,#6fb0d7 387.5px,#5fa6d1 402.5px,#63a9d3 416.5px,#63a9d3 425.5px,#78b5d9 443.5px,#62a8d2 456.5px,#6aaed6 477.5px,#7eb9da 487.5px,#87bddc 494.5px,#76b4d8 507.5px,#78b5d9 516.5px,#67abd4 532.5px,#5ea5d1 540.5px,#75b4d8 549.5px,#8fc2de 558.5px,#91c3de 559.5px)"></div><div style="top:246px;height:2px;background:linear-gradient(90deg,#3e8ec4 0.5px,#4896c8 5.5px,#71b2d7 15.5px,#6dafd6 20.5px,#63a9d3 27.5px,#87bddc 38.5px,#78b5d9 45.5px,#68acd5 54.5px,#62a8d2 70.5px,#66abd4 90.5px,#4c99ca 102.5px,#57a0ce 108.5px,#6aadd5 115.5px,#68acd5 126.5px,#68acd5 135.5px,#539dcc 143.5px,#60a7d2 157.5px,#5da5d1 168.5px,#6dafd7 178.5px,#5ca3d0 192.5px,#56a0ce 205.5px,#7db8da 219.5px,#82bbdb 230.5px,#64a9d3 239.5px,#5fa6d1 259.5px,#529dcc 266.5px,#71b2d7 277.5px,#5da4d0 293.5px,#5ea5d1 300.5px,#76b4d8 308.5px,#6baed6 322.5px,#519ccc 331.5px,#61a7d2 350.5px,#68acd5 357.5px,#71b1d7 362.5px,#5aa3cf 372.5px,#62a8d2 380.5px,#6caed6 388.5px,#5da4d0 400.5px,#68acd5 414.5px,#61a7d2 424.5px,#74b3d8 436.5px,#79b6d9 444.5px,#61a7d2 456.5px,#63a8d3 476.5px,#85bcdc 492.5px,#7db8da 500.5px,#71b2d7 508.5px,#6dafd6 518.5px,#6dafd7 527.5px,#69add5 540.5px,#90c2de 559.5px)"></div><div style="top:248px;height:2px;background:linear-gradient(90deg,#4695c8 0.5px,#519ccc 6.5px,#79b5d9 15.5px,#77b5d9 19.5px,#68acd5 25.5px,#6eb0d7 30.5px,#83bbdb 37.5px,#7bb7d9 44.5px,#6baed6 55.5px,#66abd4 74.5px,#6dafd6 90.5px,#4b98ca 102.5px,#549ecd 107.5px,#68acd5 114.5px,#68acd5 127.5px,#6dafd6 135.5px,#57a0ce 144.5px,#66abd4 156.5px,#64a9d3 170.5px,#6dafd7 179.5px,#59a2cf 190.5px,#549fcd 205.5px,#77b5d9 217.5px,#81badb 229.5px,#71b2d7 234.5px,#62a8d2 239.5px,#5ca3d0 261.5px,#5aa3cf 267.5px,#77b5d9 276.5px,#70b1d7 281.5px,#5fa6d1 289.5px,#60a7d2 299.5px,#75b4d8 308.5px,#63a8d3 323.5px,#4b98ca 330.5px,#56a0ce 336.5px,#65aad3 343.5px,#65aad3 354.5px,#71b1d7 361.5px,#5da4d0 371.5px,#66aad4 387.5px,#5ca4d0 399.5px,#6caed6 413.5px,#61a7d2 425.5px,#71b2d7 434.5px,#7bb7d9 443.5px,#5da5d1 459.5px,#60a7d2 477.5px,#81badb 493.5px,#6caed6 509.5px,#66aad4 522.5px,#72b2d8 531.5px,#73b2d8 540.5px,#8dc0dd 559.5px)"></div><div style="top:250px;height:2px;background:linear-gradient(90deg,#4f9bcb 0.5px,#56a0ce 6.5px,#7eb9da 15.5px,#7db8da 19.5px,#6dafd7 26.5px,#7db8da 38.5px,#6eb0d7 54.5px,#65aad4 69.5px,#74b3d8 89.5px,#67abd4 94.5px,#4d9aca 101.5px,#539ecd 106.5px,#68acd5 113.5px,#69add5 128.5px,#71b1d7 135.5px,#5ca4d0 144.5px,#6dafd7 155.5px,#6aaed6 172.5px,#6eb0d7 180.5px,#57a0ce 190.5px,#57a0ce 205.5px,#77b5d9 218.5px,#7cb7da 229.5px,#5fa6d1 239.5px,#5aa2cf 250.5px,#61a7d2 266.5px,#7bb7d9 275.5px,#71b1d7 281.5px,#5fa6d1 290.5px,#65aad4 299.5px,#78b5d9 307.5px,#61a7d2 323.5px,#4997c9 330.5px,#4e9acb 334.5px,#69add5 342.5px,#6aadd5 355.5px,#71b1d7 361.5px,#5fa6d1 369.5px,#61a7d2 384.5px,#5aa2cf 396.5px,#6baed6 413.5px,#62a8d2 426.5px,#78b5d9 438.5px,#71b2d7 449.5px,#5ba3d0 462.5px,#5ea5d1 478.5px,#7db8da 493.5px,#71b1d7 501.5px,#68acd5 509.5px,#63a9d3 521.5px,#7bb7d9 531.5px,#7bb7d9 540.5px,#89bfdd 559.5px)"></div><div style="top:252px;height:2px;background:linear-gradient(90deg,#549ecd 0.5px,#5da4d0 7.5px,#81badb 15.5px,#81badb 19.5px,#73b2d8 26.5px,#73b2d8 42.5px,#6aaed6 59.5px,#63a9d3 68.5px,#79b6d9 88.5px,#69add5 94.5px,#529dcc 100.5px,#56a0ce 105.5px,#69add5 113.5px,#6baed6 129.5px,#72b2d8 135.5px,#60a7d2 144.5px,#75b3d8 155.5px,#70b1d7 173.5px,#71b2d7 180.5px,#58a1cf 189.5px,#5da4d0 205.5px,#75b4d8 217.5px,#75b4d8 228.5px,#5da4d0 238.5px,#58a1cf 247.5px,#559fcd 254.5px,#6baed6 267.5px,#7cb7da 274.5px,#70b1d7 281.5px,#60a7d2 291.5px,#6aaed6 299.5px,#7ab6d9 305.5px,#60a7d2 324.5px,#4c99ca 330.5px,#509ccb 334.5px,#6caed6 342.5px,#6eb0d7 355.5px,#6eb0d7 361.5px,#5da5d1 369.5px,#64a9d3 378.5px,#559fcd 391.5px,#68acd5 406.5px,#66abd4 427.5px,#75b4d8 436.5px,#6eb0d7 452.5px,#5ca3d0 464.5px,#5ea5d1 481.5px,#77b5d9 494.5px,#64a9d3 506.5px,#61a7d2 521.5px,#83bbdb 530.5px,#81badb 543.5px,#82bbdb 557.5px,#84bcdb 559.5px)"></div><div style="top:254px;height:2px;background:linear-gradient(90deg,#559fcd 0.5px,#5fa6d1 7.5px,#7fb9da 15.5px,#79b6d9 21.5px,#6eb0d7 35.5px,#6dafd6 47.5px,#71b2d7 56.5px,#5fa6d1 67.5px,#7ab6d9 87.5px,#71b2d7 92.5px,#57a0ce 99.5px,#5ca3d0 104.5px,#69add5 112.5px,#72b2d8 132.5px,#6eb0d7 138.5px,#63a9d3 144.5px,#77b5d9 154.5px,#76b4d8 175.5px,#75b4d8 180.5px,#5ca4d0 189.5px,#66abd4 205.5px,#75b3d8 217.5px,#72b2d8 226.5px,#59a2cf 237.5px,#56a0ce 246.5px,#509ccb 252.5px,#6eb0d7 266.5px,#7db8da 272.5px,#61a7d2 290.5px,#66aad4 296.5px,#7db8da 304.5px,#6dafd6 318.5px,#66aad4 324.5px,#539dcc 331.5px,#5aa3cf 336.5px,#6dafd6 343.5px,#6eb0d7 359.5px,#5ca3d0 368.5px,#67abd4 376.5px,#519ccc 388.5px,#5ca3d0 395.5px,#6dafd6 403.5px,#66aad4 416.5px,#70b1d7 429.5px,#75b4d8 435.5px,#6aadd5 444.5px,#6fb0d7 452.5px,#5da5d1 465.5px,#5ea5d1 474.5px,#5aa2cf 482.5px,#71b1d7 494.5px,#5fa6d1 506.5px,#5fa6d1 515.5px,#61a7d2 521.5px,#8cc0dd 530.5px,#7ab6d9 552.5px,#7db8da 559.5px)"></div><div style="top:256px;height:2px;background:linear-gradient(90deg,#529dcc 0.5px,#63a8d3 8.5px,#79b6d9 16.5px,#70b1d7 32.5px,#65aad3 39.5px,#76b4d8 55.5px,#5ca3d0 67.5px,#6aaed6 76.5px,#78b5d9 88.5px,#65aad4 95.5px,#5ca3d0 100.5px,#6aadd5 109.5px,#6aaed6 121.5px,#72b2d8 136.5px,#65aad4 145.5px,#76b4d8 156.5px,#79b6d9 167.5px,#79b6d9 175.5px,#7ab6d9 180.5px,#63a9d3 188.5px,#6dafd6 203.5px,#78b5d9 209.5px,#6eb0d7 225.5px,#56a0ce 236.5px,#549ecd 245.5px,#4f9bcb 252.5px,#76b4d8 267.5px,#7db8da 272.5px,#68acd5 283.5px,#5fa6d1 293.5px,#7db8da 303.5px,#6dafd7 316.5px,#6eb0d7 323.5px,#59a2cf 332.5px,#6dafd6 349.5px,#6dafd6 357.5px,#58a1cf 366.5px,#63a8d3 372.5px,#68acd5 377.5px,#509ccb 387.5px,#57a0ce 393.5px,#6fb0d7 401.5px,#63a8d3 413.5px,#78b5d9 433.5px,#64a9d3 443.5px,#6fb0d7 454.5px,#60a7d2 464.5px,#61a7d2 474.5px,#559fcd 482.5px,#6baed6 495.5px,#5aa2cf 505.5px,#5fa6d1 515.5px,#63a8d3 521.5px,#8dc1dd 529.5px,#90c2de 534.5px,#7db8da 543.5px,#75b4d8 559.5px)"></div><div style="top:258px;height:2px;background:linear-gradient(90deg,#4f9bcb 0.5px,#70b1d7 15.5px,#6dafd7 31.5px,#62a8d2 39.5px,#71b2d7 49.5px,#7bb7d9 55.5px,#59a2cf 68.5px,#64a9d3 75.5px,#75b4d8 87.5px,#61a7d2 99.5px,#6dafd6 108.5px,#64a9d3 117.5px,#71b2d7 132.5px,#6aadd5 141.5px,#67abd4 148.5px,#7eb9da 165.5px,#77b5d9 172.5px,#7eb9da 180.5px,#6baed6 188.5px,#75b4d8 202.5px,#81badb 208.5px,#6fb0d7 218.5px,#63a8d3 228.5px,#56a0ce 236.5px,#539ecd 245.5px,#519ccc 251.5px,#75b4d8 266.5px,#7db8da 271.5px,#66abd4 282.5px,#5ba3d0 293.5px,#7cb7da 303.5px,#73b2d8 309.5px,#6caed6 315.5px,#71b2d7 323.5px,#5fa6d1 333.5px,#68acd5 350.5px,#67abd4 357.5px,#549ecd 366.5px,#6aaed6 376.5px,#509ccb 388.5px,#5fa6d1 395.5px,#70b1d7 402.5px,#63a8d3 412.5px,#7ab6d9 432.5px,#61a7d2 442.5px,#6fb0d7 454.5px,#64a9d3 465.5px,#66aad4 473.5px,#519ccc 482.5px,#69add5 495.5px,#56a0ce 505.5px,#5fa6d1 516.5px,#67abd4 522.5px,#91c3de 530.5px,#91c3de 534.5px,#79b6d9 543.5px,#71b1d7 559.5px)"></div><div style="top:260px;height:2px;background:linear-gradient(90deg,#4d9aca 0.5px,#67abd4 11.5px,#6baed6 30.5px,#61a7d2 39.5px,#72b2d8 49.5px,#7db8da 55.5px,#6fb0d7 61.5px,#57a0ce 68.5px,#5aa3cf 73.5px,#73b2d8 86.5px,#6baed6 95.5px,#6dafd6 102.5px,#70b1d7 108.5px,#5fa6d1 116.5px,#6fb0d7 139.5px,#65aad3 148.5px,#74b3d8 157.5px,#81badb 164.5px,#78b5d9 173.5px,#7fb9da 180.5px,#75b3d8 189.5px,#79b6d9 201.5px,#86bddc 207.5px,#7ab6d9 212.5px,#6aadd5 218.5px,#57a0ce 235.5px,#559fcd 244.5px,#549ecd 250.5px,#7bb7d9 270.5px,#559fcd 292.5px,#62a8d2 297.5px,#79b6d9 303.5px,#73b2d8 308.5px,#68acd5 314.5px,#71b2d7 323.5px,#60a7d2 336.5px,#5ea5d1 348.5px,#63a9d3 355.5px,#529dcc 366.5px,#6aaed6 376.5px,#61a7d2 381.5px,#519ccc 388.5px,#6aaed6 402.5px,#63a8d3 412.5px,#74b3d8 425.5px,#7cb7da 431.5px,#69add5 438.5px,#60a7d2 443.5px,#6fb0d7 455.5px,#69add5 465.5px,#6caed6 472.5px,#519ccc 481.5px,#58a1cf 487.5px,#6aadd5 495.5px,#57a0ce 506.5px,#6baed6 522.5px,#8dc1dd 530.5px,#8bc0dd 535.5px,#79b6d9 543.5px,#72b2d8 554.5px,#6eb0d7 559.5px)"></div><div style="top:262px;height:1px;background:linear-gradient(90deg,#4f9bcb 0.5px,#66abd4 10.5px,#68acd5 30.5px,#61a7d2 39.5px,#72b2d8 49.5px,#7db8da 56.5px,#72b2d8 61.5px,#56a0ce 69.5px,#5da5d1 76.5px,#75b4d8 89.5px,#72b2d8 102.5px,#72b2d8 107.5px,#5ca4d0 116.5px,#6caed6 137.5px,#69add5 143.5px,#64a9d3 150.5px,#7ab6d9 159.5px,#84bcdb 164.5px,#75b4d8 173.5px,#7db8da 182.5px,#7ab6d9 200.5px,#89bedc 207.5px,#75b4d8 213.5px,#65aad4 219.5px,#57a0ce 234.5px,#57a0ce 244.5px,#58a1cf 250.5px,#6aaed6 259.5px,#79b5d9 270.5px,#519ccc 292.5px,#5fa6d1 297.5px,#77b5d9 303.5px,#75b4d8 307.5px,#65aad4 314.5px,#6caed6 325.5px,#57a0ce 346.5px,#5da5d1 355.5px,#539ecd 366.5px,#69add5 377.5px,#529dcc 388.5px,#66abd4 402.5px,#65aad4 418.5px,#7ab6d9 431.5px,#6caed6 437.5px,#60a7d2 443.5px,#6fb0d7 457.5px,#6caed6 465.5px,#72b2d8 471.5px,#4f9bcb 481.5px,#58a1cf 487.5px,#6dafd7 495.5px,#58a1cf 506.5px,#72b2d8 523.5px,#8abfdd 531.5px,#84bcdb 537.5px,#7cb7da 544.5px,#77b5d9 552.5px,#6fb0d7 559.5px)"></div><div style="top:263px;height:1px;background:linear-gradient(90deg,#519ccc 0.5px,#65aad4 9.5px,#66abd4 29.5px,#5fa6d1 39.5px,#74b3d8 51.5px,#7cb7da 57.5px,#65aad4 64.5px,#529dcc 70.5px,#5ca4d0 77.5px,#74b3d8 89.5px,#74b3d8 106.5px,#58a1cf 116.5px,#5da5d1 131.5px,#6aaed6 140.5px,#63a8d3 150.5px,#79b5d9 159.5px,#82bbdb 165.5px,#72b2d8 173.5px,#7ab6d9 187.5px,#7cb7da 201.5px,#87bddc 207.5px,#74b3d8 213.5px,#61a7d2 219.5px,#56a0ce 234.5px,#57a0ce 244.5px,#5aa2cf 250.5px,#69add5 258.5px,#74b3d8 271.5px,#4d99ca 292.5px,#60a7d2 298.5px,#74b3d8 303.5px,#72b2d8 307.5px,#63a8d3 314.5px,#68acd5 326.5px,#539ecd 346.5px,#58a1cf 356.5px,#549fcd 367.5px,#66abd4 377.5px,#519ccc 389.5px,#63a8d3 402.5px,#64a9d3 421.5px,#79b5d9 431.5px,#5fa6d1 443.5px,#6dafd7 458.5px,#6dafd7 466.5px,#72b2d8 471.5px,#4e9acb 481.5px,#5ca4d0 488.5px,#6dafd7 495.5px,#65aad4 500.5px,#58a1cf 506.5px,#75b4d8 524.5px,#87bddc 531.5px,#7ab6d9 543.5px,#7ab6d9 551.5px,#6dafd7 559.5px)"></div><div style="top:264px;height:1px;background:linear-gradient(90deg,#529dcc 0.5px,#63a8d3 9.5px,#64a9d3 21.5px,#5fa6d1 31.5px,#5ba3d0 39.5px,#6dafd7 51.5px,#77b5d9 57.5px,#66abd4 63.5px,#4e9acb 70.5px,#539ecd 76.5px,#75b4d8 91.5px,#6fb0d7 106.5px,#529dcc 117.5px,#519ccc 129.5px,#66abd4 141.5px,#61a7d2 151.5px,#77b5d9 160.5px,#7db8da 165.5px,#6caed6 174.5px,#79b5d9 193.5px,#79b5d9 201.5px,#82bbdb 207.5px,#6fb0d7 213.5px,#5aa2cf 221.5px,#519ccc 233.5px,#549fcd 244.5px,#58a1cf 250.5px,#68acd5 258.5px,#6caed6 272.5px,#4896c8 291.5px,#56a0ce 297.5px,#71b1d7 304.5px,#5ca4d0 315.5px,#61a7d2 331.5px,#4e9acb 345.5px,#529dcc 361.5px,#57a0ce 370.5px,#61a7d2 378.5px,#4d99ca 389.5px,#5ca4d0 403.5px,#5ca4d0 421.5px,#74b3d8 430.5px,#66abd4 437.5px,#5ba3d0 445.5px,#69add5 458.5px,#6caed6 466.5px,#6fb0d7 471.5px,#57a0ce 477.5px,#4a98c9 481.5px,#5ba3d0 488.5px,#6dafd7 495.5px,#61a7d2 501.5px,#56a0ce 506.5px,#7fb9da 532.5px,#77b5d9 542.5px,#7ab6d9 549.5px,#6aaed6 559.5px)"></div><div style="top:265px;height:2px;background:linear-gradient(90deg,#539dcc 0.5px,#60a7d2 9.5px,#5ca4d0 28.5px,#559fcd 39.5px,#6aaed6 54.5px,#6caed6 60.5px,#4795c8 71.5px,#4e9acb 77.5px,#78b5d9 94.5px,#64a9d3 108.5px,#4695c7 119.5px,#4291c6 128.5px,#61a7d2 141.5px,#62a8d2 153.5px,#75b4d8 165.5px,#62a8d2 175.5px,#71b2d7 194.5px,#73b2d8 202.5px,#7ab6d9 207.5px,#539ecd 221.5px,#4b98ca 234.5px,#519ccc 244.5px,#56a0ce 250.5px,#63a9d3 257.5px,#5fa6d1 274.5px,#4191c5 291.5px,#509ccb 297.5px,#68acd5 304.5px,#61a7d2 309.5px,#539ecd 316.5px,#5ca4d0 333.5px,#4896c8 345.5px,#58a1cf 379.5px,#4795c8 389.5px,#549fcd 403.5px,#539dcc 415.5px,#539dcc 421.5px,#6caed6 430.5px,#5ba3d0 439.5px,#56a0ce 447.5px,#66aad4 457.5px,#67abd4 466.5px,#68acd5 472.5px,#4795c8 480.5px,#4a98c9 484.5px,#6baed6 494.5px,#6aaed6 498.5px,#559fcd 506.5px,#5fa6d1 513.5px,#78b5d9 531.5px,#72b2d8 541.5px,#77b5d9 549.5px,#68acd5 559.5px)"></div><div style="top:267px;height:1px;background:linear-gradient(90deg,#60a7d2 0.5px,#68acd5 10.5px,#63a8d3 26.5px,#58a1cf 38.5px,#65aad4 50.5px,#74b3d8 59.5px,#5aa2cf 67.5px,#4b98ca 72.5px,#549fcd 79.5px,#84bcdb 93.5px,#7fb9da 99.5px,#4191c6 122.5px,#4090c5 129.5px,#63a8d3 140.5px,#74b3d8 161.5px,#74b3d8 167.5px,#61a7d2 176.5px,#75b4d8 194.5px,#7ab6d9 209.5px,#57a0ce 221.5px,#4e9acb 234.5px,#56a0ce 246.5px,#66abd4 256.5px,#5da5d1 274.5px,#4594c7 291.5px,#5ba3d0 299.5px,#69add5 305.5px,#5ba3d0 312.5px,#539ecd 319.5px,#63a8d3 332.5px,#4e9acb 344.5px,#529dcc 357.5px,#5da5d1 367.5px,#549fcd 382.5px,#4a98c9 390.5px,#57a0ce 403.5px,#57a0ce 413.5px,#519ccc 420.5px,#71b1d7 430.5px,#5ca4d0 440.5px,#58a1cf 447.5px,#6aaed6 457.5px,#6aaed6 466.5px,#71b1d7 471.5px,#4b98ca 480.5px,#519ccc 484.5px,#77b5d9 494.5px,#75b4d8 498.5px,#5da5d1 506.5px,#68acd5 513.5px,#7db8da 525.5px,#7ab6d9 535.5px,#7db8da 543.5px,#7db8da 550.5px,#71b1d7 559.5px)"></div><div style="top:268px;height:1px;background:linear-gradient(90deg,#72b2d8 0.5px,#7ab6d9 9.5px,#77b5d9 21.5px,#65aad4 37.5px,#6caed6 48.5px,#84bcdb 58.5px,#7cb7da 63.5px,#5ca4d0 70.5px,#5aa2cf 76.5px,#71b1d7 84.5px,#95c5df 92.5px,#95c5df 97.5px,#6caed6 111.5px,#4997c9 123.5px,#4a98c9 129.5px,#71b1d7 141.5px,#7db8da 157.5px,#81badb 167.5px,#6aaed6 176.5px,#82bbdb 195.5px,#85bcdc 208.5px,#60a7d2 222.5px,#56a0ce 235.5px,#65aad4 250.5px,#6fb0d7 257.5px,#5da5d1 277.5px,#4e9acb 291.5px,#6fb0d7 305.5px,#57a0ce 318.5px,#63a8d3 326.5px,#6caed6 332.5px,#57a0ce 344.5px,#5aa2cf 356.5px,#69add5 365.5px,#57a0ce 384.5px,#539ecd 391.5px,#63a8d3 406.5px,#5ba3d0 415.5px,#58a1cf 420.5px,#7db8da 430.5px,#71b1d7 436.5px,#60a7d2 445.5px,#6dafd7 452.5px,#79b5d9 458.5px,#79b5d9 466.5px,#7cb7da 472.5px,#5aa2cf 479.5px,#5aa2cf 483.5px,#89bedc 493.5px,#8cc0dd 497.5px,#6fb0d7 506.5px,#74b3d8 511.5px,#8cc0dd 520.5px,#92c4de 530.5px,#8cc0dd 539.5px,#92c4de 547.5px,#85bcdc 559.5px)"></div><div style="top:269px;height:1px;background:linear-gradient(90deg,#95c5df 0.5px,#95c5df 22.5px,#81badb 36.5px,#89bedc 48.5px,#a0cbe2 57.5px,#9cc9e1 63.5px,#75b4d8 71.5px,#75b4d8 77.5px,#8dc1dd 84.5px,#aed1e7 91.5px,#b3d3e8 96.5px,#8fc2de 110.5px,#65aad4 120.5px,#5ca4d0 127.5px,#6dafd7 133.5px,#8cc0dd 140.5px,#9cc9e1 153.5px,#95c5df 162.5px,#94c4df 169.5px,#81badb 176.5px,#9cc9e1 198.5px,#9ac8e0 208.5px,#6fb0d7 224.5px,#64a9d3 235.5px,#74b3d8 250.5px,#7db8da 256.5px,#6dafd7 272.5px,#5ba3d0 290.5px,#6fb0d7 300.5px,#7ab6d9 306.5px,#60a7d2 318.5px,#69add5 325.5px,#7ab6d9 331.5px,#72b2d8 336.5px,#65aad4 342.5px,#64a9d3 354.5px,#7ab6d9 364.5px,#5fa6d1 389.5px,#77b5d9 409.5px,#69add5 419.5px,#77b5d9 423.5px,#94c4df 429.5px,#92c4de 433.5px,#77b5d9 443.5px,#7db8da 449.5px,#92c4de 456.5px,#92c4de 466.5px,#97c6df 471.5px,#89bedc 475.5px,#71b1d7 480.5px,#74b3d8 483.5px,#a5cde3 492.5px,#aacfe5 497.5px,#91c3de 507.5px,#a0cbe2 514.5px,#b0d2e7 525.5px,#aed1e7 541.5px,#add0e6 550.5px,#a8cee4 559.5px)"></div><div style="top:270px;height:1px;background:linear-gradient(90deg,#b5d4e9 0.5px,#b0d2e7 25.5px,#a3cce3 38.5px,#a8cee4 48.5px,#bed8ec 58.5px,#b9d6ea 63.5px,#97c6df 73.5px,#9fcae1 80.5px,#caddf0 91.5px,#cadef0 98.5px,#a9cfe5 112.5px,#7fb9da 123.5px,#81badb 129.5px,#a9cfe5 139.5px,#bad6eb 152.5px,#aed1e7 163.5px,#abd0e6 170.5px,#9dcae1 177.5px,#b4d3e9 199.5px,#aacfe5 212.5px,#7fb9da 233.5px,#91c3de 250.5px,#97c6df 256.5px,#81badb 273.5px,#72b2d8 285.5px,#77b5d9 293.5px,#8dc1dd 305.5px,#82bbdb 312.5px,#74b3d8 319.5px,#7cb7da 324.5px,#94c4df 331.5px,#8dc1dd 335.5px,#7db8da 343.5px,#7ab6d9 354.5px,#95c5df 363.5px,#8fc2de 369.5px,#75b4d8 385.5px,#79b5d9 391.5px,#97c6df 407.5px,#8fc2de 414.5px,#8abfdd 419.5px,#b2d2e8 429.5px,#abd0e6 435.5px,#9ac8e0 444.5px,#a3cce3 450.5px,#b2d2e8 457.5px,#b3d3e8 468.5px,#b2d2e8 473.5px,#97c6df 480.5px,#a0cbe2 484.5px,#c6dbef 492.5px,#c7dcef 499.5px,#b7d4ea 507.5px,#c1d9ed 514.5px,#cee0f2 526.5px,#c8dcf0 559.5px)"></div><div style="top:271px;height:1px;background:linear-gradient(90deg,#c4daee 0.5px,#c1d9ed 23.5px,#b0d2e7 40.5px,#b8d5ea 49.5px,#cbdef1 58.5px,#c4daee 65.5px,#abd0e6 72.5px,#abd0e6 79.5px,#c1d9ed 85.5px,#d7e6f5 93.5px,#c7dbef 108.5px,#95c5df 123.5px,#97c6df 129.5px,#bcd7eb 140.5px,#cadef0 152.5px,#bad6eb 163.5px,#b9d6ea 170.5px,#add0e6 178.5px,#c3daee 200.5px,#b0d2e7 218.5px,#9ac8e0 235.5px,#aed1e7 255.5px,#9fcae1 270.5px,#8fc2de 278.5px,#91c3de 290.5px,#a3cce3 308.5px,#8cc0dd 319.5px,#94c4df 324.5px,#abd0e6 331.5px,#97c6df 347.5px,#97c6df 354.5px,#afd1e7 364.5px,#99c7e0 378.5px,#91c3de 388.5px,#aed1e7 406.5px,#a9cfe5 413.5px,#a4cce3 419.5px,#c6dbef 429.5px,#bfd8ed 435.5px,#afd1e7 445.5px,#bdd7ec 452.5px,#c6dbef 458.5px,#c4daee 467.5px,#c3daee 473.5px,#add0e6 480.5px,#b4d3e9 484.5px,#cee0f2 490.5px,#d6e6f4 496.5px,#caddf0 509.5px,#dbe9f6 527.5px,#d2e3f3 550.5px,#d3e3f3 559.5px)"></div><div style="top:272px;height:1px;background:linear-gradient(90deg,#c4daee 0.5px,#bfd8ed 24.5px,#afd1e7 40.5px,#b5d4e9 49.5px,#caddf0 57.5px,#c7dbef 64.5px,#aacfe5 73.5px,#abd0e6 80.5px,#d3e4f3 91.5px,#d4e4f4 98.5px,#bfd8ed 111.5px,#99c7e0 122.5px,#99c7e0 128.5px,#bfd8ed 142.5px,#cbdef1 152.5px,#b7d4ea 162.5px,#b5d4e9 171.5px,#add0e6 179.5px,#b9d6ea 192.5px,#c3daee 200.5px,#a4cce3 236.5px,#b8d5ea 254.5px,#a6cee4 270.5px,#97c6df 278.5px,#a5cde3 301.5px,#a6cee4 310.5px,#95c5df 320.5px,#a1cbe2 325.5px,#b4d3e9 331.5px,#a1cbe2 352.5px,#b2d2e8 359.5px,#bad6eb 365.5px,#a4cce3 376.5px,#a1cbe2 390.5px,#b5d4e9 409.5px,#a9cfe5 418.5px,#bfd8ed 425.5px,#c8dcf0 430.5px,#b3d3e8 446.5px,#c7dcef 457.5px,#c6dbef 468.5px,#c1d9ed 474.5px,#afd1e7 480.5px,#b8d5ea 484.5px,#d0e2f2 490.5px,#d7e6f5 497.5px,#cddff1 510.5px,#dceaf6 528.5px,#d3e3f3 548.5px,#d2e3f3 558.5px,#d3e3f3 559.5px)"></div><div style="top:273px;height:1px;background:linear-gradient(90deg,#afd1e7 0.5px,#add0e6 22.5px,#99c7e0 43.5px,#a4cce3 50.5px,#bad6eb 59.5px,#add0e6 66.5px,#91c3de 74.5px,#92c4de 80.5px,#c9ddf0 92.5px,#c7dbef 99.5px,#aacfe5 112.5px,#82bbdb 122.5px,#84bcdb 128.5px,#aacfe5 140.5px,#bfd8ed 151.5px,#b4d3e9 156.5px,#a4cce3 162.5px,#a4cce3 172.5px,#9dcae1 180.5px,#a5cde3 191.5px,#b4d3e9 199.5px,#aacfe5 211.5px,#a3cce3 229.5px,#a4cce3 239.5px,#b5d4e9 252.5px,#a6cee4 269.5px,#91c3de 277.5px,#a4cce3 295.5px,#a0cbe2 311.5px,#91c3de 320.5px,#9dcae1 325.5px,#b2d2e8 331.5px,#a1cbe2 353.5px,#bad6eb 363.5px,#b0d2e7 369.5px,#a3cce3 377.5px,#a1cbe2 390.5px,#b0d2e7 408.5px,#a4cce3 418.5px,#b4d3e9 424.5px,#bfd8ed 429.5px,#a9cfe5 446.5px,#bdd7ec 458.5px,#b7d4ea 467.5px,#b3d3e8 474.5px,#a3cce3 480.5px,#b0d2e7 485.5px,#caddf0 490.5px,#cfe1f2 498.5px,#c6dbef 511.5px,#d4e4f4 529.5px,#c8dcf0 547.5px,#c1d9ed 553.5px,#c7dbef 559.5px)"></div><div style="top:274px;height:1px;background:linear-gradient(90deg,#77b5d9 0.5px,#79b5d9 10.5px,#79b5d9 20.5px,#61a7d2 40.5px,#65aad4 48.5px,#87bddc 58.5px,#82bbdb 63.5px,#5fa6d1 72.5px,#5aa2cf 79.5px,#69add5 84.5px,#9cc9e1 92.5px,#9dcae1 97.5px,#81badb 110.5px,#58a1cf 120.5px,#57a0ce 127.5px,#9ac8e0 151.5px,#8abfdd 156.5px,#74b3d8 161.5px,#77b5d9 171.5px,#71b1d7 180.5px,#72b2d8 189.5px,#8dc1dd 199.5px,#7fb9da 208.5px,#87bddc 218.5px,#87bddc 237.5px,#a3cce3 250.5px,#97c6df 267.5px,#77b5d9 277.5px,#91c3de 294.5px,#87bddc 304.5px,#85bcdc 312.5px,#7ab6d9 320.5px,#85bcdc 325.5px,#a1cbe2 331.5px,#94c4df 348.5px,#91c3de 353.5px,#add0e6 362.5px,#a5cde3 368.5px,#92c4de 376.5px,#92c4de 391.5px,#9ac8e0 408.5px,#89bedc 417.5px,#8fc2de 421.5px,#a4cce3 427.5px,#9fcae1 433.5px,#8abfdd 444.5px,#92c4de 451.5px,#a0cbe2 457.5px,#97c6df 468.5px,#91c3de 474.5px,#81badb 480.5px,#87bddc 483.5px,#b3d3e8 491.5px,#b8d5ea 497.5px,#a8cee4 511.5px,#bed8ec 526.5px,#b2d2e8 543.5px,#9cc9e1 552.5px,#a5cde3 559.5px)"></div><div style="top:275px;height:1px;background:linear-gradient(90deg,#3d8dc4 0.5px,#3f8fc5 21.5px,#2e7ebc 45.5px,#3e8ec4 53.5px,#4a98c9 59.5px,#3c8cc3 66.5px,#2777b8 76.5px,#2d7dbb 82.5px,#5aa2cf 92.5px,#5ba3d0 99.5px,#4a98c9 110.5px,#2d7dbb 121.5px,#3383be 129.5px,#63a8d3 151.5px,#57a0ce 156.5px,#4493c7 162.5px,#4896c8 173.5px,#4493c7 189.5px,#5ba3d0 199.5px,#519ccc 209.5px,#58a1cf 223.5px,#61a7d2 240.5px,#79b5d9 251.5px,#71b1d7 263.5px,#6fb0d7 267.5px,#539ecd 276.5px,#5ba3d0 283.5px,#6aaed6 294.5px,#5fa6d1 304.5px,#5ba3d0 314.5px,#58a1cf 322.5px,#72b2d8 329.5px,#7cb7da 333.5px,#72b2d8 347.5px,#6dafd7 353.5px,#8dc1dd 362.5px,#87bddc 367.5px,#72b2d8 374.5px,#6dafd7 387.5px,#74b3d8 397.5px,#74b3d8 409.5px,#65aad4 417.5px,#79b5d9 425.5px,#7db8da 429.5px,#68acd5 441.5px,#69add5 450.5px,#7ab6d9 458.5px,#6dafd7 467.5px,#69add5 474.5px,#5fa6d1 481.5px,#6fb0d7 485.5px,#94c4df 491.5px,#99c7e0 496.5px,#87bddc 512.5px,#a1cbe2 525.5px,#9cc9e1 538.5px,#89bedc 545.5px,#72b2d8 551.5px,#7fb9da 559.5px)"></div><div style="top:276px;height:1px;background:linear-gradient(90deg,#1c6bb0 0.5px,#2171b5 18.5px,#1460a8 47.5px,#2979b9 58.5px,#1f6eb3 65.5px,#0e58a2 76.5px,#1561a9 83.5px,#3787c0 93.5px,#3383be 107.5px,#1764ab 121.5px,#206fb4 131.5px,#4493c7 152.5px,#2a7ab9 163.5px,#2f7fbc 175.5px,#2b7bba 190.5px,#3e8ec4 199.5px,#3484bf 210.5px,#4493c7 242.5px,#539ecd 251.5px,#4f9bcb 262.5px,#4d99ca 268.5px,#3585bf 276.5px,#3c8cc3 283.5px,#4b98ca 294.5px,#3d8dc4 304.5px,#3c8cc3 323.5px,#58a1cf 333.5px,#56a0ce 347.5px,#519ccc 353.5px,#69add5 362.5px,#5fa6d1 369.5px,#529dcc 376.5px,#56a0ce 389.5px,#57a0ce 399.5px,#58a1cf 410.5px,#4e9acb 417.5px,#60a7d2 428.5px,#4e9acb 445.5px,#5ba3d0 454.5px,#60a7d2 460.5px,#56a0ce 469.5px,#4b98ca 480.5px,#57a0ce 484.5px,#7db8da 492.5px,#75b4d8 506.5px,#72b2d8 513.5px,#8abfdd 524.5px,#8abfdd 534.5px,#7db8da 542.5px,#5ca4d0 550.5px,#5fa6d1 555.5px,#65aad4 559.5px)"></div><div style="top:277px;height:1px;background:linear-gradient(90deg,#1967ad 0.5px,#2171b5 17.5px,#125ea6 47.5px,#2575b7 58.5px,#0b559f 77.5px,#125da6 83.5px,#2f7fbc 92.5px,#3383be 101.5px,#2d7dbb 109.5px,#1663aa 121.5px,#206fb4 132.5px,#3f8fc5 152.5px,#2676b8 164.5px,#2c7cba 176.5px,#2373b6 189.5px,#3989c1 200.5px,#2d7dbb 209.5px,#3b8bc2 245.5px,#3f8fc5 254.5px,#3e8ec4 268.5px,#2676b8 276.5px,#3080bd 284.5px,#3b8bc2 293.5px,#2d7dbb 305.5px,#2c7cba 322.5px,#4594c7 334.5px,#4695c8 346.5px,#3f8fc5 352.5px,#57a0ce 363.5px,#4090c5 376.5px,#4594c7 387.5px,#4b98ca 395.5px,#4896c8 404.5px,#4896c8 410.5px,#3e8ec4 417.5px,#4e9acb 428.5px,#4191c6 440.5px,#4292c6 450.5px,#539ecd 459.5px,#4594c7 471.5px,#4191c6 481.5px,#6aaed6 491.5px,#66abd4 514.5px,#7cb7da 527.5px,#74b3d8 539.5px,#4a98c9 551.5px,#549fcd 559.5px)"></div><div style="top:278px;height:1px;background:linear-gradient(90deg,#2c7cba 0.5px,#3989c1 17.5px,#2676b8 48.5px,#3a8ac2 57.5px,#3080bd 64.5px,#1f6eb3 74.5px,#1e6db2 81.5px,#4191c6 93.5px,#4695c8 105.5px,#2575b7 121.5px,#4191c6 144.5px,#4f9bcb 152.5px,#3686c0 164.5px,#3a8ac2 176.5px,#3080bd 190.5px,#4695c8 199.5px,#3888c1 210.5px,#3888c1 221.5px,#3e8ec4 237.5px,#4292c6 253.5px,#4493c7 262.5px,#4594c7 267.5px,#2979b9 277.5px,#3e8ec4 292.5px,#2c7cba 307.5px,#2a7ab9 320.5px,#3a8ac2 329.5px,#4594c7 339.5px,#4493c7 347.5px,#3f8fc5 353.5px,#549fcd 362.5px,#3d8dc4 377.5px,#4b98ca 394.5px,#4493c7 404.5px,#3d8dc4 412.5px,#3787c0 417.5px,#4493c7 428.5px,#3989c1 442.5px,#3c8cc3 451.5px,#4b98ca 459.5px,#3c8cc3 470.5px,#3b8bc2 481.5px,#60a7d2 491.5px,#5fa6d1 515.5px,#6dafd7 527.5px,#65aad4 540.5px,#4997c9 547.5px,#3d8dc4 551.5px,#4493c7 559.5px)"></div><div style="top:279px;height:1px;background:linear-gradient(90deg,#4594c7 0.5px,#529dcc 9.5px,#5aa2cf 16.5px,#4191c6 48.5px,#58a1cf 57.5px,#4896c8 64.5px,#3a8ac2 73.5px,#3787c0 81.5px,#5da5d1 94.5px,#63a8d3 105.5px,#4896c8 115.5px,#3c8cc3 122.5px,#529dcc 142.5px,#65aad4 151.5px,#57a0ce 158.5px,#4a98c9 165.5px,#519ccc 175.5px,#3e8ec4 189.5px,#4a98c9 194.5px,#5aa2cf 199.5px,#4b98ca 206.5px,#4a98c9 213.5px,#4997c9 225.5px,#56a0ce 234.5px,#529dcc 244.5px,#539ecd 260.5px,#5ba3d0 266.5px,#4b98ca 271.5px,#3989c1 276.5px,#4191c6 284.5px,#4e9acb 291.5px,#4594c7 297.5px,#3787c0 306.5px,#3484bf 318.5px,#4292c6 328.5px,#519ccc 338.5px,#529dcc 347.5px,#4d99ca 354.5px,#5fa6d1 363.5px,#4896c8 377.5px,#539ecd 387.5px,#58a1cf 394.5px,#4997c9 403.5px,#3f8fc5 411.5px,#3787c0 417.5px,#4090c5 429.5px,#3585bf 447.5px,#4594c7 456.5px,#4a98c9 460.5px,#3888c1 469.5px,#3888c1 480.5px,#4b98ca 486.5px,#5ba3d0 491.5px,#56a0ce 501.5px,#5da5d1 517.5px,#65aad4 530.5px,#5ba3d0 541.5px,#3686c0 550.5px,#3686c0 556.5px,#3989c1 559.5px)"></div><div style="top:280px;height:1px;background:linear-gradient(90deg,#549fcd 0.5px,#5fa6d1 7.5px,#6fb0d7 15.5px,#6aaed6 24.5px,#60a7d2 34.5px,#56a0ce 45.5px,#5aa2cf 50.5px,#6aaed6 57.5px,#4e9acb 69.5px,#4997c9 81.5px,#6fb0d7 96.5px,#77b5d9 105.5px,#4e9acb 119.5px,#529dcc 127.5px,#60a7d2 142.5px,#72b2d8 151.5px,#66abd4 158.5px,#5aa2cf 165.5px,#60a7d2 174.5px,#4997c9 189.5px,#5aa2cf 195.5px,#66abd4 200.5px,#539ecd 209.5px,#57a0ce 218.5px,#57a0ce 225.5px,#68acd5 234.5px,#64a9d3 250.5px,#65aad4 260.5px,#6fb0d7 266.5px,#5aa2cf 272.5px,#4a98c9 276.5px,#4e9acb 282.5px,#60a7d2 291.5px,#519ccc 299.5px,#3e8ec4 312.5px,#4997c9 325.5px,#5ca4d0 335.5px,#63a8d3 345.5px,#5aa2cf 353.5px,#6caed6 363.5px,#549fcd 378.5px,#5fa6d1 385.5px,#69add5 392.5px,#4e9acb 404.5px,#3888c1 417.5px,#3f8fc5 429.5px,#3484bf 448.5px,#4b98ca 460.5px,#3686c0 469.5px,#3888c1 480.5px,#56a0ce 490.5px,#519ccc 501.5px,#57a0ce 509.5px,#5ca4d0 517.5px,#5da5d1 534.5px,#519ccc 542.5px,#2e7ebc 551.5px,#3181bd 559.5px)"></div><div style="top:281px;height:1px;background:linear-gradient(90deg,#58a1cf 0.5px,#64a9d3 7.5px,#77b5d9 14.5px,#77b5d9 22.5px,#68acd5 31.5px,#65aad4 41.5px,#5da5d1 48.5px,#6fb0d7 56.5px,#60a7d2 62.5px,#539ecd 68.5px,#539ecd 82.5px,#7db8da 102.5px,#77b5d9 108.5px,#58a1cf 118.5px,#57a0ce 125.5px,#64a9d3 141.5px,#79b5d9 152.5px,#60a7d2 165.5px,#66abd4 174.5px,#4d99ca 188.5px,#549fcd 193.5px,#6aaed6 199.5px,#61a7d2 204.5px,#57a0ce 209.5px,#5ca4d0 218.5px,#5ca4d0 225.5px,#72b2d8 235.5px,#6aaed6 247.5px,#6aaed6 258.5px,#7ab6d9 265.5px,#72b2d8 269.5px,#549fcd 276.5px,#5aa2cf 283.5px,#68acd5 291.5px,#5aa2cf 299.5px,#4695c8 309.5px,#4594c7 317.5px,#61a7d2 336.5px,#68acd5 346.5px,#60a7d2 353.5px,#71b1d7 363.5px,#5aa2cf 379.5px,#72b2d8 390.5px,#6caed6 394.5px,#4d99ca 403.5px,#3b8bc2 413.5px,#3787c0 419.5px,#3c8cc3 430.5px,#3383be 449.5px,#4d99ca 459.5px,#3282be 470.5px,#3a8ac2 481.5px,#529dcc 490.5px,#4a98c9 500.5px,#56a0ce 510.5px,#5ba3d0 525.5px,#4f9bcb 541.5px,#2a7ab9 551.5px,#2b7bba 559.5px)"></div><div style="top:282px;height:1px;background:linear-gradient(90deg,#56a0ce 0.5px,#63a8d3 7.5px,#7ab6d9 15.5px,#75b4d8 24.5px,#68acd5 32.5px,#65aad4 42.5px,#5fa6d1 49.5px,#6dafd7 56.5px,#529dcc 66.5px,#57a0ce 83.5px,#7db8da 104.5px,#71b1d7 110.5px,#58a1cf 119.5px,#63a8d3 140.5px,#77b5d9 151.5px,#69add5 160.5px,#61a7d2 166.5px,#68acd5 174.5px,#4b98ca 188.5px,#539ecd 193.5px,#6aaed6 199.5px,#5aa2cf 206.5px,#56a0ce 211.5px,#5ca4d0 218.5px,#5da5d1 225.5px,#74b3d8 235.5px,#68acd5 251.5px,#6aaed6 258.5px,#7ab6d9 265.5px,#72b2d8 269.5px,#56a0ce 276.5px,#5aa2cf 283.5px,#66abd4 292.5px,#539ecd 301.5px,#4191c6 312.5px,#4695c8 319.5px,#5da5d1 336.5px,#64a9d3 346.5px,#5fa6d1 354.5px,#6aaed6 364.5px,#57a0ce 379.5px,#6aaed6 387.5px,#71b1d7 391.5px,#4695c8 403.5px,#3484bf 418.5px,#3888c1 431.5px,#3080bd 449.5px,#4e9acb 459.5px,#4695c8 463.5px,#3181bd 470.5px,#3d8dc4 482.5px,#519ccc 490.5px,#4695c8 500.5px,#56a0ce 509.5px,#5ba3d0 522.5px,#4997c9 542.5px,#2575b7 552.5px,#2676b8 559.5px)"></div><div style="top:283px;height:1px;background:linear-gradient(90deg,#529dcc 0.5px,#5da5d1 7.5px,#75b4d8 15.5px,#75b4d8 23.5px,#64a9d3 32.5px,#65aad4 41.5px,#5ca4d0 49.5px,#68acd5 56.5px,#4d99ca 66.5px,#56a0ce 76.5px,#5aa2cf 86.5px,#79b5d9 105.5px,#57a0ce 119.5px,#61a7d2 140.5px,#74b3d8 152.5px,#60a7d2 166.5px,#66abd4 174.5px,#4a98c9 187.5px,#4e9acb 192.5px,#68acd5 199.5px,#5ca4d0 204.5px,#4f9bcb 209.5px,#5aa2cf 219.5px,#5ca4d0 226.5px,#6fb0d7 236.5px,#60a7d2 253.5px,#6aaed6 261.5px,#72b2d8 266.5px,#519ccc 276.5px,#549fcd 284.5px,#5fa6d1 293.5px,#3e8ec4 308.5px,#3c8cc3 317.5px,#529dcc 333.5px,#5aa2cf 347.5px,#56a0ce 355.5px,#5fa6d1 365.5px,#4d99ca 379.5px,#68acd5 390.5px,#56a0ce 396.5px,#4191c6 402.5px,#3585bf 421.5px,#3787c0 433.5px,#2f7fbc 448.5px,#4292c6 455.5px,#539ecd 459.5px,#4b98ca 463.5px,#3585bf 469.5px,#3888c1 477.5px,#529dcc 490.5px,#4594c7 499.5px,#5aa2cf 509.5px,#5fa6d1 521.5px,#4695c8 543.5px,#2676b8 552.5px,#2676b8 559.5px)"></div><div style="top:284px;height:1px;background:linear-gradient(90deg,#4d99ca 0.5px,#57a0ce 7.5px,#72b2d8 17.5px,#6fb0d7 23.5px,#5fa6d1 32.5px,#60a7d2 42.5px,#58a1cf 49.5px,#60a7d2 56.5px,#4695c8 65.5px,#549fcd 76.5px,#5aa2cf 91.5px,#6fb0d7 105.5px,#549fcd 119.5px,#5ba3d0 138.5px,#6dafd7 150.5px,#63a8d3 160.5px,#5da5d1 167.5px,#63a8d3 174.5px,#4896c8 186.5px,#4896c8 191.5px,#64a9d3 199.5px,#5ca4d0 203.5px,#4a98c9 208.5px,#57a0ce 219.5px,#5ba3d0 228.5px,#66abd4 236.5px,#56a0ce 254.5px,#65aad4 265.5px,#5aa2cf 270.5px,#4695c8 277.5px,#4b98ca 286.5px,#539ecd 293.5px,#3585bf 308.5px,#3585bf 318.5px,#4695c8 332.5px,#4997c9 341.5px,#4a98c9 349.5px,#4b98ca 358.5px,#4f9bcb 369.5px,#4191c6 380.5px,#5ca4d0 390.5px,#4b98ca 397.5px,#4090c5 403.5px,#3c8cc3 414.5px,#3a8ac2 425.5px,#3888c1 437.5px,#3383be 448.5px,#4493c7 454.5px,#5ba3d0 459.5px,#549fcd 463.5px,#3b8bc2 469.5px,#3e8ec4 476.5px,#57a0ce 489.5px,#4997c9 499.5px,#63a8d3 511.5px,#66abd4 520.5px,#519ccc 537.5px,#4896c8 544.5px,#2a7ab9 553.5px,#2b7bba 559.5px)"></div><div style="top:285px;height:1px;background:linear-gradient(90deg,#4896c8 0.5px,#539ecd 8.5px,#6caed6 17.5px,#6aaed6 23.5px,#57a0ce 32.5px,#5ca4d0 42.5px,#549fcd 49.5px,#5aa2cf 56.5px,#4191c6 65.5px,#539ecd 77.5px,#56a0ce 93.5px,#68acd5 105.5px,#5aa2cf 113.5px,#529dcc 122.5px,#58a1cf 137.5px,#6aaed6 150.5px,#58a1cf 166.5px,#5fa6d1 174.5px,#4594c7 186.5px,#4997c9 192.5px,#61a7d2 199.5px,#539ecd 204.5px,#4493c7 208.5px,#4a98c9 213.5px,#549fcd 220.5px,#5ca4d0 232.5px,#5da5d1 240.5px,#4e9acb 254.5px,#5ca4d0 265.5px,#4191c6 276.5px,#4292c6 286.5px,#4a98c9 294.5px,#2f7fbc 308.5px,#3080bd 319.5px,#3f8fc5 332.5px,#4191c6 343.5px,#4493c7 360.5px,#4594c7 371.5px,#3b8bc2 380.5px,#57a0ce 391.5px,#4594c7 403.5px,#4695c8 413.5px,#3e8ec4 423.5px,#3e8ec4 436.5px,#3787c0 447.5px,#4292c6 452.5px,#66abd4 459.5px,#60a7d2 463.5px,#4493c7 469.5px,#4594c7 475.5px,#5da5d1 488.5px,#539ecd 495.5px,#4e9acb 499.5px,#6caed6 511.5px,#74b3d8 519.5px,#58a1cf 532.5px,#4f9bcb 544.5px,#3181bd 553.5px,#3181bd 559.5px)"></div><div style="top:286px;height:1px;background:linear-gradient(90deg,#4896c8 0.5px,#4d99ca 7.5px,#6aaed6 18.5px,#66abd4 24.5px,#529dcc 32.5px,#5ba3d0 42.5px,#549fcd 50.5px,#539ecd 57.5px,#3f8fc5 65.5px,#4997c9 70.5px,#56a0ce 77.5px,#529dcc 92.5px,#64a9d3 105.5px,#529dcc 119.5px,#56a0ce 135.5px,#6aaed6 150.5px,#57a0ce 165.5px,#5da5d1 174.5px,#4695c8 186.5px,#4b98ca 192.5px,#63a8d3 199.5px,#4d99ca 205.5px,#4191c6 209.5px,#58a1cf 220.5px,#5aa2cf 232.5px,#5ba3d0 240.5px,#4b98ca 254.5px,#5aa2cf 264.5px,#4191c6 277.5px,#4191c6 287.5px,#4b98ca 294.5px,#3181bd 307.5px,#3181bd 319.5px,#4090c5 331.5px,#3e8ec4 342.5px,#4695c8 371.5px,#3d8dc4 381.5px,#5aa2cf 392.5px,#4e9acb 404.5px,#4f9bcb 414.5px,#4594c7 423.5px,#4896c8 435.5px,#3c8cc3 446.5px,#4594c7 451.5px,#71b1d7 459.5px,#71b1d7 462.5px,#4e9acb 469.5px,#4e9acb 474.5px,#65aad4 488.5px,#57a0ce 496.5px,#58a1cf 501.5px,#77b5d9 511.5px,#7fb9da 518.5px,#5fa6d1 531.5px,#5aa2cf 539.5px,#549fcd 545.5px,#3888c1 553.5px,#3888c1 559.5px)"></div><div style="top:287px;height:1px;background:linear-gradient(90deg,#4b98ca 0.5px,#4d99ca 7.5px,#6caed6 18.5px,#6aaed6 23.5px,#519ccc 32.5px,#5da5d1 42.5px,#549fcd 57.5px,#4191c6 65.5px,#5ba3d0 76.5px,#549fcd 86.5px,#549fcd 93.5px,#64a9d3 104.5px,#57a0ce 121.5px,#57a0ce 133.5px,#71b1d7 149.5px,#5aa2cf 165.5px,#60a7d2 174.5px,#4d99ca 186.5px,#57a0ce 193.5px,#66abd4 198.5px,#5fa6d1 202.5px,#4594c7 208.5px,#4997c9 212.5px,#5ca4d0 218.5px,#5ba3d0 226.5px,#5ca4d0 242.5px,#529dcc 254.5px,#5da5d1 265.5px,#4b98ca 276.5px,#4695c8 286.5px,#549fcd 294.5px,#3989c1 307.5px,#3a8ac2 320.5px,#4a98c9 330.5px,#4292c6 341.5px,#4b98ca 353.5px,#4e9acb 373.5px,#4695c8 381.5px,#63a8d3 393.5px,#57a0ce 404.5px,#58a1cf 414.5px,#4d99ca 425.5px,#4e9acb 435.5px,#4090c5 446.5px,#4b98ca 451.5px,#7ab6d9 459.5px,#7cb7da 462.5px,#57a0ce 469.5px,#57a0ce 474.5px,#6caed6 486.5px,#64a9d3 493.5px,#58a1cf 498.5px,#6caed6 505.5px,#85bcdc 514.5px,#87bddc 519.5px,#64a9d3 530.5px,#5ba3d0 537.5px,#5ca4d0 545.5px,#3f8fc5 553.5px,#3e8ec4 559.5px)"></div><div style="top:288px;height:1px;background:linear-gradient(90deg,#539ecd 0.5px,#529dcc 8.5px,#72b2d8 20.5px,#68acd5 25.5px,#539ecd 31.5px,#549fcd 35.5px,#63a8d3 42.5px,#5ba3d0 56.5px,#4896c8 65.5px,#64a9d3 77.5px,#58a1cf 87.5px,#5aa2cf 93.5px,#68acd5 105.5px,#5fa6d1 119.5px,#5ca4d0 132.5px,#79b5d9 149.5px,#5da5d1 165.5px,#65aad4 174.5px,#56a0ce 186.5px,#5da5d1 192.5px,#6fb0d7 199.5px,#549fcd 205.5px,#4997c9 209.5px,#5ba3d0 215.5px,#68acd5 220.5px,#5fa6d1 232.5px,#63a8d3 243.5px,#5ba3d0 254.5px,#65aad4 264.5px,#5aa2cf 275.5px,#529dcc 286.5px,#60a7d2 295.5px,#4695c8 306.5px,#4594c7 320.5px,#56a0ce 329.5px,#4b98ca 341.5px,#58a1cf 354.5px,#58a1cf 375.5px,#539ecd 382.5px,#6aaed6 393.5px,#5da5d1 405.5px,#5fa6d1 415.5px,#529dcc 425.5px,#549fcd 435.5px,#4493c7 445.5px,#4d99ca 450.5px,#84bcdb 460.5px,#7db8da 463.5px,#5fa6d1 469.5px,#5da5d1 474.5px,#72b2d8 486.5px,#6aaed6 492.5px,#5ca4d0 498.5px,#6caed6 504.5px,#8cc0dd 514.5px,#8dc1dd 519.5px,#65aad4 530.5px,#5ca4d0 537.5px,#63a8d3 544.5px,#4b98ca 551.5px,#4493c7 556.5px,#4594c7 559.5px)"></div><div style="top:289px;height:1px;background:linear-gradient(90deg,#5ca4d0 0.5px,#549fcd 7.5px,#77b5d9 20.5px,#71b1d7 24.5px,#539ecd 31.5px,#58a1cf 36.5px,#69add5 43.5px,#61a7d2 55.5px,#4e9acb 65.5px,#61a7d2 72.5px,#6dafd7 78.5px,#5ba3d0 91.5px,#6aaed6 102.5px,#63a8d3 125.5px,#61a7d2 132.5px,#81badb 147.5px,#79b5d9 154.5px,#64a9d3 163.5px,#68acd5 176.5px,#5fa6d1 186.5px,#6dafd7 194.5px,#75b4d8 199.5px,#4f9bcb 208.5px,#549fcd 212.5px,#71b1d7 220.5px,#61a7d2 231.5px,#69add5 242.5px,#65aad4 255.5px,#6dafd7 264.5px,#64a9d3 273.5px,#64a9d3 280.5px,#5ca4d0 287.5px,#6caed6 295.5px,#529dcc 307.5px,#529dcc 321.5px,#60a7d2 330.5px,#539ecd 341.5px,#64a9d3 355.5px,#60a7d2 367.5px,#61a7d2 376.5px,#5ca4d0 383.5px,#6fb0d7 393.5px,#60a7d2 405.5px,#65aad4 415.5px,#57a0ce 425.5px,#58a1cf 435.5px,#4695c8 445.5px,#549fcd 451.5px,#84bcdb 459.5px,#85bcdc 462.5px,#64a9d3 469.5px,#61a7d2 473.5px,#77b5d9 484.5px,#74b3d8 490.5px,#5fa6d1 497.5px,#66abd4 502.5px,#87bddc 511.5px,#92c4de 518.5px,#82bbdb 523.5px,#64a9d3 531.5px,#5fa6d1 538.5px,#68acd5 545.5px,#4b98ca 553.5px,#4d99ca 559.5px)"></div><div style="top:290px;height:1px;background:linear-gradient(90deg,#63a8d3 0.5px,#58a1cf 8.5px,#7ab6d9 20.5px,#74b3d8 24.5px,#539ecd 31.5px,#58a1cf 36.5px,#6dafd7 43.5px,#6aaed6 53.5px,#529dcc 64.5px,#5ba3d0 69.5px,#75b4d8 77.5px,#6caed6 83.5px,#5da5d1 90.5px,#6dafd7 101.5px,#6aaed6 124.5px,#63a8d3 130.5px,#81badb 144.5px,#87bddc 150.5px,#66abd4 163.5px,#68acd5 179.5px,#69add5 189.5px,#7cb7da 198.5px,#68acd5 203.5px,#539ecd 208.5px,#5aa2cf 212.5px,#75b4d8 219.5px,#72b2d8 224.5px,#63a8d3 231.5px,#6caed6 243.5px,#6dafd7 257.5px,#71b1d7 264.5px,#6aaed6 273.5px,#6dafd7 279.5px,#61a7d2 287.5px,#74b3d8 295.5px,#5ca4d0 306.5px,#58a1cf 321.5px,#66abd4 331.5px,#57a0ce 340.5px,#6caed6 355.5px,#63a8d3 366.5px,#68acd5 376.5px,#61a7d2 384.5px,#6dafd7 393.5px,#63a8d3 406.5px,#6aaed6 415.5px,#5ba3d0 426.5px,#5ca4d0 435.5px,#4997c9 445.5px,#57a0ce 451.5px,#87bddc 459.5px,#89bedc 462.5px,#68acd5 469.5px,#66abd4 473.5px,#7db8da 485.5px,#74b3d8 491.5px,#61a7d2 497.5px,#69add5 502.5px,#8cc0dd 512.5px,#95c5df 518.5px,#7cb7da 525.5px,#65aad4 531.5px,#60a7d2 537.5px,#6dafd7 545.5px,#519ccc 554.5px,#539ecd 559.5px)"></div><div style="top:291px;height:2px;background:linear-gradient(90deg,#6baed6 0.5px,#5aa3cf 8.5px,#7cb7da 21.5px,#70b1d7 25.5px,#519ccc 31.5px,#529dcc 35.5px,#73b2d8 43.5px,#75b4d8 50.5px,#559fcd 64.5px,#5ea5d1 69.5px,#7ab6d9 77.5px,#72b2d8 82.5px,#5fa6d1 89.5px,#71b2d7 101.5px,#75b3d8 116.5px,#75b4d8 122.5px,#67abd4 130.5px,#8bc0dd 147.5px,#89bedc 152.5px,#69add5 162.5px,#68acd5 171.5px,#75b4d8 190.5px,#7db8da 198.5px,#58a1cf 208.5px,#63a8d3 213.5px,#79b5d9 220.5px,#6caed6 226.5px,#63a9d3 232.5px,#73b2d8 251.5px,#70b1d7 264.5px,#6caed6 271.5px,#75b3d8 279.5px,#65aad3 286.5px,#73b2d8 292.5px,#79b6d9 296.5px,#63a9d3 306.5px,#61a7d2 315.5px,#5ea5d1 322.5px,#68acd5 331.5px,#58a1cf 341.5px,#73b2d8 354.5px,#62a8d2 365.5px,#6aaed6 377.5px,#63a8d3 387.5px,#67abd4 398.5px,#64a9d3 407.5px,#71b2d7 415.5px,#62a8d2 425.5px,#65aad3 434.5px,#4e9acb 444.5px,#58a1ce 450.5px,#88bedc 459.5px,#89bedc 462.5px,#6aaed6 470.5px,#70b1d7 475.5px,#85bcdc 483.5px,#81badb 489.5px,#66abd4 496.5px,#69add5 501.5px,#93c4df 514.5px,#97c6df 519.5px,#66abd4 532.5px,#65aad4 538.5px,#77b5d9 545.5px,#5aa2cf 554.5px,#5da4d0 559.5px)"></div><div style="top:293px;height:2px;background:linear-gradient(90deg,#74b3d8 0.5px,#5da4d0 8.5px,#6caed6 15.5px,#7ab6d9 21.5px,#74b3d8 24.5px,#4d9aca 31.5px,#4f9bcb 35.5px,#79b6d9 44.5px,#7fb9da 49.5px,#59a2cf 62.5px,#5aa2cf 67.5px,#7db8da 77.5px,#71b2d7 82.5px,#5ea5d1 88.5px,#63a9d3 93.5px,#76b4d8 101.5px,#7db8da 115.5px,#80b9da 122.5px,#6caed6 129.5px,#90c2de 150.5px,#7db8da 156.5px,#68acd5 163.5px,#65aad4 172.5px,#7eb9da 191.5px,#74b3d8 200.5px,#5fa6d1 207.5px,#69add5 214.5px,#75b3d8 220.5px,#61a7d2 231.5px,#7ab6d9 251.5px,#68acd5 270.5px,#79b5d9 279.5px,#68acd5 287.5px,#7cb7da 296.5px,#6aaed6 307.5px,#66aad4 315.5px,#60a7d2 322.5px,#66aad4 332.5px,#58a1cf 341.5px,#6caed6 349.5px,#7ab6d9 354.5px,#70b1d7 359.5px,#5ea5d1 365.5px,#6dafd6 377.5px,#5ca4d0 389.5px,#64a9d3 402.5px,#6aadd5 409.5px,#79b5d9 415.5px,#6baed6 425.5px,#6caed6 434.5px,#549fcd 444.5px,#5ea5d1 450.5px,#89bfdd 459.5px,#85bcdc 463.5px,#6eb0d7 470.5px,#76b4d8 475.5px,#90c2de 484.5px,#89bedc 489.5px,#6caed6 496.5px,#6eb0d7 501.5px,#9bc8e0 517.5px,#96c6df 521.5px,#70b1d7 531.5px,#6baed6 537.5px,#81badb 545.5px,#73b2d8 549.5px,#64a9d3 554.5px,#68acd5 559.5px)"></div><div style="top:295px;height:2px;background:linear-gradient(90deg,#78b5d9 0.5px,#61a7d2 8.5px,#6caed6 15.5px,#78b5d9 21.5px,#6dafd6 25.5px,#4d99ca 31.5px,#4d9aca 35.5px,#7db8da 45.5px,#81badb 50.5px,#5aa3cf 62.5px,#5ca4d0 68.5px,#7bb7d9 76.5px,#75b4d8 80.5px,#5ca4d0 87.5px,#5fa6d1 92.5px,#7bb7d9 101.5px,#8abfdd 120.5px,#72b2d8 130.5px,#85bcdc 144.5px,#91c3de 149.5px,#89bfdd 153.5px,#69add5 161.5px,#5fa6d1 170.5px,#72b2d8 180.5px,#7fb9da 188.5px,#6fb0d7 198.5px,#62a8d2 207.5px,#6baed6 219.5px,#5ea5d1 230.5px,#81badb 250.5px,#64a9d3 266.5px,#68acd5 272.5px,#79b5d9 279.5px,#6baed6 288.5px,#7ab6d9 297.5px,#70b1d7 309.5px,#60a7d2 321.5px,#63a9d3 333.5px,#5aa2cf 342.5px,#71b1d7 350.5px,#7db8da 354.5px,#76b4d8 358.5px,#5da4d0 365.5px,#5fa6d1 370.5px,#6dafd7 378.5px,#549ecd 390.5px,#64a9d3 403.5px,#6dafd6 409.5px,#7cb7da 415.5px,#74b3d8 426.5px,#72b2d8 434.5px,#5aa3cf 444.5px,#63a9d3 450.5px,#89bfdd 458.5px,#85bcdc 463.5px,#71b1d7 469.5px,#77b5d9 475.5px,#96c6df 484.5px,#91c3de 488.5px,#70b1d7 496.5px,#71b1d7 501.5px,#9dcae1 518.5px,#87bddc 525.5px,#75b3d8 534.5px,#79b5d9 539.5px,#87bddc 545.5px,#75b3d8 550.5px,#6aaed6 554.5px,#71b1d7 559.5px)"></div><div style="top:297px;height:2px;background:linear-gradient(90deg,#7bb7d9 0.5px,#67abd4 8.5px,#73b2d8 22.5px,#4d9aca 32.5px,#519ccc 36.5px,#83bbdb 47.5px,#7fb9da 52.5px,#5da4d0 62.5px,#5aa2cf 67.5px,#77b5d9 77.5px,#66abd4 82.5px,#57a0ce 87.5px,#5ca3d0 92.5px,#81badb 103.5px,#8ec1de 119.5px,#77b5d9 130.5px,#82bbdb 143.5px,#90c2de 149.5px,#88bedc 153.5px,#66aad4 161.5px,#5ca3d0 171.5px,#74b3d8 181.5px,#7eb9da 187.5px,#5fa6d1 201.5px,#69add5 215.5px,#58a1cf 227.5px,#68acd5 235.5px,#81badb 245.5px,#81badb 252.5px,#64a9d3 263.5px,#61a7d2 271.5px,#79b6d9 280.5px,#6fb0d7 290.5px,#78b5d9 299.5px,#6dafd7 313.5px,#61a7d2 321.5px,#61a7d2 334.5px,#5aa3cf 342.5px,#6caed6 349.5px,#7db8da 354.5px,#79b6d9 358.5px,#5ca3d0 366.5px,#61a7d2 372.5px,#6dafd7 378.5px,#5aa3cf 385.5px,#4f9bcb 390.5px,#73b2d8 410.5px,#7db8da 416.5px,#7ab6d9 426.5px,#76b4d8 434.5px,#5da5d1 444.5px,#67abd4 450.5px,#8dc0dd 458.5px,#8abfdd 462.5px,#71b1d7 470.5px,#7ab6d9 476.5px,#97c6df 484.5px,#92c4de 488.5px,#71b2d7 496.5px,#73b2d8 502.5px,#8bc0dd 512.5px,#9dc9e1 518.5px,#80b9da 529.5px,#7fb9da 539.5px,#89bedc 545.5px,#6eb0d7 553.5px,#75b3d8 559.5px)"></div><div style="top:299px;height:2px;background:linear-gradient(90deg,#7cb7da 0.5px,#6fb0d7 10.5px,#6fb0d7 23.5px,#519ccc 33.5px,#58a1ce 38.5px,#83bbdb 48.5px,#7db8da 53.5px,#5ca3d0 64.5px,#5da5d1 69.5px,#71b1d7 76.5px,#65aad4 81.5px,#549ecd 87.5px,#5da4d0 93.5px,#81badb 103.5px,#92c4de 117.5px,#7ab6d9 129.5px,#7eb9da 141.5px,#8ec1de 149.5px,#79b6d9 155.5px,#64a9d3 161.5px,#5aa2cf 171.5px,#71b2d7 181.5px,#7bb7d9 187.5px,#5aa2cf 198.5px,#5ba3d0 203.5px,#6baed6 211.5px,#5ea5d1 219.5px,#56a0ce 226.5px,#65aad3 233.5px,#82bbdb 242.5px,#84bcdb 250.5px,#63a9d3 262.5px,#5da4d0 270.5px,#7db8da 281.5px,#71b2d7 292.5px,#73b2d8 311.5px,#64a9d3 321.5px,#65aad4 333.5px,#5ba3d0 342.5px,#71b1d7 350.5px,#7fb9da 356.5px,#73b2d8 361.5px,#5fa6d1 367.5px,#65aad4 373.5px,#70b1d7 379.5px,#4f9bcb 390.5px,#5ba3d0 397.5px,#7eb9da 414.5px,#7db8da 423.5px,#7eb9da 431.5px,#60a7d2 443.5px,#66aad4 449.5px,#92c4de 458.5px,#91c3de 462.5px,#73b2d8 470.5px,#78b5d9 476.5px,#93c4df 484.5px,#90c2de 488.5px,#71b2d7 497.5px,#77b5d9 506.5px,#99c7e0 518.5px,#82bbdb 527.5px,#86bddc 545.5px,#6fb0d7 553.5px,#77b5d9 559.5px)"></div><div style="top:301px;height:2px;background:linear-gradient(90deg,#7cb7da 0.5px,#75b4d8 14.5px,#68acd5 27.5px,#549fcd 35.5px,#5da4d0 40.5px,#7fb9da 48.5px,#7db8da 53.5px,#59a2cf 66.5px,#65aad4 73.5px,#69add5 78.5px,#519ccc 87.5px,#5ea5d1 94.5px,#82bbdb 106.5px,#92c4de 116.5px,#79b5d9 127.5px,#80b9da 141.5px,#8bc0dd 148.5px,#78b5d9 154.5px,#64a9d3 160.5px,#5ca4d0 171.5px,#72b2d8 183.5px,#74b3d8 188.5px,#529dcc 198.5px,#549fcd 202.5px,#6eb0d7 211.5px,#57a0ce 224.5px,#61a7d2 231.5px,#88bedc 242.5px,#81badb 250.5px,#61a7d2 262.5px,#5da5d1 271.5px,#81badb 281.5px,#70b1d7 294.5px,#73b2d8 313.5px,#69add5 322.5px,#6baed6 332.5px,#5ba3d0 341.5px,#69add5 348.5px,#81badb 355.5px,#7eb9da 360.5px,#63a9d3 368.5px,#6dafd6 375.5px,#73b2d8 379.5px,#519ccc 390.5px,#5aa3cf 396.5px,#81badb 411.5px,#81badb 422.5px,#83bbdb 429.5px,#61a7d2 442.5px,#66abd4 449.5px,#95c5df 458.5px,#98c7e0 461.5px,#76b4d8 471.5px,#78b5d9 477.5px,#8fc2de 485.5px,#89bedc 490.5px,#73b2d8 498.5px,#74b3d8 508.5px,#92c4de 517.5px,#8abfdd 522.5px,#80b9da 527.5px,#89bedc 541.5px,#7eb9da 547.5px,#6fb0d7 552.5px,#79b6d9 559.5px)"></div><div style="top:303px;height:2px;background:linear-gradient(90deg,#7db8da 0.5px,#85bcdc 10.5px,#6baed6 20.5px,#6dafd6 28.5px,#58a1ce 37.5px,#62a8d2 42.5px,#7cb7da 49.5px,#71b2d7 56.5px,#56a0ce 67.5px,#64a9d3 77.5px,#509ccb 87.5px,#6baed6 100.5px,#8fc2de 115.5px,#84bcdb 120.5px,#72b2d8 126.5px,#85bcdc 143.5px,#85bcdc 148.5px,#66aad4 158.5px,#61a7d2 171.5px,#6dafd7 187.5px,#4d99ca 198.5px,#559fcd 203.5px,#6fb0d7 210.5px,#5ea5d1 224.5px,#6aadd5 233.5px,#87bddc 241.5px,#84bcdb 247.5px,#5fa6d1 263.5px,#5ca4d0 270.5px,#72b2d8 276.5px,#85bcdc 281.5px,#7db8da 286.5px,#6dafd6 293.5px,#74b3d8 309.5px,#74b3d8 326.5px,#71b1d7 332.5px,#5aa3cf 340.5px,#5fa6d1 345.5px,#85bcdc 355.5px,#85bcdc 361.5px,#69add5 369.5px,#6dafd6 374.5px,#75b3d8 380.5px,#5da5d1 387.5px,#549ecd 392.5px,#6fb0d7 401.5px,#87bddc 409.5px,#85bcdc 421.5px,#87bddc 428.5px,#61a7d2 440.5px,#61a7d2 447.5px,#73b2d8 452.5px,#95c5df 458.5px,#9ac8e0 462.5px,#76b4d8 473.5px,#79b6d9 479.5px,#8cc0dd 487.5px,#6eb0d7 504.5px,#72b2d8 510.5px,#8abfdd 517.5px,#81badb 523.5px,#7bb7d9 528.5px,#8abfdd 539.5px,#81badb 545.5px,#6fb0d7 551.5px,#7eb9da 559.5px)"></div><div style="top:305px;height:2px;background:linear-gradient(90deg,#80b9da 0.5px,#91c3de 9.5px,#85bcdc 13.5px,#6caed6 18.5px,#6dafd7 23.5px,#75b3d8 28.5px,#5aa3cf 38.5px,#65aad3 43.5px,#75b4d8 49.5px,#66abd4 58.5px,#4f9bcb 68.5px,#5da5d1 78.5px,#4f9bcb 87.5px,#73b2d8 108.5px,#89bedc 115.5px,#81badb 119.5px,#6baed6 125.5px,#76b4d8 133.5px,#86bddc 145.5px,#65aad4 156.5px,#67abd4 179.5px,#64a9d3 189.5px,#4a98c9 198.5px,#549fcd 203.5px,#6dafd7 210.5px,#69add5 225.5px,#6eb0d7 234.5px,#86bddc 242.5px,#5aa2cf 267.5px,#62a8d2 272.5px,#85bcdc 280.5px,#84bcdb 284.5px,#69add5 292.5px,#6dafd7 307.5px,#79b6d9 316.5px,#79b6d9 330.5px,#58a1ce 340.5px,#5ea5d1 345.5px,#86bddc 354.5px,#8cc0dd 361.5px,#6caed6 371.5px,#77b5d9 381.5px,#58a1ce 391.5px,#5da4d0 395.5px,#8cc0dd 407.5px,#89bfdd 414.5px,#89bfdd 421.5px,#89bfdd 427.5px,#5ea5d1 439.5px,#5ea5d1 446.5px,#70b1d7 452.5px,#95c5df 459.5px,#98c7e0 464.5px,#76b4d8 475.5px,#7eb9da 482.5px,#8abfdd 489.5px,#76b4d8 500.5px,#6aadd5 508.5px,#84bcdb 518.5px,#75b4d8 527.5px,#89bedc 541.5px,#6dafd7 551.5px,#84bcdb 559.5px)"></div><div style="top:307px;height:2px;background:linear-gradient(90deg,#83bbdb 0.5px,#9ac8e0 8.5px,#95c5df 11.5px,#6aaed6 18.5px,#6caed6 22.5px,#7cb7da 28.5px,#6baed6 33.5px,#5ca3d0 38.5px,#6aadd5 45.5px,#70b1d7 50.5px,#56a0ce 62.5px,#4a98c9 68.5px,#5aa2cf 78.5px,#4f9bcb 88.5px,#5fa6d1 101.5px,#6aadd5 108.5px,#81badb 114.5px,#7eb9da 118.5px,#67abd4 124.5px,#6dafd6 130.5px,#85bcdc 143.5px,#77b5d9 148.5px,#64a9d3 153.5px,#68acd5 162.5px,#71b1d7 175.5px,#63a8d3 184.5px,#5aa3cf 191.5px,#4a98c9 198.5px,#519ccc 202.5px,#6baed6 210.5px,#6fb0d7 221.5px,#71b2d7 228.5px,#6eb0d7 234.5px,#83bbdb 242.5px,#61a7d2 261.5px,#58a1cf 268.5px,#6baed6 274.5px,#87bddc 280.5px,#84bcdb 284.5px,#66abd4 291.5px,#68acd5 306.5px,#7eb9da 316.5px,#7fb9da 329.5px,#559fcd 340.5px,#5da4d0 345.5px,#86bddc 353.5px,#91c3de 360.5px,#85bcdc 365.5px,#71b1d7 370.5px,#74b3d8 376.5px,#78b5d9 382.5px,#5aa3cf 391.5px,#5fa6d1 395.5px,#8dc0dd 405.5px,#90c2de 411.5px,#8bc0dd 420.5px,#8cc0dd 426.5px,#5da4d0 438.5px,#5da4d0 446.5px,#71b2d7 453.5px,#94c4df 460.5px,#97c6df 465.5px,#77b5d9 476.5px,#7db8da 482.5px,#8cc0dd 490.5px,#7eb9da 498.5px,#68acd5 506.5px,#70b1d7 512.5px,#7eb9da 518.5px,#71b2d7 527.5px,#84bcdb 537.5px,#85bcdc 542.5px,#6dafd6 549.5px,#72b2d8 553.5px,#8abfdd 559.5px)"></div><div style="top:309px;height:2px;background:linear-gradient(90deg,#85bcdc 0.5px,#9fcae1 8.5px,#99c7e0 11.5px,#6aaed6 18.5px,#6caed6 22.5px,#7fb9da 28.5px,#75b3d8 32.5px,#5da5d1 38.5px,#66abd4 44.5px,#6dafd7 49.5px,#56a0ce 61.5px,#4795c8 67.5px,#57a0ce 79.5px,#4e9acb 88.5px,#5ca4d0 99.5px,#62a8d2 107.5px,#7eb9da 115.5px,#77b5d9 119.5px,#63a9d3 125.5px,#70b1d7 132.5px,#85bcdc 143.5px,#72b2d8 148.5px,#61a7d2 152.5px,#64a9d3 158.5px,#78b5d9 173.5px,#5fa6d1 184.5px,#56a0ce 192.5px,#4a98c9 199.5px,#5ca4d0 205.5px,#6aaed6 211.5px,#71b2d7 220.5px,#79b6d9 226.5px,#6dafd7 234.5px,#80b9da 243.5px,#63a9d3 260.5px,#56a0ce 267.5px,#63a8d3 272.5px,#85bcdc 279.5px,#85bcdc 283.5px,#63a9d3 291.5px,#66abd4 306.5px,#81badb 317.5px,#81badb 329.5px,#56a0ce 339.5px,#559fcd 343.5px,#74b3d8 349.5px,#8cc0dd 354.5px,#91c3de 362.5px,#71b1d7 371.5px,#79b5d9 378.5px,#77b5d9 383.5px,#5ca3d0 391.5px,#66aad4 396.5px,#8dc1dd 404.5px,#92c4de 410.5px,#8dc0dd 419.5px,#8cc0dd 426.5px,#5da4d0 437.5px,#5aa2cf 444.5px,#6baed6 452.5px,#94c4df 461.5px,#95c5df 466.5px,#77b5d9 477.5px,#7db8da 483.5px,#8cc0dd 490.5px,#84bcdb 497.5px,#67abd4 506.5px,#6baed6 511.5px,#7bb7d9 517.5px,#6fb0d7 528.5px,#86bddc 541.5px,#6aaed6 549.5px,#74b3d8 553.5px,#8dc0dd 558.5px,#8ec1de 559.5px)"></div></div>
<div id="cb"></div>
<svg width="685" height="624" viewBox="0 0 685 624" style="position:absolute;left:0;top:0;will-change:transform">
<defs><clipPath id="ax"><rect x="127" y="326.3" width="555.7" height="206.7"/></clipPath><filter id="nw" x="0" y="0" width="1" height="1" color-interpolation-filters="sRGB"><feTurbulence type="fractalNoise" baseFrequency="0.28" numOctaves="2" seed="4"/><feColorMatrix type="matrix" values="0 0 0 0 1 0 0 0 0 1 0 0 0 0 1 0.90 0 0 0 -0.45"/></filter><filter id="nd" x="0" y="0" width="1" height="1" color-interpolation-filters="sRGB"><feTurbulence type="fractalNoise" baseFrequency="0.28" numOctaves="2" seed="4"/><feColorMatrix type="matrix" values="0 0 0 0 0.05 0 0 0 0 0.32 0 0 0 0 0.62 -1.20 0 0 0 0.60"/></filter></defs>
<mask id="nm" maskUnits="userSpaceOnUse" x="120" y="110" width="570" height="210"><rect x="120" y="110" width="570" height="210" fill="#fff"/><g filter="url(#bl)" fill="none" stroke="#000"><polyline points="120.0,147.7 158.3,147.8 196.7,148.0 235.0,148.2 273.3,149.0 311.7,150.3 350.0,150.3 388.3,150.3 426.7,150.3 465.0,150.1 503.3,149.7 541.7,149.3 580.0,148.2" stroke-width="7"/><line x1="120" y1="272.2" x2="690" y2="272.2" stroke-width="3" stroke="#555"/><polyline points="275.0,141.5 315.7,142.7 356.4,142.7 397.1,142.7 437.9,143.5 478.6,143.2 519.3,142.7 560.0,142.1" stroke-width="6" stroke="#555"/><polyline points="570.0,148.6 590.0,147.9 610.0,147.1 630.0,146.2 650.0,145.2 670.0,144.3 690.0,143.6" stroke-width="5" stroke="#999"/></g></mask>
<filter id="bl" x="-0.1" y="-1" width="1.2" height="3"><feGaussianBlur stdDeviation="1.6"/></filter>
<g mask="url(#nm)"><rect x="125" y="115" width="560" height="196" filter="url(#nw)"/>
<rect x="125" y="115" width="560" height="196" filter="url(#nd)"/></g>
<rect x="126" y="79.2" width="558.3" height="27.4" fill="none" stroke="#000" stroke-width="1.7"/>
<line x1="218.9" y1="71.5" x2="218.9" y2="79.2" stroke="#000" stroke-width="1.6"/>
<text x="226.2" y="59.8" font-size="24.8" text-anchor="middle" style='font-family:"Liberation Serif",serif'>0.6</text>
<line x1="312.0" y1="71.5" x2="312.0" y2="79.2" stroke="#000" stroke-width="1.6"/>
<text x="319.3" y="59.8" font-size="24.8" text-anchor="middle" style='font-family:"Liberation Serif",serif'>0.8</text>
<line x1="405.0" y1="71.5" x2="405.0" y2="79.2" stroke="#000" stroke-width="1.6"/>
<text x="412.3" y="59.8" font-size="24.8" text-anchor="middle" style='font-family:"Liberation Serif",serif'>1.0</text>
<line x1="498.1" y1="71.5" x2="498.1" y2="79.2" stroke="#000" stroke-width="1.6"/>
<text x="505.4" y="59.8" font-size="24.8" text-anchor="middle" style='font-family:"Liberation Serif",serif'>1.2</text>
<line x1="591.2" y1="71.5" x2="591.2" y2="79.2" stroke="#000" stroke-width="1.6"/>
<text x="598.5" y="59.8" font-size="24.8" text-anchor="middle" style='font-family:"Liberation Serif",serif'>1.4</text>
<text x="358.6" y="18.9" font-size="27" style='font-family:"Liberation Serif",serif;font-style:italic'>I</text>
<text x="369.2" y="22.1" font-size="20.5" textLength="32.6" lengthAdjust="spacingAndGlyphs" style='font-family:"Liberation Serif",serif;font-style:italic'>shot</text>
<line x1="405.3" y1="24.3" x2="414.1" y2="0.4" stroke="#000" stroke-width="1.25"/>
<text x="417.4" y="18.4" font-size="27" style='font-family:"Liberation Serif",serif;font-style:italic'>I</text>
<text x="427.6" y="21.5" font-size="20.5" textLength="23.6" lengthAdjust="spacingAndGlyphs" style='font-family:"Liberation Serif",serif;font-style:italic'>ref</text>
<text x="0" y="49.9" font-size="28.5" style='font-family:"Liberation Serif",serif'>a)</text>
<text x="-1" y="326" font-size="28.5" style='font-family:"Liberation Serif",serif'>b)</text>
<g stroke="#000" stroke-width="2.2"><line x1="253.2" y1="177.5" x2="543.2" y2="177.5"/><line x1="253.2" y1="169.1" x2="253.2" y2="186.6"/><line x1="543.2" y1="169.1" x2="543.2" y2="186.6"/></g>
<g stroke="#000" stroke-width="2.6" stroke-dasharray="9.4,3.05" fill="none"><line x1="247.6" y1="178.7" x2="161.9" y2="409.2"/><line x1="546.65" y1="178.7" x2="631.8" y2="409.2"/></g>
<g clip-path="url(#ax)" fill="none" stroke-linejoin="round" stroke-linecap="round">
<path d="M131.8,421.5 132.2,418.9 132.7,421.1 133.1,425.0 133.6,426.6 134.0,425.1 134.5,427.2 134.9,426.9 135.4,429.4 135.8,427.7 136.3,430.3 136.7,429.4 137.2,432.2 137.6,431.1 138.1,432.8 138.5,431.7 139.0,434.5 139.4,433.0 139.9,435.9 140.3,434.4 140.8,437.9 141.2,437.4 141.7,439.7 142.1,438.2 142.6,440.0 143.0,438.4 143.5,440.3 143.9,438.8 144.4,441.7 144.8,440.3 145.3,442.2 145.7,441.6 146.2,446.8 146.6,450.0 147.1,450.9 147.5,446.4 148.0,445.5 148.4,441.4 148.9,440.9 149.3,436.6 149.8,435.0 150.2,431.7 150.7,430.7 151.1,427.4 151.6,428.2 152.0,424.5 152.5,425.1 152.9,422.8 153.4,422.0 153.8,418.7 154.3,422.7 154.7,424.6 155.2,430.6 155.6,434.7 156.1,434.4 156.5,424.6 157.0,422.8 157.4,419.9 157.9,420.6 158.3,420.5 158.8,422.8 159.2,422.9 159.7,428.2 160.1,429.3 160.6,425.0 161.0,415.0 161.5,418.8 161.9,422.5 162.4,423.6 162.8,417.5 163.3,420.4 163.7,424.1 164.2,425.8 164.6,421.0 165.1,418.0 165.5,415.1 166.0,416.5 166.4,414.1 166.9,417.0 167.3,417.9 167.8,422.1 168.2,424.7 168.7,432.9 169.1,429.4 169.6,427.4 170.0,425.4 170.5,427.7 170.9,426.9 171.4,428.5 171.8,428.5 172.3,432.2 172.7,433.0 173.2,436.7 173.6,432.5 174.1,430.7 174.5,425.8 175.0,427.8 175.4,425.0 175.9,426.7 176.3,425.0 176.8,426.3 177.2,424.7 177.7,426.5 178.1,423.7 178.6,426.4 179.0,429.6 179.5,437.3 179.9,438.8 180.4,435.3 180.8,424.4 181.3,420.8 181.7,422.4 182.2,427.2 182.6,425.0 183.1,425.4 183.5,422.0 184.0,423.5 184.4,425.8 184.9,432.1 185.3,434.1 185.8,438.3 186.2,440.1 186.7,442.1 187.1,435.6 187.6,430.7 188.0,425.0 188.5,428.9 188.9,432.7 189.4,438.2 189.8,441.6 190.3,447.1 190.7,445.0 191.2,442.6 191.6,437.2 192.1,436.9 192.5,431.7 193.0,432.1 193.4,429.0 193.9,430.0 194.3,427.4 194.8,428.8 195.2,427.3 195.7,428.3 196.1,426.2 196.6,427.6 197.0,423.8 197.5,424.8 197.9,421.4 198.4,421.8 198.8,418.4 199.3,417.9 199.7,414.9 200.2,414.2 200.6,410.3 201.1,410.4 201.5,409.0 202.0,414.7 202.4,417.7 202.9,423.8 203.3,425.4 203.8,425.1 204.2,418.0 204.7,421.7 205.1,423.3 205.6,425.9 206.0,422.3 206.5,421.5 206.9,417.4 207.4,419.1 207.8,425.3 208.3,432.7 208.7,430.9 209.2,430.7 209.6,427.7 210.1,428.5 210.5,423.9 211.0,424.7 211.4,422.4 211.9,426.6 212.3,427.2 212.8,429.0 213.2,423.4 213.7,420.9 214.1,417.8 214.6,420.5 215.0,419.4 215.5,422.4 215.9,419.2 216.4,419.3 216.8,415.7 217.3,418.0 217.7,419.2 218.2,423.7 218.6,424.3 219.1,430.0 219.5,430.0 220.0,432.5 220.4,429.6 220.9,430.4 221.3,427.3 221.8,427.0 222.2,422.8 222.7,422.2 223.1,419.5 223.6,420.4 224.0,417.6 224.5,419.0 224.9,417.3 225.4,419.6 225.8,420.2 226.3,425.3 226.7,428.9 227.2,432.5 227.6,429.4 228.1,430.0 228.5,428.4 229.0,428.8 229.4,427.4 229.9,429.4 230.3,426.6 230.8,426.9 231.2,422.7 231.7,422.7 232.1,420.7 232.6,421.3 233.0,419.1 233.5,421.3 233.9,420.6 234.4,423.5 234.8,423.4 235.3,429.3 235.7,429.0 236.2,429.5 236.6,425.6 237.1,426.5 237.5,423.1 238.0,422.6 238.4,420.5 238.9,422.6 239.3,422.9 239.8,425.2 240.2,423.9 240.7,422.5 241.1,418.2 241.6,420.3 242.0,419.3 242.5,420.7 242.9,420.5 243.4,426.5 243.8,428.1 244.3,429.1 244.7,423.8 245.2,423.1 245.6,417.6 246.1,416.4 246.5,415.3 247.0,422.0 247.4,423.2 247.9,425.5 248.3,424.6 248.8,427.1 249.2,424.4 249.7,426.6 250.1,425.4 250.6,427.2 251.0,424.5 251.5,427.5 251.9,425.2 252.4,427.7 252.8,428.3 253.3,434.2 253.7,433.5 254.2,434.1 254.6,431.1 255.1,432.8 255.5,431.8 256.0,434.7 256.4,432.9 256.9,434.8 257.3,433.3 257.8,434.4 258.2,432.1 258.7,433.9 259.1,431.5 259.6,431.5 260.0,428.3 260.5,426.1 260.9,417.5 261.4,417.1 261.8,419.8 262.3,425.6 262.7,427.6 263.2,433.5 263.6,431.9 264.1,428.6 264.5,419.8 265.0,422.4 265.4,421.9 265.9,424.5 266.3,422.6 266.8,422.5 267.2,419.3 267.7,419.3 268.1,415.7 268.6,414.7 269.0,412.5 269.5,418.1 269.9,418.5 270.4,420.8 270.8,419.5 271.3,420.7 271.7,419.6 272.2,421.9 272.6,420.1 273.1,423.4 273.5,423.8 274.0,428.1 274.4,430.4 274.9,434.2 275.3,435.9 275.8,439.6 276.2,440.8 276.7,441.9 277.1,439.8 277.6,438.9 278.0,434.6 278.5,432.3 278.9,427.6 279.4,424.0 279.8,418.7 280.3,414.6 280.7,409.5 281.2,405.9 281.6,401.6 282.1,399.0 282.5,395.8 283.0,395.1 283.4,393.6 283.9,395.6 284.3,397.5 284.8,402.2 285.2,406.8 285.7,413.5 286.1,419.2 286.6,427.3 287.0,433.5 287.5,441.8 287.9,448.1 288.4,454.9 288.8,460.4 289.3,465.8 289.7,468.7 290.2,471.8 290.6,471.8 291.1,470.6 291.5,464.9 292.0,458.1 292.4,448.1 292.9,437.8 293.3,425.5 293.8,414.6 294.2,402.2 294.7,391.9 295.1,381.6 295.6,374.7 296.0,369.0 296.5,366.9 296.9,367.3 297.4,371.3 297.8,376.2 298.3,384.3 298.7,392.2 299.2,402.4 299.6,412.0 300.1,423.1 300.5,432.8 301.0,442.9 301.4,451.0 301.9,458.6 302.3,463.6 302.8,467.4 303.2,467.1 303.7,465.3 304.1,460.0 304.6,454.7 305.0,446.4 305.5,439.0 305.9,430.2 306.4,423.7 306.8,416.5 307.3,412.5 307.7,409.8 308.2,410.5 308.6,410.7 309.1,413.5 309.5,414.8 310.0,418.4 310.4,420.8 310.9,424.3 311.3,425.9 311.8,428.9 312.2,429.6 312.7,431.1 313.1,429.7 313.6,427.3 314.0,421.6 314.5,416.0 314.9,407.6 315.4,400.9 315.8,392.3 316.3,385.5 316.7,378.3 317.2,374.2 317.6,370.3 318.1,370.2 318.5,371.5 319.0,376.3 319.4,381.4 319.9,390.0 320.3,398.1 320.8,408.6 321.2,418.2 321.7,429.6 322.1,439.7 322.6,451.0 323.0,459.9 323.5,469.5 323.9,476.5 324.4,483.2 324.8,486.5 325.3,489.1 325.7,488.1 326.2,487.6 326.6,484.9 327.1,482.7 327.5,478.3 328.0,474.9 328.4,469.5 328.9,464.8 329.3,458.6 329.8,453.4 330.2,446.3 330.7,440.7 331.1,433.1 331.6,427.5 332.0,420.1 332.5,414.4 332.9,407.0 333.4,401.9 333.8,395.3 334.3,390.9 334.7,385.3 335.2,381.8 335.6,377.5 336.1,374.9 336.5,372.1 337.0,371.6 337.4,370.4 337.9,372.2 338.3,374.1 338.8,379.2 339.2,383.3 339.7,390.7 340.1,396.9 340.6,404.9 341.0,412.4 341.5,421.1 341.9,428.9 342.4,437.2 342.8,444.5 343.3,452.2 343.7,457.5 344.2,463.5 344.6,466.7 345.1,470.2 345.5,470.3 346.0,470.3 346.4,467.2 346.9,463.7 347.3,458.1 347.8,452.4 348.2,445.1 348.7,438.4 349.1,430.3 349.6,423.7 350.0,416.2 350.5,410.8 350.9,404.8 351.4,400.9 351.8,398.0 352.3,397.7 352.7,397.6 353.2,400.9 353.6,403.5 354.1,408.9 354.5,413.4 355.0,419.9 355.4,425.1 355.9,431.7 356.3,436.1 356.8,441.5 357.2,444.7 357.7,447.7 358.1,448.3 358.6,448.7 359.0,445.9 359.5,444.3 359.9,440.1 360.4,437.2 360.8,432.1 361.3,428.5 361.7,423.2 362.2,419.5 362.6,415.2 363.1,412.8 363.5,409.5 364.0,409.0 364.4,408.2 364.9,410.1 365.3,411.7 365.8,416.4 366.2,420.0 366.7,426.2 367.1,431.1 367.6,437.9 368.0,443.2 368.5,450.0 368.9,454.7 369.4,460.5 369.8,463.9 370.3,468.0 370.7,468.9 371.2,470.1 371.6,466.9 372.1,463.1 372.5,456.8 373.0,451.0 373.4,444.1 373.9,440.6 374.3,435.8 374.8,432.3 375.2,428.2 375.7,425.9 376.1,423.0 376.6,422.1 377.0,420.1 377.5,419.6 377.9,417.6 378.4,416.5 378.8,413.9 379.3,412.3 379.7,410.9 380.2,412.8 380.6,413.3 381.1,414.1 381.5,412.4 382.0,411.9 382.4,410.1 382.9,409.8 383.3,408.2 383.8,407.7 384.2,405.4 384.7,405.5 385.1,403.6 385.6,404.0 386.0,402.7 386.5,404.8 386.9,406.8 387.4,411.6 387.8,416.0 388.3,422.8 388.7,429.1 389.2,437.2 389.6,445.0 390.1,453.5 390.5,461.1 391.0,470.0 391.4,476.5 391.9,484.6 392.3,489.8 392.8,496.0 393.2,499.1 393.7,502.6 394.1,503.1 394.6,502.1 395.0,496.8 395.5,490.1 395.9,479.5 396.4,468.7 396.8,455.1 397.3,441.4 397.7,426.0 398.2,411.6 398.6,396.8 399.1,383.6 399.5,370.7 400.0,360.7 400.4,351.5 400.9,346.1 401.3,342.5 401.8,344.2 402.2,348.2 402.7,356.5 403.1,367.0 403.6,380.3 404.0,394.4 404.5,410.1 404.9,425.3 405.4,441.0 405.8,454.8 406.3,468.3 406.7,478.1 407.2,486.3 407.6,490.2 408.1,491.0 408.5,488.6 409.0,485.4 409.4,479.5 409.9,474.4 410.3,467.1 410.8,460.6 411.2,453.6 411.7,448.0 412.1,442.1 412.6,439.0 413.0,436.2 413.5,436.4 413.9,436.9 414.4,440.0 414.8,442.0 415.3,446.0 415.7,448.2 416.2,451.0 416.6,452.0 417.1,453.1 417.5,450.9 418.0,449.2 418.4,444.2 418.9,440.2 419.3,433.8 419.8,428.7 420.2,422.4 420.7,417.8 421.1,412.7 421.6,409.6 422.0,407.1 422.5,407.3 422.9,407.3 423.4,410.6 423.8,413.3 424.3,418.4 424.7,423.1 425.2,429.5 425.6,434.8 426.1,442.4 426.5,448.0 427.0,455.4 427.4,461.0 427.9,467.5 428.3,472.2 428.8,477.3 429.2,480.4 429.7,483.6 430.1,484.1 430.6,484.2 431.0,480.7 431.5,476.7 431.9,469.5 432.4,462.1 432.8,452.7 433.3,443.9 433.7,432.9 434.2,423.8 434.6,413.4 435.1,405.6 435.5,396.9 436.0,390.8 436.4,385.3 436.9,383.2 437.3,382.0 437.8,385.1 438.2,388.8 438.7,396.2 439.1,403.4 439.6,413.2 440.0,422.1 440.5,432.6 440.9,442.3 441.4,452.2 441.8,460.0 442.3,468.0 442.7,472.9 443.2,477.2 443.6,477.5 444.1,476.8 444.5,473.1 445.0,468.6 445.4,462.0 445.9,455.6 446.3,447.6 446.8,440.8 447.2,432.6 447.7,426.7 448.1,420.2 448.6,416.6 449.0,413.0 449.5,413.2 449.9,412.7 450.4,414.9 450.8,415.8 451.3,418.4 451.7,419.7 452.2,423.0 452.6,424.1 453.1,426.6 453.5,427.4 454.0,429.0 454.4,428.6 454.9,429.6 455.3,428.9 455.8,429.7 456.2,429.5 456.7,430.6 457.1,432.4 457.6,437.0 458.0,440.6 458.5,445.2 458.9,447.6 459.4,450.0 459.8,449.2 460.3,449.3 460.7,447.2 461.2,446.3 461.6,443.8 462.1,441.4 462.5,435.4 463.0,429.5 463.4,421.4 463.9,414.0 464.3,405.3 464.8,397.7 465.2,390.0 465.7,384.0 466.1,378.6 466.6,376.1 467.0,374.3 467.5,376.7 467.9,379.5 468.4,386.0 468.8,392.9 469.3,402.2 469.7,411.5 470.2,422.5 470.6,433.2 471.1,444.5 471.5,454.9 472.0,466.0 472.4,474.8 472.9,483.9 473.3,490.1 473.8,495.7 474.2,498.2 474.7,499.4 475.1,496.6 475.6,492.2 476.0,483.7 476.5,475.0 476.9,463.6 477.4,452.7 477.8,439.8 478.3,428.1 478.7,415.7 479.2,405.7 479.6,395.7 480.1,388.9 480.5,382.8 481.0,381.5 481.4,381.4 481.9,386.1 482.3,391.7 482.8,400.9 483.2,409.9 483.7,421.5 484.1,431.9 484.6,443.9 485.0,453.9 485.5,464.3 485.9,472.1 486.4,479.1 486.8,482.4 487.3,483.9 487.7,481.4 488.2,478.3 488.6,472.3 489.1,465.7 489.5,457.0 490.0,448.5 490.4,438.6 490.9,429.5 491.3,419.2 491.8,410.5 492.2,401.3 492.7,394.7 493.1,388.0 493.6,384.2 494.0,381.2 494.5,381.8 494.9,384.2 495.4,390.2 495.8,396.9 496.3,406.6 496.7,415.4 497.2,426.0 497.6,435.2 498.1,444.3 498.5,451.0 499.0,456.9 499.4,458.8 499.9,459.0 500.3,455.9 500.8,451.9 501.2,445.3 501.7,438.8 502.1,430.3 502.6,423.3 503.0,415.1 503.5,408.6 503.9,401.9 504.4,398.2 504.8,395.1 505.3,395.7 505.7,397.0 506.2,401.4 506.6,406.0 507.1,412.8 507.5,419.2 508.0,427.0 508.4,433.2 508.9,440.9 509.3,446.4 509.8,452.3 510.2,455.0 510.7,457.7 511.1,457.2 511.6,456.0 512.0,451.8 512.5,448.4 512.9,442.3 513.4,436.9 513.8,430.2 514.3,424.9 514.7,418.8 515.2,414.4 515.6,409.7 516.1,407.6 516.5,406.0 517.0,406.8 517.4,406.9 517.9,408.6 518.3,409.2 518.8,412.0 519.2,413.4 519.7,416.3 520.1,417.5 520.6,421.3 521.0,423.6 521.5,430.2 521.9,433.8 522.4,440.4 522.8,442.5 523.3,444.9 523.7,440.7 524.2,436.8 524.6,428.8 525.1,425.2 525.5,418.2 526.0,415.6 526.4,410.0 526.9,412.0 527.3,411.5 527.8,414.8 528.2,414.4 528.7,418.9 529.1,418.1 529.6,421.8 530.0,425.0 530.5,430.7 530.9,430.4 531.4,434.4 531.8,433.3 532.3,436.1 532.7,433.9 533.2,435.9 533.6,433.5 534.1,434.7 534.5,432.1 535.0,426.6 535.4,421.4 535.9,425.6 536.3,428.9 536.8,433.3 537.2,430.8 537.7,428.4 538.1,421.7 538.6,418.6 539.0,415.7 539.5,416.1 539.9,413.1 540.4,415.5 540.8,413.8 541.3,417.4 541.7,417.1 542.2,420.7 542.6,423.1 543.1,430.0 543.5,431.5 544.0,434.8 544.4,434.4 544.9,436.0 545.3,434.5 545.8,434.3 546.2,430.4 546.7,430.1 547.1,426.4 547.6,426.6 548.0,424.2 548.5,424.6 548.9,421.9 549.4,422.7 549.8,420.8 550.3,424.0 550.7,422.6 551.2,425.1 551.6,422.5 552.1,419.5 552.5,412.7 553.0,409.8 553.4,407.6 553.9,411.2 554.3,411.4 554.8,415.7 555.2,418.1 555.7,423.4 556.1,423.7 556.6,428.0 557.0,427.6 557.5,429.4 557.9,426.6 558.4,426.6 558.8,423.0 559.3,423.5 559.7,421.0 560.2,425.2 560.6,426.1 561.1,430.2 561.5,429.3 562.0,432.1 562.4,430.0 562.9,432.6 563.3,428.7 563.8,427.9 564.2,422.6 564.7,422.3 565.1,419.8 565.6,420.5 566.0,418.0 566.5,420.3 566.9,419.7 567.4,423.7 567.8,424.6 568.3,432.1 568.7,432.0 569.2,432.0 569.6,427.7 570.1,426.7 570.5,424.1 571.0,423.4 571.4,420.3 571.9,421.2 572.3,420.3 572.8,423.8 573.2,431.8 573.7,436.9 574.1,432.1 574.6,430.4 575.0,426.4 575.5,426.8 575.9,423.1 576.4,425.2 576.8,430.0 577.3,436.5 577.7,432.6 578.2,430.4 578.6,424.7 579.1,425.1 579.5,423.5 580.0,427.5 580.4,431.2 580.9,434.7 581.3,432.0 581.8,433.4 582.2,430.8 582.7,430.1 583.1,426.8 583.6,426.6 584.0,422.3 584.5,421.9 584.9,418.0 585.4,418.0 585.8,413.7 586.3,413.3 586.7,410.0 587.2,412.7 587.6,411.7 588.1,414.8 588.5,414.0 589.0,416.4 589.4,416.2 589.9,419.7 590.3,425.1 590.8,430.3 591.2,426.9 591.7,426.4 592.1,422.5 592.6,425.5 593.0,425.9 593.5,430.4 593.9,429.9 594.4,430.6 594.8,427.7 595.3,427.9 595.7,424.6 596.2,423.1 596.6,416.6 597.1,412.7 597.5,408.1 598.0,409.4 598.4,408.1 598.9,412.4 599.3,416.6 599.8,424.0 600.2,424.9 600.7,428.8 601.1,427.2 601.6,428.7 602.0,422.5 602.5,419.3 602.9,413.8 603.4,414.6 603.8,419.6 604.3,430.0 604.7,432.8 605.2,430.8 605.6,423.6 606.1,423.2 606.5,421.0 607.0,421.9 607.4,419.8 607.9,423.2 608.3,424.3 608.8,429.4 609.2,427.1 609.7,423.9 610.1,415.8 610.6,416.3 611.0,420.8 611.5,428.2 611.9,432.4 612.4,437.4 612.8,434.6 613.3,433.2 613.7,429.2 614.2,435.3 614.6,441.8 615.1,442.2 615.5,436.9 616.0,434.8 616.4,432.7 616.9,436.9 617.3,438.7 617.8,441.5 618.2,437.4 618.7,434.9 619.1,431.7 619.6,432.3 620.0,431.0 620.5,432.5 620.9,431.3 621.4,436.1 621.8,437.1 622.3,441.9 622.7,443.1 623.2,444.6 623.6,439.2 624.1,436.3 624.5,431.9 625.0,430.9 625.4,427.1 625.9,428.2 626.3,426.7 626.8,428.2 627.2,425.5 627.7,428.0 628.1,427.7 628.6,433.7 629.0,435.2 629.5,436.4 629.9,431.0 630.4,430.0 630.8,427.2 631.3,430.1 631.7,429.8 632.2,431.1 632.6,428.6 633.1,429.5 633.5,426.7 634.0,427.8 634.4,424.7 634.9,426.6 635.3,424.4 635.8,427.0 636.2,425.0 636.7,431.4 637.1,434.0 637.6,438.0 638.0,439.1 638.5,441.4 638.9,437.9 639.4,438.1 639.8,435.7 640.3,436.1 640.7,435.5 641.2,440.6 641.6,441.4 642.1,445.0 642.5,441.9 643.0,442.4 643.4,437.9 643.9,437.7 644.3,435.6 644.8,440.7 645.2,441.3 645.7,443.5 646.1,441.8 646.6,442.8 647.0,440.4 647.5,441.5 647.9,437.5 648.4,437.2 648.8,432.7 649.3,433.0 649.7,432.7 650.2,435.4 650.6,434.7 651.1,437.3 651.5,434.6 652.0,436.2 652.4,433.0 652.9,434.8 653.3,431.3 653.8,432.9 654.2,429.1 654.7,430.8 655.1,427.5 655.6,428.3 656.0,426.7 656.5,427.7 656.9,425.2 657.4,426.8 657.8,427.0 658.3,430.1 658.7,429.9 659.2,431.5 659.6,427.2 660.1,425.7 660.5,420.0 661.0,421.1 661.4,419.5 661.9,421.9 662.3,420.2 662.8,423.0 663.2,421.2 663.7,421.8 664.1,419.6 664.6,421.3 665.0,419.1 665.5,419.1 665.9,415.6 666.4,416.1 666.8,414.2 667.3,420.5 667.7,425.2 668.2,429.3 668.6,426.3 669.1,425.2 669.5,420.8 670.0,422.4 670.4,421.4 670.9,422.9 671.3,421.6 671.8,424.5 672.2,423.3 672.7,425.2 673.1,424.1 673.6,425.4 674.0,423.3 674.5,425.6 674.9,423.3 675.4,429.2 675.8,431.8 676.3,431.9 676.7,428.3 677.2,428.3 677.6,426.6 678.1,429.2" stroke="#000" stroke-width="2.7"/>
<path d="M131.3,428.4 131.7,428.4 132.1,428.5 132.5,428.5 132.9,428.6 133.3,428.8 133.7,428.9 134.1,429.2 134.5,429.7 134.9,430.4 135.3,431.1 135.7,432.0 136.1,432.8 136.5,433.5 136.9,434.2 137.3,434.9 137.7,435.5 138.1,436.2 138.5,436.9 138.9,437.5 139.3,438.2 139.7,438.8 140.1,439.5 140.5,440.1 140.9,440.7 141.3,441.3 141.7,441.9 142.1,442.4 142.5,442.9 142.9,443.4 143.3,443.9 143.7,444.4 144.1,444.9 144.5,445.3 144.9,445.7 145.3,446.0 145.7,446.2 146.1,446.3 146.5,446.2 146.9,445.9 147.3,445.4 147.7,444.6 148.1,443.8 148.5,442.9 148.9,442.0 149.3,441.1 149.7,440.2 150.1,439.2 150.5,438.1 150.9,437.0 151.3,435.8 151.7,434.6 152.1,433.6 152.5,432.7 152.9,431.9 153.3,431.1 153.7,430.3 154.1,429.6 154.5,429.0 154.9,428.4 155.3,427.9 155.7,427.5 156.1,427.2 156.5,426.9 156.9,426.7 157.3,426.5 157.7,426.3 158.1,426.2 158.5,426.0 158.9,425.9 159.3,425.7 159.7,425.5 160.1,425.3 160.5,425.1 160.9,424.8 161.3,424.6 161.7,424.4 162.1,424.2 162.5,424.0 162.9,423.8 163.3,423.7 163.7,423.6 164.1,423.5 164.5,423.4 164.9,423.3 165.3,423.2 165.7,423.2 166.1,423.2 166.5,423.4 166.9,423.9 167.3,424.4 167.7,425.1 168.1,425.8 168.5,426.5 168.9,427.2 169.3,428.0 169.7,428.8 170.1,429.6 170.5,430.3 170.9,430.9 171.3,431.5 171.7,432.1 172.1,432.6 172.5,433.1 172.9,433.3 173.3,433.4 173.7,433.3 174.1,433.1 174.5,432.9 174.9,432.6 175.3,432.4 175.7,432.1 176.1,431.9 176.5,431.5 176.9,431.2 177.3,430.8 177.7,430.6 178.1,430.4 178.5,430.3 178.9,430.3 179.3,430.5 179.7,430.7 180.1,430.9 180.5,431.2 180.9,431.4 181.3,431.7 181.7,432.0 182.1,432.3 182.5,432.7 182.9,433.1 183.3,433.6 183.7,434.0 184.1,434.5 184.5,435.0 184.9,435.5 185.3,436.1 185.7,436.7 186.1,437.2 186.5,437.8 186.9,438.3 187.3,438.7 187.7,439.2 188.1,439.7 188.5,440.1 188.9,440.6 189.3,440.9 189.7,441.2 190.1,441.4 190.5,441.5 190.9,441.4 191.3,441.2 191.7,440.8 192.1,440.4 192.5,439.8 192.9,439.2 193.3,438.6 193.7,438.0 194.1,437.1 194.5,436.0 194.9,434.8 195.3,433.6 195.7,432.4 196.1,431.3 196.5,430.3 196.9,429.4 197.3,428.5 197.7,427.6 198.1,426.7 198.5,425.9 198.9,425.3 199.3,424.7 199.7,424.2 200.1,423.6 200.5,423.2 200.9,422.8 201.3,422.6 201.7,422.6 202.1,422.7 202.5,422.8 202.9,423.0 203.3,423.2 203.7,423.4 204.1,423.8 204.5,424.2 204.9,424.8 205.3,425.3 205.7,425.8 206.1,426.2 206.5,426.7 206.9,427.2 207.3,427.7 207.7,428.2 208.1,428.6 208.5,429.0 208.9,429.2 209.3,429.3 209.7,429.2 210.1,428.9 210.5,428.5 210.9,428.0 211.3,427.4 211.7,426.9 212.1,426.4 212.5,425.9 212.9,425.2 213.3,424.5 213.7,423.8 214.1,423.2 214.5,422.8 214.9,422.6 215.3,422.6 215.7,422.8 216.1,423.1 216.5,423.5 216.9,423.9 217.3,424.4 217.7,424.8 218.1,425.2 218.5,425.8 218.9,426.5 219.3,427.2 219.7,427.8 220.1,428.4 220.5,428.7 220.9,428.8 221.3,428.6 221.7,428.2 222.1,427.7 222.5,427.2 222.9,426.7 223.3,426.3 223.7,425.9 224.1,425.5 224.5,425.1 224.9,424.8 225.3,424.6 225.7,424.5 226.1,424.9 226.5,425.5 226.9,426.4 227.3,427.4 227.7,428.3 228.1,429.0 228.5,429.7 228.9,430.4 229.3,431.1 229.7,431.7 230.1,432.1 230.5,432.2 230.9,432.0 231.3,431.6 231.7,431.1 232.1,430.5 232.5,429.9 232.9,429.3 233.3,428.8 233.7,428.3 234.1,427.7 234.5,427.1 234.9,426.5 235.3,426.0 235.7,425.7 236.1,425.5 236.5,425.6 236.9,425.9 237.3,426.3 237.7,426.8 238.1,427.2 238.5,427.6 238.9,427.9 239.3,427.9 239.7,427.8 240.1,427.7 240.5,427.5 240.9,427.3 241.3,427.1 241.7,426.9 242.1,426.4 242.5,425.9 242.9,425.3 243.3,424.7 243.7,424.2 244.1,423.9 244.5,423.8 244.9,423.9 245.3,424.2 245.7,424.6 246.1,425.1 246.5,425.6 246.9,426.2 247.3,426.7 247.7,427.3 248.1,428.0 248.5,428.7 248.9,429.4 249.3,430.1 249.7,430.7 250.1,431.1 250.5,431.4 250.9,431.6 251.3,431.7 251.7,431.9 252.1,432.1 252.5,432.2 252.9,432.4 253.3,432.7 253.7,433.1 254.1,433.5 254.5,434.0 254.9,434.4 255.3,434.7 255.7,434.9 256.1,434.9 256.5,434.7 256.9,434.5 257.3,434.2 257.7,433.8 258.1,433.3 258.5,432.8 258.9,432.4 259.3,431.8 259.7,431.0 260.1,430.1 260.5,429.2 260.9,428.4 261.3,427.7 261.7,427.2 262.1,426.9 262.5,426.6 262.9,426.4 263.3,426.2 263.7,426.0 264.1,425.9 264.5,425.6 264.9,425.4 265.3,425.0 265.7,424.6 266.1,424.1 266.5,423.6 266.9,423.1 267.3,422.6 267.7,422.1 268.1,421.7 268.5,421.2 268.9,420.7 269.3,420.2 269.7,419.8 270.1,419.6 270.5,419.6 270.9,419.9 271.3,420.4 271.7,421.1 272.1,421.9 272.5,422.8 272.9,423.8 273.3,425.2 273.7,427.0 274.1,428.8 274.5,430.7 274.9,432.8 275.3,435.3 275.7,437.8 276.1,439.7 276.5,440.5 276.9,440.2 277.3,439.2 277.7,437.8 278.1,435.9 278.5,433.6 278.9,431.0 279.3,428.1 279.7,425.1 280.1,421.9 280.5,418.8 280.9,415.7 281.3,412.7 281.7,409.9 282.1,407.3 282.5,405.1 282.9,403.3 283.3,402.0 283.7,401.2 284.1,401.0 284.5,402.1 284.9,404.6 285.3,408.1 285.7,412.6 286.1,417.8 286.5,423.6 286.9,429.8 287.3,436.2 287.7,442.5 288.1,448.7 288.5,454.5 288.9,459.7 289.3,464.2 289.7,467.7 290.1,470.2 290.5,471.3 290.9,470.6 291.3,467.9 291.7,463.3 292.1,457.2 292.5,449.8 292.9,441.4 293.3,432.4 293.7,423.1 294.1,413.7 294.5,404.6 294.9,396.0 295.3,388.4 295.7,381.9 296.1,376.9 296.5,373.6 296.9,372.5 297.3,373.6 297.7,376.8 298.1,381.7 298.5,388.1 298.9,395.7 299.3,404.0 299.7,412.9 300.1,422.0 300.5,431.1 300.9,439.7 301.3,447.7 301.7,454.7 302.1,460.4 302.5,464.5 302.9,466.7 303.3,466.8 303.7,465.1 304.1,462.0 304.5,457.7 304.9,452.6 305.3,446.9 305.7,440.8 306.1,434.6 306.5,428.7 306.9,423.2 307.3,418.5 307.7,414.8 308.1,412.4 308.5,411.5 308.9,411.9 309.3,413.1 309.7,414.9 310.1,417.1 310.5,419.6 310.9,422.1 311.3,424.5 311.7,426.6 312.1,428.2 312.5,429.2 312.9,429.4 313.3,428.1 313.7,425.1 314.1,420.9 314.5,415.6 314.9,409.7 315.3,403.4 315.7,396.9 316.1,390.7 316.5,384.9 316.9,379.9 317.3,375.9 317.7,373.3 318.1,372.4 318.5,373.4 318.9,376.2 319.3,380.7 319.7,386.5 320.1,393.5 320.5,401.5 320.9,410.1 321.3,419.2 321.7,428.6 322.1,438.0 322.5,447.2 322.9,456.0 323.3,464.2 323.7,471.4 324.1,477.6 324.5,482.4 324.9,485.7 325.3,487.1 325.7,487.0 326.1,486.1 326.5,484.6 326.9,482.5 327.3,479.8 327.7,476.6 328.1,473.0 328.5,469.0 328.9,464.6 329.3,459.9 329.7,454.9 330.1,449.7 330.5,444.4 330.9,438.9 331.3,433.4 331.7,427.8 332.1,422.3 332.5,416.8 332.9,411.5 333.3,406.3 333.7,401.3 334.1,396.6 334.5,392.2 334.9,388.2 335.3,384.6 335.7,381.4 336.1,378.7 336.5,376.6 336.9,375.1 337.3,374.2 337.7,374.0 338.1,375.1 338.5,377.4 338.9,380.8 339.3,385.2 339.7,390.4 340.1,396.2 340.5,402.7 340.9,409.5 341.3,416.6 341.7,423.7 342.1,430.9 342.5,437.9 342.9,444.5 343.3,450.7 343.7,456.2 344.1,461.0 344.5,465.0 344.9,467.8 345.3,469.5 345.7,469.9 346.1,468.8 346.5,466.5 346.9,463.1 347.3,458.8 347.7,453.8 348.1,448.2 348.5,442.3 348.9,436.1 349.3,430.0 349.7,423.9 350.1,418.3 350.5,413.1 350.9,408.6 351.3,405.0 351.7,402.4 352.1,401.0 352.5,401.0 352.9,402.1 353.3,404.3 353.7,407.3 354.1,411.0 354.5,415.2 354.9,419.6 355.3,424.3 355.7,428.9 356.1,433.3 356.5,437.4 356.9,440.9 357.3,443.7 357.7,445.7 358.1,446.6 358.5,446.3 358.9,445.2 359.3,443.2 359.7,440.6 360.1,437.6 360.5,434.1 360.9,430.4 361.3,426.7 361.7,423.0 362.1,419.5 362.5,416.3 362.9,413.6 363.3,411.5 363.7,410.1 364.1,409.6 364.5,410.2 364.9,411.8 365.3,414.4 365.7,417.7 366.1,421.7 366.5,426.1 366.9,430.9 367.3,435.9 367.7,441.0 368.1,445.9 368.5,450.6 368.9,455.0 369.3,458.8 369.7,461.9 370.1,464.3 370.5,465.7 370.9,465.9 371.3,464.7 371.7,462.0 372.1,458.4 372.5,454.1 372.9,449.6 373.3,445.2 373.7,441.3 374.1,437.9 374.5,434.2 374.9,430.5 375.3,427.2 375.7,424.5 376.1,422.9 376.5,421.8 376.9,420.9 377.3,420.1 377.7,419.4 378.1,418.8 378.5,418.1 378.9,417.4 379.3,416.6 379.7,415.8 380.1,414.9 380.5,414.1 380.9,413.2 381.3,412.4 381.7,411.6 382.1,410.9 382.5,410.2 382.9,409.5 383.3,408.7 383.7,408.0 384.1,407.3 384.5,406.7 384.9,406.2 385.3,405.9 385.7,405.8 386.1,406.7 386.5,408.8 386.9,411.8 387.3,415.7 387.7,420.3 388.1,425.6 388.5,431.5 388.9,437.7 389.3,444.2 389.7,450.9 390.1,457.7 390.5,464.4 390.9,470.9 391.3,477.1 391.7,483.0 392.1,488.3 392.5,492.9 392.9,496.8 393.3,499.8 393.7,501.9 394.1,502.8 394.5,502.0 394.9,498.7 395.3,493.0 395.7,485.3 396.1,476.0 396.5,465.2 396.9,453.4 397.3,440.8 397.7,427.8 398.1,414.7 398.5,401.8 398.9,389.4 399.3,377.8 399.7,367.4 400.1,358.4 400.5,351.2 400.9,346.1 401.3,343.4 401.7,343.4 402.1,346.6 402.5,352.5 402.9,360.7 403.3,370.8 403.7,382.4 404.1,395.1 404.5,408.3 404.9,421.9 405.3,435.1 405.7,447.8 406.1,459.4 406.5,469.5 406.9,477.7 407.3,483.6 407.7,486.8 408.1,487.0 408.5,485.5 408.9,482.7 409.3,478.9 409.7,474.3 410.1,469.1 410.5,463.6 410.9,458.1 411.3,452.8 411.7,447.8 412.1,443.6 412.5,440.3 412.9,438.1 413.3,437.3 413.7,437.4 414.1,437.8 414.5,438.4 414.9,439.1 415.3,439.7 415.7,440.3 416.1,440.8 416.5,441.0 416.9,440.7 417.3,439.6 417.7,437.8 418.1,435.4 418.5,432.5 418.9,429.3 419.3,425.8 419.7,422.4 420.1,418.9 420.5,415.7 420.9,412.8 421.3,410.4 421.7,408.6 422.1,407.5 422.5,407.2 422.9,408.1 423.3,409.9 423.7,412.6 424.1,416.0 424.5,420.1 424.9,424.8 425.3,429.9 425.7,435.2 426.1,440.8 426.5,446.4 426.9,452.0 427.3,457.4 427.7,462.6 428.1,467.3 428.5,471.6 428.9,475.2 429.3,478.1 429.7,480.2 430.1,481.3 430.5,481.2 430.9,479.4 431.3,476.1 431.7,471.5 432.1,465.7 432.5,459.1 432.9,451.7 433.3,443.9 433.7,435.9 434.1,427.8 434.5,420.0 434.9,412.5 435.3,405.7 435.7,399.7 436.1,394.7 436.5,391.1 436.9,388.9 437.3,388.5 437.7,389.9 438.1,393.2 438.5,397.9 438.9,403.9 439.3,410.8 439.7,418.4 440.1,426.5 440.5,434.8 440.9,443.1 441.3,451.0 441.7,458.3 442.1,464.8 442.5,470.1 442.9,474.1 443.3,476.5 443.7,477.0 444.1,475.8 444.5,473.1 444.9,469.2 445.3,464.2 445.7,458.6 446.1,452.5 446.5,446.1 446.9,439.7 447.3,433.6 447.7,428.0 448.1,423.0 448.5,419.1 448.9,416.4 449.3,415.2 449.7,415.2 450.1,415.8 450.5,416.7 450.9,417.9 451.3,419.3 451.7,420.9 452.1,422.5 452.5,424.2 452.9,425.8 453.3,427.3 453.7,428.6 454.1,429.6 454.5,430.5 454.9,431.3 455.3,432.1 455.7,432.8 456.1,433.5 456.5,434.3 456.9,435.2 457.3,436.2 457.7,437.5 458.1,438.8 458.5,440.3 458.9,441.7 459.3,443.1 459.7,444.3 460.1,445.4 460.5,446.2 460.9,446.7 461.3,446.7 461.7,445.3 462.1,442.2 462.5,437.6 462.9,432.0 463.3,425.5 463.7,418.4 464.1,411.1 464.5,403.8 464.9,396.7 465.3,390.2 465.7,384.6 466.1,380.0 466.5,376.9 466.9,375.5 467.3,376.0 467.7,378.3 468.1,382.4 468.5,387.9 468.9,394.7 469.3,402.5 469.7,411.1 470.1,420.2 470.5,429.8 470.9,439.5 471.3,449.2 471.7,458.6 472.1,467.5 472.5,475.7 472.9,483.0 473.3,489.2 473.7,494.0 474.1,497.3 474.5,498.7 474.9,498.1 475.3,495.3 475.7,490.6 476.1,484.2 476.5,476.5 476.9,467.7 477.3,458.1 477.7,448.1 478.1,437.9 478.5,427.8 478.9,418.1 479.3,409.1 479.7,401.0 480.1,394.3 480.5,389.1 480.9,385.8 481.3,384.6 481.7,385.8 482.1,389.3 482.5,394.7 482.9,401.7 483.3,409.8 483.7,418.8 484.1,428.2 484.5,437.8 484.9,447.1 485.3,455.9 485.7,463.8 486.1,470.4 486.5,475.3 486.9,478.3 487.3,478.9 487.7,477.6 488.1,474.7 488.5,470.5 488.9,465.1 489.3,458.7 489.7,451.6 490.1,443.9 490.5,435.9 490.9,427.7 491.3,419.7 491.7,411.9 492.1,404.6 492.5,398.0 492.9,392.4 493.3,387.8 493.7,384.5 494.1,382.8 494.5,382.9 494.9,385.3 495.3,389.6 495.7,395.5 496.1,402.7 496.5,410.6 496.9,419.0 497.3,427.5 497.7,435.6 498.1,443.0 498.5,449.2 498.9,454.0 499.3,456.9 499.7,457.5 500.1,456.2 500.5,453.2 500.9,448.9 501.3,443.7 501.7,437.6 502.1,431.1 502.5,424.4 502.9,417.9 503.3,411.7 503.7,406.2 504.1,401.6 504.5,398.3 504.9,396.5 505.3,396.5 505.7,398.1 506.1,401.1 506.5,405.2 506.9,410.2 507.3,415.8 507.7,421.9 508.1,428.2 508.5,434.4 508.9,440.3 509.3,445.6 509.7,450.2 510.1,453.8 510.5,456.1 510.9,456.9 511.3,456.2 511.7,454.2 512.1,451.2 512.5,447.4 512.9,442.8 513.3,437.9 513.7,432.7 514.1,427.5 514.5,422.5 514.9,417.8 515.3,413.8 515.7,410.5 516.1,408.3 516.5,407.2 516.9,407.4 517.3,408.1 517.7,409.2 518.1,410.8 518.5,412.6 518.9,414.7 519.3,417.0 519.7,419.4 520.1,421.8 520.5,424.1 520.9,426.3 521.3,428.3 521.7,430.1 522.1,431.4 522.5,432.4 522.9,432.8 523.3,432.5 523.7,431.3 524.1,429.6 524.5,427.5 524.9,425.5 525.3,423.8 525.7,422.3 526.1,420.6 526.5,418.9 526.9,417.2 527.3,415.7 527.7,414.4 528.1,413.4 528.5,412.9 528.9,412.9 529.3,413.3 529.7,414.1 530.1,415.1 530.5,416.4 530.9,417.7 531.3,419.0 531.7,420.3 532.1,422.0 532.5,424.1 532.9,426.2 533.3,428.1 533.7,429.3 534.1,429.6 534.5,429.3 534.9,428.6 535.3,427.7 535.7,426.7 536.1,425.6 536.5,424.5 536.9,423.5 537.3,422.3 537.7,420.9 538.1,419.5 538.5,418.1 538.9,417.0 539.3,416.1 539.7,415.7 540.1,415.9 540.5,416.6 540.9,417.8 541.3,419.3 541.7,420.9 542.1,422.5 542.5,424.0 542.9,425.6 543.3,427.6 543.7,429.6 544.1,431.4 544.5,432.8 544.9,433.5 545.3,433.3 545.7,432.7 546.1,431.6 546.5,430.3 546.9,428.7 547.3,427.0 547.7,425.2 548.1,423.6 548.5,422.2 548.9,421.0 549.3,420.0 549.7,418.9 550.1,417.8 550.5,416.7 550.9,415.7 551.3,414.9 551.7,414.1 552.1,413.6 552.5,413.3 552.9,413.3 553.3,413.6 553.7,414.2 554.1,414.9 554.5,415.8 554.9,416.8 555.3,417.9 555.7,418.9 556.1,420.0 556.5,421.2 556.9,422.7 557.3,424.3 557.7,426.0 558.1,427.6 558.5,429.1 558.9,430.3 559.3,431.2 559.7,432.2 560.1,433.1 560.5,433.7 560.9,433.9 561.3,433.7 561.7,433.2 562.1,432.4 562.5,431.5 562.9,430.5 563.3,429.6 563.7,428.9 564.1,428.2 564.5,427.6 564.9,426.9 565.3,426.2 565.7,425.6 566.1,425.0 566.5,424.6 566.9,424.4 567.3,424.3 567.7,424.4 568.1,424.6 568.5,425.0 568.9,425.3 569.3,425.8 569.7,426.2 570.1,426.6 570.5,427.2 570.9,427.9 571.3,428.6 571.7,429.4 572.1,430.0 572.5,430.4 572.9,430.6 573.3,430.5 573.7,430.4 574.1,430.2 574.5,429.9 574.9,429.7 575.3,429.4 575.7,429.2 576.1,429.1 576.5,429.1 576.9,429.2 577.3,429.3 577.7,429.5 578.1,429.8 578.5,430.0 578.9,430.2 579.3,430.5 579.7,430.8 580.1,431.1 580.5,431.5 580.9,431.8 581.3,432.0 581.7,432.0 582.1,431.6 582.5,430.8 582.9,429.6 583.3,428.4 583.7,427.0 584.1,425.8 584.5,424.8 584.9,423.9 585.3,422.9 585.7,421.9 586.1,420.9 586.5,420.1 586.9,419.3 587.3,418.8 587.7,418.6 588.1,418.7 588.5,418.9 588.9,419.3 589.3,419.8 589.7,420.4 590.1,421.0 590.5,421.6 590.9,422.2 591.3,422.9 591.7,423.8 592.1,424.7 592.5,425.5 592.9,426.2 593.3,426.6 593.7,426.7 594.1,426.5 594.5,426.1 594.9,425.5 595.3,424.8 595.7,424.1 596.1,423.5 596.5,422.9 596.9,422.4 597.3,421.7 597.7,421.1 598.1,420.5 598.5,420.0 598.9,419.7 599.3,419.5 599.7,419.6 600.1,420.0 600.5,420.6 600.9,421.3 601.3,422.1 601.7,422.8 602.1,423.4 602.5,424.1 602.9,424.8 603.3,425.5 603.7,426.0 604.1,426.3 604.5,426.2 604.9,426.0 605.3,425.7 605.7,425.3 606.1,424.8 606.5,424.4 606.9,424.1 607.3,423.9 607.7,423.8 608.1,424.0 608.5,424.3 608.9,424.9 609.3,425.5 609.7,426.2 610.1,427.0 610.5,427.7 610.9,428.6 611.3,429.7 611.7,430.9 612.1,432.2 612.5,433.4 612.9,434.4 613.3,435.3 613.7,436.3 614.1,437.3 614.5,438.1 614.9,438.6 615.3,438.8 615.7,438.7 616.1,438.4 616.5,438.0 616.9,437.6 617.3,437.1 617.7,436.7 618.1,436.4 618.5,436.2 618.9,436.0 619.3,435.8 619.7,435.7 620.1,435.6 620.5,435.4 620.9,435.3 621.3,435.2 621.7,435.0 622.1,434.9 622.5,434.7 622.9,434.5 623.3,434.3 623.7,434.1 624.1,433.9 624.5,433.7 624.9,433.5 625.3,433.3 625.7,433.0 626.1,432.9 626.5,432.7 626.9,432.5 627.3,432.3 627.7,432.1 628.1,431.9 628.5,431.7 628.9,431.5 629.3,431.3 629.7,431.1 630.1,430.9 630.5,430.7 630.9,430.4 631.3,430.2 631.7,430.0 632.1,429.8 632.5,429.7 632.9,429.6 633.3,429.6 633.7,429.8 634.1,430.0 634.5,430.4 634.9,430.8 635.3,431.3 635.7,431.8 636.1,432.6 636.5,433.7 636.9,434.8 637.3,435.9 637.7,436.9 638.1,437.6 638.5,438.3 638.9,439.0 639.3,439.6 639.7,440.2 640.1,440.6 640.5,441.0 640.9,441.3 641.3,441.4 641.7,441.6 642.1,441.8 642.5,441.9 642.9,442.0 643.3,442.1 643.7,442.1 644.1,442.0 644.5,441.8 644.9,441.4 645.3,441.0 645.7,440.6 646.1,440.1 646.5,439.7 646.9,439.3 647.3,438.8 647.7,438.3 648.1,437.8 648.5,437.3 648.9,436.8 649.3,436.4 649.7,436.0 650.1,435.7 650.5,435.4 650.9,435.1 651.3,434.9 651.7,434.6 652.1,434.3 652.5,434.1 652.9,433.8 653.3,433.5 653.7,433.2 654.1,432.9 654.5,432.6 654.9,432.4 655.3,432.1 655.7,431.8 656.1,431.5 656.5,431.1 656.9,430.8 657.3,430.4 657.7,430.0 658.1,429.5 658.5,428.9 658.9,428.4 659.3,427.8 659.7,427.3 660.1,426.8 660.5,426.3 660.9,425.9 661.3,425.5 661.7,425.2 662.1,424.8 662.5,424.5 662.9,424.2 663.3,424.0 663.7,423.8 664.1,423.7 664.5,423.7 664.9,423.6 665.3,423.5 665.7,423.5 666.1,423.4 666.5,423.4 666.9,423.4 667.3,423.4 667.7,423.5 668.1,423.8 668.5,424.1 668.9,424.5 669.3,425.0 669.7,425.4 670.1,425.8 670.5,426.2 670.9,426.8 671.3,427.3 671.7,427.9 672.1,428.4 672.5,428.8 672.9,429.1 673.3,429.2 673.7,429.3 674.1,429.4 674.5,429.5 674.9,429.6 675.3,429.6 675.7,429.6 676.1,429.5 676.5,429.5 676.9,429.3 677.3,429.2 677.7,429.0 678.1,428.8 678.3,428.7" stroke="#f00" stroke-width="3.05"/>
</g>
<rect x="127" y="326.3" width="555.7" height="206.7" fill="none" stroke="#000" stroke-width="1.9"/>
<line x1="152.0" y1="533" x2="152.0" y2="542.3" stroke="#000" stroke-width="1.8"/>
<rect x="128.6" y="563.5" width="17.8" height="1.35"/>
<text x="149.4" y="571.8" font-size="30.4" style='font-family:"Liberation Serif",serif'>20</text>
<line x1="278.5" y1="533" x2="278.5" y2="542.3" stroke="#000" stroke-width="1.8"/>
<rect x="255.1" y="563.5" width="17.8" height="1.35"/>
<text x="275.9" y="571.8" font-size="30.4" style='font-family:"Liberation Serif",serif'>10</text>
<line x1="405.0" y1="533" x2="405.0" y2="542.3" stroke="#000" stroke-width="1.8"/>
<text x="405.7" y="571.8" font-size="30.4" text-anchor="middle" style='font-family:"Liberation Serif",serif'>0</text>
<line x1="531.5" y1="533" x2="531.5" y2="542.3" stroke="#000" stroke-width="1.8"/>
<text x="532.2" y="571.8" font-size="30.4" text-anchor="middle" style='font-family:"Liberation Serif",serif'>10</text>
<line x1="658.0" y1="533" x2="658.0" y2="542.3" stroke="#000" stroke-width="1.8"/>
<text x="658.7" y="571.8" font-size="30.4" text-anchor="middle" style='font-family:"Liberation Serif",serif'>20</text>
<line x1="118" y1="523.7" x2="127" y2="523.7" stroke="#000" stroke-width="1.8"/>
<text x="109" y="534.1" font-size="30.4" text-anchor="end" style='font-family:"Liberation Serif",serif'>0.5</text>
<line x1="118" y1="429.6" x2="127" y2="429.6" stroke="#000" stroke-width="1.8"/>
<text x="109" y="440.0" font-size="30.4" text-anchor="end" style='font-family:"Liberation Serif",serif'>1.0</text>
<line x1="118" y1="335.6" x2="127" y2="335.6" stroke="#000" stroke-width="1.8"/>
<text x="109" y="346.0" font-size="30.4" text-anchor="end" style='font-family:"Liberation Serif",serif'>1.5</text>
<g transform="translate(46,485) rotate(-90)">
<text x="0.6" y="0" font-size="32" style='font-family:"Liberation Serif",serif;font-style:italic'>I</text>
<text x="13.8" y="4.6" font-size="24" textLength="37.6" lengthAdjust="spacingAndGlyphs" style='font-family:"Liberation Serif",serif;font-style:italic'>shot</text>
<line x1="55.8" y1="6.5" x2="66.1" y2="-21.5" stroke="#000" stroke-width="1.45"/>
<text x="69.2" y="0.3" font-size="32" style='font-family:"Liberation Serif",serif;font-style:italic'>I</text>
<text x="81.5" y="4.4" font-size="24" textLength="28.6" lengthAdjust="spacingAndGlyphs" style='font-family:"Liberation Serif",serif;font-style:italic'>ref</text>
</g>
<text x="313.9" y="616.8" font-size="30" textLength="183.4" lengthAdjust="spacingAndGlyphs" style='font-family:"Liberation Serif",serif'>WireAxis [<tspan font-style="italic">μ</tspan>m]</text>
<g stroke="#000" stroke-width="1.6"><line x1="296.4" y1="356.7" x2="319" y2="356.7"/><line x1="296.4" y1="351" x2="296.4" y2="362.8"/><line x1="319" y1="351" x2="319" y2="362.8"/></g>
<text x="299.6" y="348" font-size="20" font-weight="bold" textLength="11.6" lengthAdjust="spacingAndGlyphs" style='font-family:"Liberation Sans",sans-serif'>λ</text>
<rect x="452.6" y="465.4" width="218.1" height="55.3" rx="4" fill="#fff" fill-opacity="0.8" stroke="#d6d6d6" stroke-width="2"/>
<line x1="454.4" y1="477.6" x2="494" y2="477.6" stroke="#000" stroke-width="3.2"/>
<line x1="454.4" y1="503.6" x2="494" y2="503.6" stroke="#f00" stroke-width="3.2"/>
<text x="512.4" y="486.3" font-size="24" textLength="102" lengthAdjust="spacingAndGlyphs" style='font-family:"Liberation Sans",sans-serif'>Raw Data</text>
<text x="512.4" y="512.3" font-size="24" textLength="154.3" lengthAdjust="spacingAndGlyphs" style='font-family:"Liberation Sans",sans-serif'>FFT smoothed</text>
</svg>
</body></html>
